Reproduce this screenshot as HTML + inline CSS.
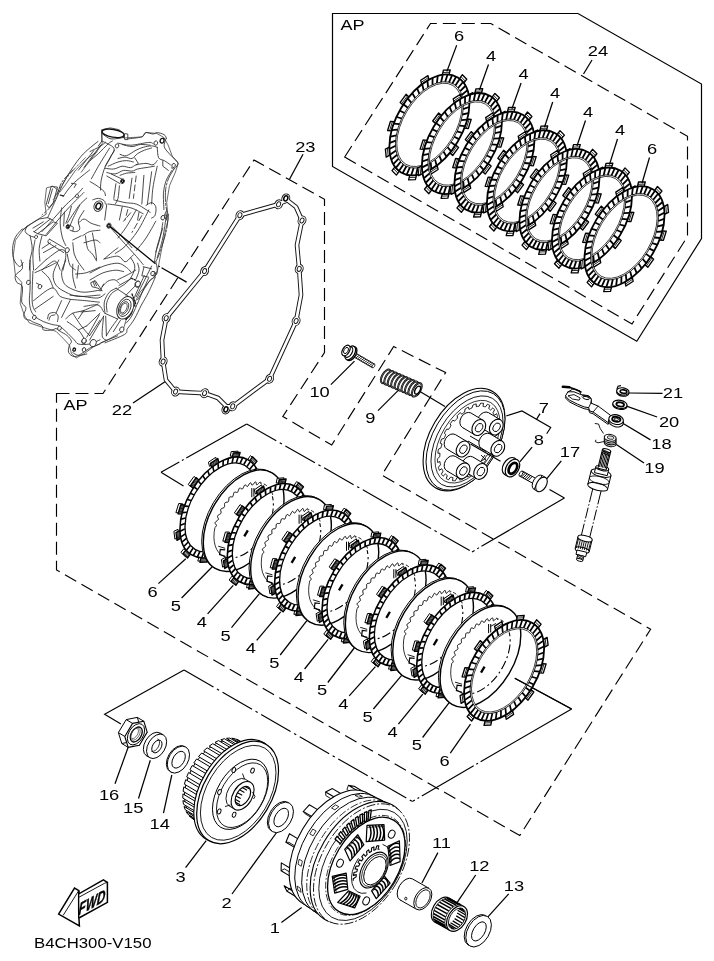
<!DOCTYPE html>
<html><head><meta charset="utf-8"><style>
html,body{margin:0;padding:0;background:#fff}
svg{display:block;filter:grayscale(1)}
text{font-family:"Liberation Sans",sans-serif;fill:#000}
</style></head><body>
<svg width="714" height="961" viewBox="0 0 714 961">
<rect width="714" height="961" fill="#fff"/>
<path d="M332.5 13.5L578.0 13.5L701.5 84.0L701.5 238.6L636.8 341.2L332.5 166.4Z" fill="none" stroke="#000" stroke-width="1.2" />
<path d="M344.7 157.0L430.5 23.5L490.8 23.5L687.5 136.3L687.5 236.5L632.0 324.0Z" fill="none" stroke="#000" stroke-width="1.15" stroke-dasharray="13 6"/>
<path d="M56.5 393.5L103.0 393.5L254.0 160.0L324.5 199.3L324.5 352.6L282.8 416.5L331.7 445.0L393.7 346.5L445.6 372.6L381.8 475.0L650.6 629.3L519.8 835.5L56.5 570.0Z" fill="none" stroke="#000" stroke-width="1.15" stroke-dasharray="13 6"/>
<path d="M161.0 472.3L246.7 423.9" fill="none" stroke="#000" stroke-width="1.15" stroke-dasharray="21 3 2 3 200"/>
<path d="M161.0 472.3L183.5 486.0" fill="none" stroke="#000" stroke-width="1.15" />
<path d="M246.7 423.9L472.0 551.9" fill="none" stroke="#000" stroke-width="1.15" stroke-dasharray="34 4 2.5 4"/>
<path d="M472.0 551.9L564.4 498.0" fill="none" stroke="#000" stroke-width="1.15" stroke-dasharray="3 3 2 3 200"/>
<path d="M564.4 498.0L549.5 489.6" fill="none" stroke="#000" stroke-width="1.15" />
<path d="M120.9 724.1L104.6 714.3L184.0 670.1" fill="none" stroke="#000" stroke-width="1.15" />
<path d="M184.0 670.1L412.3 801.5" fill="none" stroke="#000" stroke-width="1.15" stroke-dasharray="34 4 2.5 4"/>
<path d="M412.3 801.5L571.6 708.9" fill="none" stroke="#000" stroke-width="1.15" stroke-dasharray="3 3 2 3 60 3 2 3 200"/>
<path d="M571.6 708.9L514.8 678.2" fill="none" stroke="#000" stroke-width="1.15" />
<path d="M506.4 415.9L522.0 410.9L550.7 427.5L546.7 433.8" fill="none" stroke="#000" stroke-width="1.15" />
<path d="M464.3 128.2L468.3 128.5L471.2 119.3L467.3 119.0Z" fill="#fff" stroke="#000" stroke-width="1.35" stroke-linejoin="round"/>
<path d="M466.3 128.4L469.2 119.2" fill="none" stroke="#000" stroke-width="0.85" />
<path d="M469.4 102.6L473.4 100.6L472.6 92.7L468.7 94.8Z" fill="#fff" stroke="#000" stroke-width="1.35" stroke-linejoin="round"/>
<path d="M471.4 101.6L470.6 93.7" fill="none" stroke="#000" stroke-width="0.85" />
<path d="M463.8 83.0L466.8 79.2L462.4 74.7L459.5 78.6Z" fill="#fff" stroke="#000" stroke-width="1.35" stroke-linejoin="round"/>
<path d="M465.3 81.1L461.0 76.7" fill="none" stroke="#000" stroke-width="0.85" />
<path d="M449.0 74.6L450.2 70.0L443.4 70.2L442.3 74.8Z" fill="#fff" stroke="#000" stroke-width="1.35" stroke-linejoin="round"/>
<path d="M449.6 72.3L442.9 72.5" fill="none" stroke="#000" stroke-width="0.85" />
<path d="M428.9 79.7L428.0 75.6L420.7 80.3L421.7 84.5Z" fill="#fff" stroke="#000" stroke-width="1.35" stroke-linejoin="round"/>
<path d="M428.4 77.6L421.2 82.4" fill="none" stroke="#000" stroke-width="0.85" />
<path d="M408.9 96.9L406.1 94.3L400.2 102.4L403.1 104.9Z" fill="#fff" stroke="#000" stroke-width="1.35" stroke-linejoin="round"/>
<path d="M407.6 95.6L401.7 103.7" fill="none" stroke="#000" stroke-width="0.85" />
<path d="M394.5 121.6L390.5 121.3L387.6 130.5L391.5 130.8Z" fill="#fff" stroke="#000" stroke-width="1.35" stroke-linejoin="round"/>
<path d="M392.5 121.4L389.6 130.6" fill="none" stroke="#000" stroke-width="0.85" />
<path d="M389.4 147.2L385.4 149.2L386.2 157.1L390.1 155.0Z" fill="#fff" stroke="#000" stroke-width="1.35" stroke-linejoin="round"/>
<path d="M387.4 148.2L388.2 156.1" fill="none" stroke="#000" stroke-width="0.85" />
<path d="M395.0 166.8L392.0 170.6L396.4 175.1L399.3 171.2Z" fill="#fff" stroke="#000" stroke-width="1.35" stroke-linejoin="round"/>
<path d="M393.5 168.7L397.8 173.1" fill="none" stroke="#000" stroke-width="0.85" />
<path d="M409.8 175.2L408.6 179.8L415.4 179.6L416.5 175.0Z" fill="#fff" stroke="#000" stroke-width="1.35" stroke-linejoin="round"/>
<path d="M409.2 177.5L415.9 177.3" fill="none" stroke="#000" stroke-width="0.85" />
<path d="M429.9 170.1L430.8 174.2L438.1 169.5L437.1 165.3Z" fill="#fff" stroke="#000" stroke-width="1.35" stroke-linejoin="round"/>
<path d="M430.4 172.2L437.6 167.4" fill="none" stroke="#000" stroke-width="0.85" />
<path d="M449.9 152.9L452.7 155.5L458.6 147.4L455.7 144.9Z" fill="#fff" stroke="#000" stroke-width="1.35" stroke-linejoin="round"/>
<path d="M451.2 154.2L457.1 146.1" fill="none" stroke="#000" stroke-width="0.85" />
<path d="M457.66 141.75A32.90 55.30 30.80 0 0 457.72 77.40A32.90 55.30 30.80 0 0 401.14 108.05A32.90 55.30 30.80 0 0 401.08 172.40A32.90 55.30 30.80 0 0 457.66 141.75Z M452.25 138.52A26.60 46.20 30.80 0 0 453.06 85.22A26.60 46.20 30.80 0 0 406.55 111.28A26.60 46.20 30.80 0 0 405.74 164.58A26.60 46.20 30.80 0 0 452.25 138.52Z" fill="#fff" stroke="none" stroke-width="0" fill-rule="evenodd"/>
<path d="M454.3 136.8L458.9 139.1M457.0 131.3L462.1 132.8M459.4 125.7L464.8 126.2M461.2 120.1L466.9 119.7M462.4 114.5L468.3 113.2M463.1 109.2L469.0 107.0M463.2 104.1L469.1 101.0M462.8 99.3L468.5 95.4M461.7 95.0L467.2 90.4M460.2 91.2L465.3 86.0M458.1 88.0L462.8 82.2M455.4 85.4L459.7 79.1M452.4 83.5L456.1 76.8M449.0 82.3L452.0 75.4M445.2 81.8L447.5 74.8M441.1 82.1L442.7 75.1M436.9 83.1L437.7 76.2M432.5 84.8L432.6 78.1M428.1 87.2L427.4 80.8M423.7 90.2L422.2 84.3M419.4 93.9L417.2 88.5M415.2 98.0L412.3 93.3M411.3 102.7L407.8 98.7M407.8 107.7L403.6 104.5M404.5 113.0L399.9 110.7M401.8 118.5L396.7 117.0M399.4 124.1L394.0 123.6M397.6 129.7L391.9 130.1M396.4 135.3L390.5 136.6M395.7 140.6L389.8 142.8M395.6 145.7L389.7 148.8M396.0 150.5L390.3 154.4M397.1 154.8L391.6 159.4M398.6 158.6L393.5 163.8M400.7 161.8L396.0 167.6M403.4 164.4L399.1 170.7M406.4 166.3L402.7 173.0M409.8 167.5L406.8 174.4M413.6 168.0L411.3 175.0M417.7 167.7L416.1 174.7M421.9 166.7L421.1 173.6M426.3 165.0L426.2 171.7M430.7 162.6L431.4 169.0M435.1 159.6L436.6 165.5M439.4 155.9L441.6 161.3M443.6 151.8L446.5 156.5M447.5 147.1L451.0 151.1M451.0 142.1L455.2 145.3" fill="none" stroke="#000" stroke-width="1.8" />
<path d="M457.66 141.75A32.90 55.30 30.80 0 0 457.72 77.40A32.90 55.30 30.80 0 0 401.14 108.05A32.90 55.30 30.80 0 0 401.08 172.40A32.90 55.30 30.80 0 0 457.66 141.75Z" fill="none" stroke="#000" stroke-width="1.8" />
<path d="M453.11 139.03A27.60 47.50 30.80 0 0 453.72 84.10A27.60 47.50 30.80 0 0 405.69 110.77A27.60 47.50 30.80 0 0 405.08 165.70A27.60 47.50 30.80 0 0 453.11 139.03Z" fill="none" stroke="#000" stroke-width="0.85" />
<path d="M451.99 138.37A26.30 45.90 30.80 0 0 452.90 85.47A26.30 45.90 30.80 0 0 406.81 111.43A26.30 45.90 30.80 0 0 405.90 164.33A26.30 45.90 30.80 0 0 451.99 138.37Z" fill="none" stroke="#000" stroke-width="0.75" />
<path d="M496.8 146.8L500.8 147.2L503.7 138.0L499.8 137.7Z" fill="#fff" stroke="#000" stroke-width="1.35" stroke-linejoin="round"/>
<path d="M498.8 147.0L501.7 137.8" fill="none" stroke="#000" stroke-width="0.85" />
<path d="M501.9 121.2L506.0 119.2L505.1 111.3L501.2 113.4Z" fill="#fff" stroke="#000" stroke-width="1.35" stroke-linejoin="round"/>
<path d="M503.9 120.2L503.1 112.4" fill="none" stroke="#000" stroke-width="0.85" />
<path d="M496.3 101.6L499.4 97.8L494.9 93.4L492.0 97.3Z" fill="#fff" stroke="#000" stroke-width="1.35" stroke-linejoin="round"/>
<path d="M497.8 99.7L493.5 95.3" fill="none" stroke="#000" stroke-width="0.85" />
<path d="M481.5 93.2L482.7 88.7L475.9 88.8L474.8 93.5Z" fill="#fff" stroke="#000" stroke-width="1.35" stroke-linejoin="round"/>
<path d="M482.1 91.0L475.4 91.2" fill="none" stroke="#000" stroke-width="0.85" />
<path d="M461.4 98.3L460.5 94.2L453.2 98.9L454.2 103.1Z" fill="#fff" stroke="#000" stroke-width="1.35" stroke-linejoin="round"/>
<path d="M461.0 96.3L453.7 101.0" fill="none" stroke="#000" stroke-width="0.85" />
<path d="M441.5 115.5L438.7 113.0L432.7 121.0L435.6 123.6Z" fill="#fff" stroke="#000" stroke-width="1.35" stroke-linejoin="round"/>
<path d="M440.1 114.3L434.2 122.3" fill="none" stroke="#000" stroke-width="0.85" />
<path d="M427.0 140.3L423.1 139.9L420.1 149.1L424.1 149.4Z" fill="#fff" stroke="#000" stroke-width="1.35" stroke-linejoin="round"/>
<path d="M425.0 140.1L422.1 149.3" fill="none" stroke="#000" stroke-width="0.85" />
<path d="M421.9 165.8L417.9 167.8L418.7 175.7L422.7 173.6Z" fill="#fff" stroke="#000" stroke-width="1.35" stroke-linejoin="round"/>
<path d="M419.9 166.8L420.7 174.7" fill="none" stroke="#000" stroke-width="0.85" />
<path d="M427.5 185.4L424.5 189.2L428.9 193.7L431.8 189.8Z" fill="#fff" stroke="#000" stroke-width="1.35" stroke-linejoin="round"/>
<path d="M426.0 187.3L430.3 191.8" fill="none" stroke="#000" stroke-width="0.85" />
<path d="M442.4 193.8L441.1 198.4L447.9 198.2L449.0 193.6Z" fill="#fff" stroke="#000" stroke-width="1.35" stroke-linejoin="round"/>
<path d="M441.7 196.1L448.4 195.9" fill="none" stroke="#000" stroke-width="0.85" />
<path d="M462.4 188.7L463.3 192.9L470.7 188.1L469.6 184.0Z" fill="#fff" stroke="#000" stroke-width="1.35" stroke-linejoin="round"/>
<path d="M462.9 190.8L470.2 186.0" fill="none" stroke="#000" stroke-width="0.85" />
<path d="M482.4 171.5L485.2 174.1L491.1 166.1L488.2 163.5Z" fill="#fff" stroke="#000" stroke-width="1.35" stroke-linejoin="round"/>
<path d="M483.8 172.8L489.7 164.8" fill="none" stroke="#000" stroke-width="0.85" />
<path d="M490.18 160.38A32.90 55.30 30.80 0 0 490.23 96.03A32.90 55.30 30.80 0 0 433.66 126.69A32.90 55.30 30.80 0 0 433.60 191.03A32.90 55.30 30.80 0 0 490.18 160.38Z M484.76 157.15A26.60 46.20 30.80 0 0 485.57 103.85A26.60 46.20 30.80 0 0 439.07 129.91A26.60 46.20 30.80 0 0 438.26 183.22A26.60 46.20 30.80 0 0 484.76 157.15Z" fill="#fff" stroke="none" stroke-width="0" fill-rule="evenodd"/>
<path d="M486.8 155.5L491.4 157.8M489.6 150.0L494.7 151.4M491.9 144.3L497.3 144.9M493.7 138.7L499.4 138.3M494.9 133.2L500.8 131.8M495.6 127.8L501.6 125.6M495.8 122.7L501.6 119.6M495.3 118.0L501.0 114.1M494.3 113.6L499.8 109.0M492.7 109.9L497.8 104.6M490.6 106.6L495.3 100.8M488.0 104.0L492.2 97.7M484.9 102.1L488.6 95.5M481.5 100.9L484.5 94.0M477.7 100.5L480.0 93.4M473.7 100.7L475.2 93.7M469.4 101.7L470.2 94.8M465.0 103.4L465.1 96.7M460.6 105.8L459.9 99.5M456.2 108.9L454.7 103.0M451.9 112.5L449.7 107.2M447.8 116.7L444.8 112.0M443.9 121.3L440.3 117.3M440.3 126.3L436.1 123.1M437.1 131.6L432.4 129.3M434.3 137.1L429.2 135.7M432.0 142.7L426.5 142.2M430.1 148.4L424.4 148.8M428.9 153.9L423.0 155.2M428.2 159.3L422.3 161.5M428.1 164.4L422.2 167.4M428.5 169.1L422.8 173.0M429.6 173.4L424.1 178.0M431.2 177.2L426.0 182.5M433.3 180.4L428.5 186.3M435.9 183.0L431.6 189.3M438.9 184.9L435.3 191.6M442.4 186.1L439.3 193.0M446.1 186.6L443.8 193.6M450.2 186.3L448.6 193.4M454.4 185.3L453.6 192.3M458.8 183.6L458.7 190.3M463.2 181.2L463.9 187.6M467.6 178.2L469.1 184.1M471.9 174.6L474.2 179.9M476.1 170.4L479.0 175.1M480.0 165.8L483.5 169.7M483.6 160.8L487.7 163.9" fill="none" stroke="#000" stroke-width="1.8" />
<path d="M490.18 160.38A32.90 55.30 30.80 0 0 490.23 96.03A32.90 55.30 30.80 0 0 433.66 126.69A32.90 55.30 30.80 0 0 433.60 191.03A32.90 55.30 30.80 0 0 490.18 160.38Z" fill="none" stroke="#000" stroke-width="1.8" />
<path d="M485.62 157.67A27.60 47.50 30.80 0 0 486.24 102.73A27.60 47.50 30.80 0 0 438.21 129.40A27.60 47.50 30.80 0 0 437.59 184.33A27.60 47.50 30.80 0 0 485.62 157.67Z" fill="none" stroke="#000" stroke-width="0.85" />
<path d="M484.51 157.00A26.30 45.90 30.80 0 0 485.42 104.11A26.30 45.90 30.80 0 0 439.33 130.07A26.30 45.90 30.80 0 0 438.41 182.96A26.30 45.90 30.80 0 0 484.51 157.00Z" fill="none" stroke="#000" stroke-width="0.75" />
<path d="M529.3 165.4L533.3 165.8L536.2 156.6L532.3 156.3Z" fill="#fff" stroke="#000" stroke-width="1.35" stroke-linejoin="round"/>
<path d="M531.3 165.6L534.3 156.4" fill="none" stroke="#000" stroke-width="0.85" />
<path d="M534.4 139.9L538.5 137.9L537.6 130.0L533.7 132.1Z" fill="#fff" stroke="#000" stroke-width="1.35" stroke-linejoin="round"/>
<path d="M536.5 138.9L535.7 131.0" fill="none" stroke="#000" stroke-width="0.85" />
<path d="M528.8 120.3L531.9 116.5L527.5 112.0L524.6 115.9Z" fill="#fff" stroke="#000" stroke-width="1.35" stroke-linejoin="round"/>
<path d="M530.3 118.4L526.0 113.9" fill="none" stroke="#000" stroke-width="0.85" />
<path d="M514.0 111.9L515.2 107.3L508.5 107.5L507.4 112.1Z" fill="#fff" stroke="#000" stroke-width="1.35" stroke-linejoin="round"/>
<path d="M514.6 109.6L507.9 109.8" fill="none" stroke="#000" stroke-width="0.85" />
<path d="M493.9 117.0L493.0 112.8L485.7 117.6L486.7 121.7Z" fill="#fff" stroke="#000" stroke-width="1.35" stroke-linejoin="round"/>
<path d="M493.5 114.9L486.2 119.7" fill="none" stroke="#000" stroke-width="0.85" />
<path d="M474.0 134.2L471.2 131.6L465.3 139.6L468.1 142.2Z" fill="#fff" stroke="#000" stroke-width="1.35" stroke-linejoin="round"/>
<path d="M472.6 132.9L466.7 140.9" fill="none" stroke="#000" stroke-width="0.85" />
<path d="M459.5 158.9L455.6 158.5L452.7 167.7L456.6 168.0Z" fill="#fff" stroke="#000" stroke-width="1.35" stroke-linejoin="round"/>
<path d="M457.6 158.7L454.6 167.9" fill="none" stroke="#000" stroke-width="0.85" />
<path d="M454.4 184.5L450.4 186.5L451.2 194.4L455.2 192.3Z" fill="#fff" stroke="#000" stroke-width="1.35" stroke-linejoin="round"/>
<path d="M452.4 185.5L453.2 193.3" fill="none" stroke="#000" stroke-width="0.85" />
<path d="M460.1 204.1L457.0 207.9L461.4 212.3L464.3 208.4Z" fill="#fff" stroke="#000" stroke-width="1.35" stroke-linejoin="round"/>
<path d="M458.5 206.0L462.9 210.4" fill="none" stroke="#000" stroke-width="0.85" />
<path d="M474.9 212.5L473.6 217.0L480.4 216.9L481.5 212.2Z" fill="#fff" stroke="#000" stroke-width="1.35" stroke-linejoin="round"/>
<path d="M474.3 214.7L481.0 214.5" fill="none" stroke="#000" stroke-width="0.85" />
<path d="M495.0 207.4L495.9 211.5L503.2 206.8L502.2 202.6Z" fill="#fff" stroke="#000" stroke-width="1.35" stroke-linejoin="round"/>
<path d="M495.4 209.4L502.7 204.7" fill="none" stroke="#000" stroke-width="0.85" />
<path d="M514.9 190.2L517.7 192.7L523.6 184.7L520.8 182.1Z" fill="#fff" stroke="#000" stroke-width="1.35" stroke-linejoin="round"/>
<path d="M516.3 191.4L522.2 183.4" fill="none" stroke="#000" stroke-width="0.85" />
<path d="M522.69 179.01A32.90 55.30 30.80 0 0 522.75 114.67A32.90 55.30 30.80 0 0 466.17 145.32A32.90 55.30 30.80 0 0 466.12 209.67A32.90 55.30 30.80 0 0 522.69 179.01Z M517.28 175.79A26.60 46.20 30.80 0 0 518.09 122.48A26.60 46.20 30.80 0 0 471.59 148.55A26.60 46.20 30.80 0 0 470.78 201.85A26.60 46.20 30.80 0 0 517.28 175.79Z" fill="#fff" stroke="none" stroke-width="0" fill-rule="evenodd"/>
<path d="M519.3 174.1L524.0 176.4M522.1 168.6L527.2 170.0M524.4 163.0L529.8 163.5M526.2 157.3L531.9 156.9M527.5 151.8L533.3 150.5M528.2 146.4L534.1 144.2M528.3 141.3L534.2 138.3M527.8 136.6L533.6 132.7M526.8 132.3L532.3 127.7M525.2 128.5L530.4 123.2M523.1 125.3L527.8 119.4M520.5 122.7L524.7 116.4M517.4 120.8L521.1 114.1M514.0 119.6L517.0 112.7M510.2 119.1L512.5 112.1M506.2 119.4L507.8 112.3M501.9 120.4L502.8 113.4M497.5 122.1L497.6 115.4M493.1 124.5L492.4 118.1M488.7 127.5L487.2 121.6M484.4 131.1L482.2 125.8M480.3 135.3L477.4 130.6M476.4 139.9L472.8 136.0M472.8 144.9L468.6 141.8M469.6 150.2L464.9 147.9M466.8 155.7L461.7 154.3M464.5 161.4L459.0 160.8M462.7 167.0L457.0 167.4M461.4 172.5L455.5 173.9M460.7 177.9L454.8 180.1M460.6 183.0L454.7 186.1M461.1 187.7L455.3 191.6M462.1 192.1L456.6 196.7M463.7 195.8L458.5 201.1M465.8 199.1L461.0 204.9M468.4 201.7L464.2 208.0M471.4 203.6L467.8 210.2M474.9 204.8L471.9 211.7M478.6 205.2L476.3 212.3M482.7 205.0L481.1 212.0M486.9 204.0L486.1 210.9M491.3 202.3L491.3 209.0M495.7 199.9L496.5 206.2M500.2 196.8L501.6 202.7M504.5 193.2L506.7 198.5M508.6 189.0L511.5 193.7M512.5 184.4L516.1 188.4M516.1 179.4L520.2 182.6" fill="none" stroke="#000" stroke-width="1.8" />
<path d="M522.69 179.01A32.90 55.30 30.80 0 0 522.75 114.67A32.90 55.30 30.80 0 0 466.17 145.32A32.90 55.30 30.80 0 0 466.12 209.67A32.90 55.30 30.80 0 0 522.69 179.01Z" fill="none" stroke="#000" stroke-width="1.8" />
<path d="M518.14 176.30A27.60 47.50 30.80 0 0 518.76 121.37A27.60 47.50 30.80 0 0 470.73 148.03A27.60 47.50 30.80 0 0 470.11 202.97A27.60 47.50 30.80 0 0 518.14 176.30Z" fill="none" stroke="#000" stroke-width="0.85" />
<path d="M517.02 175.63A26.30 45.90 30.80 0 0 517.94 122.74A26.30 45.90 30.80 0 0 471.84 148.70A26.30 45.90 30.80 0 0 470.93 201.59A26.30 45.90 30.80 0 0 517.02 175.63Z" fill="none" stroke="#000" stroke-width="0.75" />
<path d="M561.9 184.1L565.8 184.4L568.7 175.2L564.8 174.9Z" fill="#fff" stroke="#000" stroke-width="1.35" stroke-linejoin="round"/>
<path d="M563.8 184.3L566.8 175.1" fill="none" stroke="#000" stroke-width="0.85" />
<path d="M567.0 158.5L571.0 156.5L570.1 148.6L566.2 150.7Z" fill="#fff" stroke="#000" stroke-width="1.35" stroke-linejoin="round"/>
<path d="M569.0 157.5L568.2 149.6" fill="none" stroke="#000" stroke-width="0.85" />
<path d="M561.3 138.9L564.4 135.1L560.0 130.6L557.1 134.5Z" fill="#fff" stroke="#000" stroke-width="1.35" stroke-linejoin="round"/>
<path d="M562.9 137.0L558.5 132.6" fill="none" stroke="#000" stroke-width="0.85" />
<path d="M546.5 130.5L547.7 125.9L541.0 126.1L539.9 130.7Z" fill="#fff" stroke="#000" stroke-width="1.35" stroke-linejoin="round"/>
<path d="M547.1 128.2L540.4 128.4" fill="none" stroke="#000" stroke-width="0.85" />
<path d="M526.4 135.6L525.5 131.5L518.2 136.2L519.2 140.4Z" fill="#fff" stroke="#000" stroke-width="1.35" stroke-linejoin="round"/>
<path d="M526.0 133.5L518.7 138.3" fill="none" stroke="#000" stroke-width="0.85" />
<path d="M506.5 152.8L503.7 150.2L497.8 158.3L500.6 160.8Z" fill="#fff" stroke="#000" stroke-width="1.35" stroke-linejoin="round"/>
<path d="M505.1 151.5L499.2 159.6" fill="none" stroke="#000" stroke-width="0.85" />
<path d="M492.0 177.5L488.1 177.2L485.2 186.4L489.1 186.7Z" fill="#fff" stroke="#000" stroke-width="1.35" stroke-linejoin="round"/>
<path d="M490.1 177.3L487.1 186.5" fill="none" stroke="#000" stroke-width="0.85" />
<path d="M486.9 203.1L482.9 205.1L483.8 213.0L487.7 210.9Z" fill="#fff" stroke="#000" stroke-width="1.35" stroke-linejoin="round"/>
<path d="M484.9 204.1L485.7 212.0" fill="none" stroke="#000" stroke-width="0.85" />
<path d="M492.6 222.7L489.5 226.5L493.9 231.0L496.8 227.1Z" fill="#fff" stroke="#000" stroke-width="1.35" stroke-linejoin="round"/>
<path d="M491.0 224.6L495.4 229.0" fill="none" stroke="#000" stroke-width="0.85" />
<path d="M507.4 231.1L506.2 235.7L512.9 235.5L514.0 230.9Z" fill="#fff" stroke="#000" stroke-width="1.35" stroke-linejoin="round"/>
<path d="M506.8 233.4L513.5 233.2" fill="none" stroke="#000" stroke-width="0.85" />
<path d="M527.5 226.0L528.4 230.1L535.7 225.4L534.7 221.2Z" fill="#fff" stroke="#000" stroke-width="1.35" stroke-linejoin="round"/>
<path d="M527.9 228.1L535.2 223.3" fill="none" stroke="#000" stroke-width="0.85" />
<path d="M547.4 208.8L550.2 211.4L556.1 203.3L553.3 200.8Z" fill="#fff" stroke="#000" stroke-width="1.35" stroke-linejoin="round"/>
<path d="M548.8 210.1L554.7 202.0" fill="none" stroke="#000" stroke-width="0.85" />
<path d="M555.21 197.65A32.90 55.30 30.80 0 0 555.27 133.30A32.90 55.30 30.80 0 0 498.69 163.95A32.90 55.30 30.80 0 0 498.63 228.30A32.90 55.30 30.80 0 0 555.21 197.65Z M549.80 194.42A26.60 46.20 30.80 0 0 550.61 141.12A26.60 46.20 30.80 0 0 504.10 167.18A26.60 46.20 30.80 0 0 503.29 220.48A26.60 46.20 30.80 0 0 549.80 194.42Z" fill="#fff" stroke="none" stroke-width="0" fill-rule="evenodd"/>
<path d="M551.8 192.7L556.5 195.0M554.6 187.2L559.7 188.7M556.9 181.6L562.4 182.1M558.7 176.0L564.4 175.6M560.0 170.4L565.8 169.1M560.7 165.1L566.6 162.9M560.8 160.0L566.7 156.9M560.3 155.2L566.1 151.3M559.3 150.9L564.8 146.3M557.7 147.1L562.9 141.9M555.6 143.9L560.3 138.1M553.0 141.3L557.2 135.0M550.0 139.4L553.6 132.7M546.5 138.2L549.5 131.3M542.7 137.7L545.1 130.7M538.7 138.0L540.3 131.0M534.4 139.0L535.3 132.1M530.1 140.7L530.1 134.0M525.6 143.1L524.9 136.7M521.2 146.1L519.8 140.2M516.9 149.8L514.7 144.4M512.8 153.9L509.9 149.2M508.9 158.6L505.3 154.6M505.3 163.6L501.2 160.4M502.1 168.9L497.4 166.6M499.3 174.4L494.2 172.9M497.0 180.0L491.5 179.5M495.2 185.6L489.5 186.0M493.9 191.2L488.1 192.5M493.2 196.5L487.3 198.7M493.1 201.6L487.2 204.7M493.6 206.4L487.8 210.3M494.6 210.7L489.1 215.3M496.2 214.5L491.0 219.7M498.3 217.7L493.6 223.5M500.9 220.3L496.7 226.6M503.9 222.2L500.3 228.9M507.4 223.4L504.4 230.3M511.2 223.9L508.8 230.9M515.2 223.6L513.6 230.6M519.5 222.6L518.6 229.5M523.8 220.9L523.8 227.6M528.3 218.5L529.0 224.9M532.7 215.5L534.1 221.4M537.0 211.8L539.2 217.2M541.1 207.7L544.0 212.4M545.0 203.0L548.6 207.0M548.6 198.0L552.7 201.2" fill="none" stroke="#000" stroke-width="1.8" />
<path d="M555.21 197.65A32.90 55.30 30.80 0 0 555.27 133.30A32.90 55.30 30.80 0 0 498.69 163.95A32.90 55.30 30.80 0 0 498.63 228.30A32.90 55.30 30.80 0 0 555.21 197.65Z" fill="none" stroke="#000" stroke-width="1.8" />
<path d="M550.66 194.93A27.60 47.50 30.80 0 0 551.27 140.00A27.60 47.50 30.80 0 0 503.24 166.67A27.60 47.50 30.80 0 0 502.63 221.60A27.60 47.50 30.80 0 0 550.66 194.93Z" fill="none" stroke="#000" stroke-width="0.85" />
<path d="M549.54 194.27A26.30 45.90 30.80 0 0 550.45 141.37A26.30 45.90 30.80 0 0 504.36 167.33A26.30 45.90 30.80 0 0 503.45 220.23A26.30 45.90 30.80 0 0 549.54 194.27Z" fill="none" stroke="#000" stroke-width="0.75" />
<path d="M594.4 202.7L598.3 203.1L601.2 193.9L597.3 193.6Z" fill="#fff" stroke="#000" stroke-width="1.35" stroke-linejoin="round"/>
<path d="M596.3 202.9L599.3 193.7" fill="none" stroke="#000" stroke-width="0.85" />
<path d="M599.5 177.1L603.5 175.1L602.7 167.2L598.7 169.3Z" fill="#fff" stroke="#000" stroke-width="1.35" stroke-linejoin="round"/>
<path d="M601.5 176.1L600.7 168.3" fill="none" stroke="#000" stroke-width="0.85" />
<path d="M593.8 157.5L596.9 153.7L592.5 149.3L589.6 153.2Z" fill="#fff" stroke="#000" stroke-width="1.35" stroke-linejoin="round"/>
<path d="M595.4 155.6L591.0 151.2" fill="none" stroke="#000" stroke-width="0.85" />
<path d="M579.0 149.1L580.3 144.6L573.5 144.7L572.4 149.4Z" fill="#fff" stroke="#000" stroke-width="1.35" stroke-linejoin="round"/>
<path d="M579.6 146.9L572.9 147.1" fill="none" stroke="#000" stroke-width="0.85" />
<path d="M558.9 154.2L558.0 150.1L550.7 154.8L551.7 159.0Z" fill="#fff" stroke="#000" stroke-width="1.35" stroke-linejoin="round"/>
<path d="M558.5 152.2L551.2 156.9" fill="none" stroke="#000" stroke-width="0.85" />
<path d="M539.0 171.4L536.2 168.9L530.3 176.9L533.1 179.5Z" fill="#fff" stroke="#000" stroke-width="1.35" stroke-linejoin="round"/>
<path d="M537.6 170.2L531.7 178.2" fill="none" stroke="#000" stroke-width="0.85" />
<path d="M524.6 196.2L520.6 195.8L517.7 205.0L521.6 205.3Z" fill="#fff" stroke="#000" stroke-width="1.35" stroke-linejoin="round"/>
<path d="M522.6 196.0L519.6 205.2" fill="none" stroke="#000" stroke-width="0.85" />
<path d="M519.5 221.7L515.4 223.7L516.3 231.6L520.2 229.5Z" fill="#fff" stroke="#000" stroke-width="1.35" stroke-linejoin="round"/>
<path d="M517.4 222.7L518.2 230.6" fill="none" stroke="#000" stroke-width="0.85" />
<path d="M525.1 241.3L522.0 245.1L526.4 249.6L529.3 245.7Z" fill="#fff" stroke="#000" stroke-width="1.35" stroke-linejoin="round"/>
<path d="M523.6 243.2L527.9 247.7" fill="none" stroke="#000" stroke-width="0.85" />
<path d="M539.9 249.7L538.7 254.3L545.4 254.1L546.5 249.5Z" fill="#fff" stroke="#000" stroke-width="1.35" stroke-linejoin="round"/>
<path d="M539.3 252.0L546.0 251.8" fill="none" stroke="#000" stroke-width="0.85" />
<path d="M560.0 244.6L560.9 248.8L568.2 244.0L567.2 239.9Z" fill="#fff" stroke="#000" stroke-width="1.35" stroke-linejoin="round"/>
<path d="M560.4 246.7L567.7 241.9" fill="none" stroke="#000" stroke-width="0.85" />
<path d="M579.9 227.4L582.7 230.0L588.6 222.0L585.8 219.4Z" fill="#fff" stroke="#000" stroke-width="1.35" stroke-linejoin="round"/>
<path d="M581.3 228.7L587.2 220.7" fill="none" stroke="#000" stroke-width="0.85" />
<path d="M587.73 216.28A32.90 55.30 30.80 0 0 587.78 151.93A32.90 55.30 30.80 0 0 531.21 182.59A32.90 55.30 30.80 0 0 531.15 246.93A32.90 55.30 30.80 0 0 587.73 216.28Z M582.31 213.05A26.60 46.20 30.80 0 0 583.12 159.75A26.60 46.20 30.80 0 0 536.62 185.81A26.60 46.20 30.80 0 0 535.81 239.12A26.60 46.20 30.80 0 0 582.31 213.05Z" fill="#fff" stroke="none" stroke-width="0" fill-rule="evenodd"/>
<path d="M584.3 211.4L589.0 213.7M587.1 205.9L592.2 207.3M589.4 200.2L594.9 200.8M591.2 194.6L596.9 194.2M592.5 189.1L598.4 187.7M593.2 183.7L599.1 181.5M593.3 178.6L599.2 175.5M592.8 173.9L598.6 170.0M591.8 169.5L597.3 164.9M590.2 165.8L595.4 160.5M588.1 162.5L592.9 156.7M585.5 159.9L589.7 153.6M582.5 158.0L586.1 151.4M579.0 156.8L582.0 149.9M575.3 156.4L577.6 149.3M571.2 156.6L572.8 149.6M567.0 157.6L567.8 150.7M562.6 159.3L562.6 152.6M558.2 161.7L557.4 155.4M553.7 164.8L552.3 158.9M549.4 168.4L547.2 163.1M545.3 172.6L542.4 167.9M541.4 177.2L537.8 173.2M537.8 182.2L533.7 179.0M534.6 187.5L529.9 185.2M531.8 193.0L526.7 191.6M529.5 198.6L524.1 198.1M527.7 204.3L522.0 204.7M526.4 209.8L520.6 211.1M525.7 215.2L519.8 217.4M525.6 220.3L519.7 223.3M526.1 225.0L520.3 228.9M527.1 229.3L521.6 233.9M528.7 233.1L523.5 238.4M530.8 236.3L526.1 242.2M533.4 238.9L529.2 245.2M536.5 240.8L532.8 247.5M539.9 242.0L536.9 248.9M543.7 242.5L541.4 249.5M547.7 242.2L546.1 249.3M552.0 241.2L551.1 248.2M556.4 239.5L556.3 246.2M560.8 237.1L561.5 243.5M565.2 234.1L566.7 240.0M569.5 230.5L571.7 235.8M573.6 226.3L576.5 231.0M577.5 221.7L581.1 225.6M581.1 216.7L585.3 219.8" fill="none" stroke="#000" stroke-width="1.8" />
<path d="M587.73 216.28A32.90 55.30 30.80 0 0 587.78 151.93A32.90 55.30 30.80 0 0 531.21 182.59A32.90 55.30 30.80 0 0 531.15 246.93A32.90 55.30 30.80 0 0 587.73 216.28Z" fill="none" stroke="#000" stroke-width="1.8" />
<path d="M583.17 213.57A27.60 47.50 30.80 0 0 583.79 158.63A27.60 47.50 30.80 0 0 535.76 185.30A27.60 47.50 30.80 0 0 535.14 240.23A27.60 47.50 30.80 0 0 583.17 213.57Z" fill="none" stroke="#000" stroke-width="0.85" />
<path d="M582.06 212.90A26.30 45.90 30.80 0 0 582.97 160.01A26.30 45.90 30.80 0 0 536.88 185.97A26.30 45.90 30.80 0 0 535.96 238.86A26.30 45.90 30.80 0 0 582.06 212.90Z" fill="none" stroke="#000" stroke-width="0.75" />
<path d="M626.9 221.3L630.8 221.7L633.8 212.5L629.8 212.2Z" fill="#fff" stroke="#000" stroke-width="1.35" stroke-linejoin="round"/>
<path d="M628.9 221.5L631.8 212.3" fill="none" stroke="#000" stroke-width="0.85" />
<path d="M632.0 195.8L636.0 193.8L635.2 185.9L631.2 188.0Z" fill="#fff" stroke="#000" stroke-width="1.35" stroke-linejoin="round"/>
<path d="M634.0 194.8L633.2 186.9" fill="none" stroke="#000" stroke-width="0.85" />
<path d="M626.4 176.2L629.4 172.4L625.0 167.9L622.1 171.8Z" fill="#fff" stroke="#000" stroke-width="1.35" stroke-linejoin="round"/>
<path d="M627.9 174.3L623.6 169.8" fill="none" stroke="#000" stroke-width="0.85" />
<path d="M611.5 167.8L612.8 163.2L606.0 163.4L604.9 168.0Z" fill="#fff" stroke="#000" stroke-width="1.35" stroke-linejoin="round"/>
<path d="M612.2 165.5L605.5 165.7" fill="none" stroke="#000" stroke-width="0.85" />
<path d="M591.5 172.9L590.6 168.7L583.2 173.5L584.3 177.6Z" fill="#fff" stroke="#000" stroke-width="1.35" stroke-linejoin="round"/>
<path d="M591.0 170.8L583.7 175.6" fill="none" stroke="#000" stroke-width="0.85" />
<path d="M571.5 190.1L568.7 187.5L562.8 195.5L565.7 198.1Z" fill="#fff" stroke="#000" stroke-width="1.35" stroke-linejoin="round"/>
<path d="M570.1 188.8L564.2 196.8" fill="none" stroke="#000" stroke-width="0.85" />
<path d="M557.1 214.8L553.1 214.4L550.2 223.6L554.1 223.9Z" fill="#fff" stroke="#000" stroke-width="1.35" stroke-linejoin="round"/>
<path d="M555.1 214.6L552.2 223.8" fill="none" stroke="#000" stroke-width="0.85" />
<path d="M552.0 240.4L547.9 242.4L548.8 250.3L552.7 248.2Z" fill="#fff" stroke="#000" stroke-width="1.35" stroke-linejoin="round"/>
<path d="M550.0 241.4L550.8 249.2" fill="none" stroke="#000" stroke-width="0.85" />
<path d="M557.6 260.0L554.5 263.8L559.0 268.2L561.9 264.3Z" fill="#fff" stroke="#000" stroke-width="1.35" stroke-linejoin="round"/>
<path d="M556.1 261.9L560.4 266.3" fill="none" stroke="#000" stroke-width="0.85" />
<path d="M572.4 268.4L571.2 272.9L578.0 272.8L579.1 268.1Z" fill="#fff" stroke="#000" stroke-width="1.35" stroke-linejoin="round"/>
<path d="M571.8 270.6L578.5 270.4" fill="none" stroke="#000" stroke-width="0.85" />
<path d="M592.5 263.3L593.4 267.4L600.7 262.7L599.7 258.5Z" fill="#fff" stroke="#000" stroke-width="1.35" stroke-linejoin="round"/>
<path d="M592.9 265.3L600.2 260.6" fill="none" stroke="#000" stroke-width="0.85" />
<path d="M612.4 246.1L615.2 248.6L621.2 240.6L618.3 238.0Z" fill="#fff" stroke="#000" stroke-width="1.35" stroke-linejoin="round"/>
<path d="M613.8 247.3L619.7 239.3" fill="none" stroke="#000" stroke-width="0.85" />
<path d="M620.24 234.91A32.90 55.30 30.80 0 0 620.30 170.57A32.90 55.30 30.80 0 0 563.72 201.22A32.90 55.30 30.80 0 0 563.67 265.57A32.90 55.30 30.80 0 0 620.24 234.91Z M614.83 231.69A26.60 46.20 30.80 0 0 615.64 178.38A26.60 46.20 30.80 0 0 569.14 204.45A26.60 46.20 30.80 0 0 568.33 257.75A26.60 46.20 30.80 0 0 614.83 231.69Z" fill="#fff" stroke="none" stroke-width="0" fill-rule="evenodd"/>
<path d="M616.8 230.0L621.5 232.3M619.6 224.5L624.7 225.9M621.9 218.9L627.4 219.4M623.8 213.2L629.5 212.8M625.0 207.7L630.9 206.4M625.7 202.3L631.6 200.1M625.8 197.2L631.7 194.2M625.4 192.5L631.1 188.6M624.3 188.2L629.8 183.6M622.7 184.4L627.9 179.1M620.6 181.2L625.4 175.3M618.0 178.6L622.3 172.3M615.0 176.7L618.6 170.0M611.5 175.5L614.6 168.6M607.8 175.0L610.1 168.0M603.7 175.3L605.3 168.2M599.5 176.3L600.3 169.3M595.1 178.0L595.2 171.3M590.7 180.4L590.0 174.0M586.3 183.4L584.8 177.5M582.0 187.0L579.7 181.7M577.8 191.2L574.9 186.5M573.9 195.8L570.4 191.9M570.3 200.8L566.2 197.7M567.1 206.1L562.5 203.8M564.3 211.6L559.2 210.2M562.0 217.3L556.6 216.7M560.2 222.9L554.5 223.3M559.0 228.4L553.1 229.8M558.3 233.8L552.3 236.0M558.1 238.9L552.3 242.0M558.6 243.6L552.9 247.5M559.6 248.0L554.1 252.6M561.2 251.7L556.1 257.0M563.3 255.0L558.6 260.8M565.9 257.6L561.7 263.9M569.0 259.5L565.3 266.1M572.4 260.7L569.4 267.6M576.2 261.1L573.9 268.2M580.2 260.9L578.7 267.9M584.5 259.9L583.7 266.8M588.9 258.2L588.8 264.9M593.3 255.8L594.0 262.1M597.7 252.7L599.2 258.6M602.0 249.1L604.2 254.4M606.1 244.9L609.1 249.6M610.0 240.3L613.6 244.3M613.6 235.3L617.8 238.5" fill="none" stroke="#000" stroke-width="1.8" />
<path d="M620.24 234.91A32.90 55.30 30.80 0 0 620.30 170.57A32.90 55.30 30.80 0 0 563.72 201.22A32.90 55.30 30.80 0 0 563.67 265.57A32.90 55.30 30.80 0 0 620.24 234.91Z" fill="none" stroke="#000" stroke-width="1.8" />
<path d="M615.69 232.20A27.60 47.50 30.80 0 0 616.31 177.27A27.60 47.50 30.80 0 0 568.28 203.93A27.60 47.50 30.80 0 0 567.66 258.87A27.60 47.50 30.80 0 0 615.69 232.20Z" fill="none" stroke="#000" stroke-width="0.85" />
<path d="M614.57 231.53A26.30 45.90 30.80 0 0 615.49 178.64A26.30 45.90 30.80 0 0 569.39 204.60A26.30 45.90 30.80 0 0 568.48 257.49A26.30 45.90 30.80 0 0 614.57 231.53Z" fill="none" stroke="#000" stroke-width="0.75" />
<path d="M659.4 240.0L663.4 240.3L666.3 231.1L662.4 230.8Z" fill="#fff" stroke="#000" stroke-width="1.35" stroke-linejoin="round"/>
<path d="M661.4 240.2L664.3 231.0" fill="none" stroke="#000" stroke-width="0.85" />
<path d="M664.5 214.4L668.5 212.4L667.7 204.5L663.8 206.6Z" fill="#fff" stroke="#000" stroke-width="1.35" stroke-linejoin="round"/>
<path d="M666.5 213.4L665.7 205.5" fill="none" stroke="#000" stroke-width="0.85" />
<path d="M658.9 194.8L661.9 191.0L657.5 186.5L654.6 190.4Z" fill="#fff" stroke="#000" stroke-width="1.35" stroke-linejoin="round"/>
<path d="M660.4 192.9L656.1 188.5" fill="none" stroke="#000" stroke-width="0.85" />
<path d="M644.1 186.4L645.3 181.8L638.5 182.0L637.4 186.6Z" fill="#fff" stroke="#000" stroke-width="1.35" stroke-linejoin="round"/>
<path d="M644.7 184.1L638.0 184.3" fill="none" stroke="#000" stroke-width="0.85" />
<path d="M624.0 191.5L623.1 187.4L615.8 192.1L616.8 196.3Z" fill="#fff" stroke="#000" stroke-width="1.35" stroke-linejoin="round"/>
<path d="M623.5 189.4L616.3 194.2" fill="none" stroke="#000" stroke-width="0.85" />
<path d="M604.0 208.7L601.2 206.1L595.3 214.2L598.2 216.7Z" fill="#fff" stroke="#000" stroke-width="1.35" stroke-linejoin="round"/>
<path d="M602.7 207.4L596.8 215.5" fill="none" stroke="#000" stroke-width="0.85" />
<path d="M589.6 233.4L585.6 233.1L582.7 242.3L586.6 242.6Z" fill="#fff" stroke="#000" stroke-width="1.35" stroke-linejoin="round"/>
<path d="M587.6 233.2L584.7 242.4" fill="none" stroke="#000" stroke-width="0.85" />
<path d="M584.5 259.0L580.5 261.0L581.3 268.9L585.2 266.8Z" fill="#fff" stroke="#000" stroke-width="1.35" stroke-linejoin="round"/>
<path d="M582.5 260.0L583.3 267.9" fill="none" stroke="#000" stroke-width="0.85" />
<path d="M590.1 278.6L587.1 282.4L591.5 286.9L594.4 283.0Z" fill="#fff" stroke="#000" stroke-width="1.35" stroke-linejoin="round"/>
<path d="M588.6 280.5L592.9 284.9" fill="none" stroke="#000" stroke-width="0.85" />
<path d="M604.9 287.0L603.7 291.6L610.5 291.4L611.6 286.8Z" fill="#fff" stroke="#000" stroke-width="1.35" stroke-linejoin="round"/>
<path d="M604.3 289.3L611.0 289.1" fill="none" stroke="#000" stroke-width="0.85" />
<path d="M625.0 281.9L625.9 286.0L633.2 281.3L632.2 277.1Z" fill="#fff" stroke="#000" stroke-width="1.35" stroke-linejoin="round"/>
<path d="M625.5 284.0L632.7 279.2" fill="none" stroke="#000" stroke-width="0.85" />
<path d="M645.0 264.7L647.8 267.3L653.7 259.2L650.8 256.7Z" fill="#fff" stroke="#000" stroke-width="1.35" stroke-linejoin="round"/>
<path d="M646.3 266.0L652.2 257.9" fill="none" stroke="#000" stroke-width="0.85" />
<path d="M652.76 253.55A32.90 55.30 30.80 0 0 652.82 189.20A32.90 55.30 30.80 0 0 596.24 219.85A32.90 55.30 30.80 0 0 596.18 284.20A32.90 55.30 30.80 0 0 652.76 253.55Z M647.35 250.32A26.60 46.20 30.80 0 0 648.16 197.02A26.60 46.20 30.80 0 0 601.65 223.08A26.60 46.20 30.80 0 0 600.84 276.38A26.60 46.20 30.80 0 0 647.35 250.32Z" fill="#fff" stroke="none" stroke-width="0" fill-rule="evenodd"/>
<path d="M649.4 248.6L654.0 250.9M652.1 243.1L657.2 244.6M654.5 237.5L659.9 238.0M656.3 231.9L662.0 231.5M657.5 226.3L663.4 225.0M658.2 221.0L664.1 218.8M658.3 215.9L664.2 212.8M657.9 211.1L663.6 207.2M656.8 206.8L662.3 202.2M655.3 203.0L660.4 197.8M653.2 199.8L657.9 194.0M650.5 197.2L654.8 190.9M647.5 195.3L651.2 188.6M644.1 194.1L647.1 187.2M640.3 193.6L642.6 186.6M636.2 193.9L637.8 186.9M632.0 194.9L632.8 188.0M627.6 196.6L627.7 189.9M623.2 199.0L622.5 192.6M618.8 202.0L617.3 196.1M614.5 205.7L612.3 200.3M610.3 209.8L607.4 205.1M606.4 214.5L602.9 210.5M602.9 219.5L598.7 216.3M599.6 224.8L595.0 222.5M596.9 230.3L591.8 228.8M594.5 235.9L589.1 235.4M592.7 241.5L587.0 241.9M591.5 247.1L585.6 248.4M590.8 252.4L584.9 254.6M590.7 257.5L584.8 260.6M591.1 262.3L585.4 266.2M592.2 266.6L586.7 271.2M593.7 270.4L588.6 275.6M595.8 273.6L591.1 279.4M598.5 276.2L594.2 282.5M601.5 278.1L597.8 284.8M604.9 279.3L601.9 286.2M608.7 279.8L606.4 286.8M612.8 279.5L611.2 286.5M617.0 278.5L616.2 285.4M621.4 276.8L621.3 283.5M625.8 274.4L626.5 280.8M630.2 271.4L631.7 277.3M634.5 267.7L636.7 273.1M638.7 263.6L641.6 268.3M642.6 258.9L646.1 262.9M646.1 253.9L650.3 257.1" fill="none" stroke="#000" stroke-width="1.8" />
<path d="M652.76 253.55A32.90 55.30 30.80 0 0 652.82 189.20A32.90 55.30 30.80 0 0 596.24 219.85A32.90 55.30 30.80 0 0 596.18 284.20A32.90 55.30 30.80 0 0 652.76 253.55Z" fill="none" stroke="#000" stroke-width="1.8" />
<path d="M648.21 250.83A27.60 47.50 30.80 0 0 648.82 195.90A27.60 47.50 30.80 0 0 600.79 222.57A27.60 47.50 30.80 0 0 600.18 277.50A27.60 47.50 30.80 0 0 648.21 250.83Z" fill="none" stroke="#000" stroke-width="0.85" />
<path d="M647.09 250.17A26.30 45.90 30.80 0 0 648.00 197.27A26.30 45.90 30.80 0 0 601.91 223.23A26.30 45.90 30.80 0 0 601.00 276.13A26.30 45.90 30.80 0 0 647.09 250.17Z" fill="none" stroke="#000" stroke-width="0.75" />
<text transform="translate(459.20 41.46) scale(1.270 1)" font-size="14.40" text-anchor="middle">6</text>
<line x1="456.70" y1="45.30" x2="446.90" y2="71.40" stroke="#000" stroke-width="1.25" />
<text transform="translate(491.00 60.66) scale(1.270 1)" font-size="14.40" text-anchor="middle">4</text>
<line x1="488.50" y1="64.50" x2="479.42" y2="90.03" stroke="#000" stroke-width="1.25" />
<text transform="translate(523.60 79.16) scale(1.270 1)" font-size="14.40" text-anchor="middle">4</text>
<line x1="521.10" y1="83.00" x2="511.93" y2="108.67" stroke="#000" stroke-width="1.25" />
<text transform="translate(555.20 98.16) scale(1.270 1)" font-size="14.40" text-anchor="middle">4</text>
<line x1="552.70" y1="102.00" x2="544.45" y2="127.30" stroke="#000" stroke-width="1.25" />
<text transform="translate(588.00 116.66) scale(1.270 1)" font-size="14.40" text-anchor="middle">4</text>
<line x1="585.50" y1="120.50" x2="576.97" y2="145.93" stroke="#000" stroke-width="1.25" />
<text transform="translate(620.00 135.16) scale(1.270 1)" font-size="14.40" text-anchor="middle">4</text>
<line x1="617.50" y1="139.00" x2="609.48" y2="164.57" stroke="#000" stroke-width="1.25" />
<text transform="translate(652.00 153.66) scale(1.270 1)" font-size="14.40" text-anchor="middle">6</text>
<line x1="649.50" y1="157.50" x2="642.00" y2="183.20" stroke="#000" stroke-width="1.25" />
<text transform="translate(352.50 29.80) scale(1.220 1)" font-size="14.80" text-anchor="middle">AP</text>
<text transform="translate(598.00 55.66) scale(1.270 1)" font-size="14.40" text-anchor="middle">24</text>
<line x1="592.00" y1="60.00" x2="583.50" y2="74.00" stroke="#000" stroke-width="1.25" />
<path d="M253.2 508.6L257.1 508.8L260.0 499.6L256.0 499.4Z" fill="#fff" stroke="#000" stroke-width="1.0" stroke-linejoin="round"/>
<path d="M255.2 509.8L259.2 510.1L262.0 500.9L258.1 500.7Z" fill="#fff" stroke="#000" stroke-width="1.35" stroke-linejoin="round"/>
<path d="M256.5 509.8L259.2 500.8" fill="none" stroke="#000" stroke-width="0.85" />
<path d="M257.4 510.0L260.2 500.8" fill="none" stroke="#000" stroke-width="0.85" />
<path d="M258.4 510.1L261.3 500.7" fill="none" stroke="#000" stroke-width="0.85" />
<path d="M257.9 483.1L262.0 481.0L261.0 473.2L257.0 475.4Z" fill="#fff" stroke="#000" stroke-width="1.0" stroke-linejoin="round"/>
<path d="M260.0 484.3L264.0 482.2L263.0 474.4L259.1 476.6Z" fill="#fff" stroke="#000" stroke-width="1.35" stroke-linejoin="round"/>
<path d="M261.2 483.6L260.3 476.0" fill="none" stroke="#000" stroke-width="0.85" />
<path d="M262.2 483.2L261.3 475.4" fill="none" stroke="#000" stroke-width="0.85" />
<path d="M263.2 482.8L262.2 474.8" fill="none" stroke="#000" stroke-width="0.85" />
<path d="M252.0 463.8L255.0 459.9L250.5 455.6L247.6 459.6Z" fill="#fff" stroke="#000" stroke-width="1.0" stroke-linejoin="round"/>
<path d="M254.0 465.0L257.0 461.2L252.5 456.8L249.7 460.8Z" fill="#fff" stroke="#000" stroke-width="1.35" stroke-linejoin="round"/>
<path d="M254.9 463.8L250.6 459.6" fill="none" stroke="#000" stroke-width="0.85" />
<path d="M255.7 462.9L251.2 458.6" fill="none" stroke="#000" stroke-width="0.85" />
<path d="M256.5 462.0L251.9 457.6" fill="none" stroke="#000" stroke-width="0.85" />
<path d="M236.9 455.8L238.1 451.2L231.2 451.6L230.2 456.2Z" fill="#fff" stroke="#000" stroke-width="1.0" stroke-linejoin="round"/>
<path d="M238.9 457.1L240.1 452.5L233.3 452.8L232.3 457.5Z" fill="#fff" stroke="#000" stroke-width="1.35" stroke-linejoin="round"/>
<path d="M239.2 455.7L232.6 456.0" fill="none" stroke="#000" stroke-width="0.85" />
<path d="M239.6 454.5L232.8 454.9" fill="none" stroke="#000" stroke-width="0.85" />
<path d="M240.0 453.4L233.0 453.7" fill="none" stroke="#000" stroke-width="0.85" />
<path d="M216.7 461.4L215.8 457.3L208.4 462.2L209.5 466.3Z" fill="#fff" stroke="#000" stroke-width="1.0" stroke-linejoin="round"/>
<path d="M218.8 462.6L217.8 458.5L210.5 463.4L211.6 467.5Z" fill="#fff" stroke="#000" stroke-width="1.35" stroke-linejoin="round"/>
<path d="M218.4 461.4L211.3 466.2" fill="none" stroke="#000" stroke-width="0.85" />
<path d="M218.3 460.3L211.0 465.3" fill="none" stroke="#000" stroke-width="0.85" />
<path d="M218.1 459.3L210.6 464.3" fill="none" stroke="#000" stroke-width="0.85" />
<path d="M196.9 478.9L194.0 476.4L188.2 484.5L191.1 487.0Z" fill="#fff" stroke="#000" stroke-width="1.0" stroke-linejoin="round"/>
<path d="M199.0 480.2L196.1 477.6L190.3 485.8L193.2 488.3Z" fill="#fff" stroke="#000" stroke-width="1.35" stroke-linejoin="round"/>
<path d="M198.1 479.5L192.3 487.4" fill="none" stroke="#000" stroke-width="0.85" />
<path d="M197.4 478.7L191.5 486.9" fill="none" stroke="#000" stroke-width="0.85" />
<path d="M196.7 478.0L190.8 486.4" fill="none" stroke="#000" stroke-width="0.85" />
<path d="M182.7 503.8L178.7 503.5L175.9 512.7L179.9 512.9Z" fill="#fff" stroke="#000" stroke-width="1.0" stroke-linejoin="round"/>
<path d="M184.8 505.0L180.8 504.7L178.0 513.9L181.9 514.1Z" fill="#fff" stroke="#000" stroke-width="1.35" stroke-linejoin="round"/>
<path d="M183.5 505.0L180.8 514.0" fill="none" stroke="#000" stroke-width="0.85" />
<path d="M182.6 504.8L179.8 514.0" fill="none" stroke="#000" stroke-width="0.85" />
<path d="M181.6 504.7L178.7 514.1" fill="none" stroke="#000" stroke-width="0.85" />
<path d="M178.0 529.3L173.9 531.3L174.9 539.1L178.8 537.0Z" fill="#fff" stroke="#000" stroke-width="1.0" stroke-linejoin="round"/>
<path d="M180.0 530.5L176.0 532.6L177.0 540.4L180.9 538.2Z" fill="#fff" stroke="#000" stroke-width="1.35" stroke-linejoin="round"/>
<path d="M178.8 531.2L179.7 538.8" fill="none" stroke="#000" stroke-width="0.85" />
<path d="M177.8 531.6L178.7 539.4" fill="none" stroke="#000" stroke-width="0.85" />
<path d="M176.8 532.0L177.8 540.0" fill="none" stroke="#000" stroke-width="0.85" />
<path d="M183.9 548.6L180.9 552.4L185.4 556.7L188.3 552.8Z" fill="#fff" stroke="#000" stroke-width="1.0" stroke-linejoin="round"/>
<path d="M186.0 549.8L183.0 553.6L187.5 558.0L190.3 554.0Z" fill="#fff" stroke="#000" stroke-width="1.35" stroke-linejoin="round"/>
<path d="M185.1 551.0L189.4 555.2" fill="none" stroke="#000" stroke-width="0.85" />
<path d="M184.3 551.9L188.8 556.2" fill="none" stroke="#000" stroke-width="0.85" />
<path d="M183.5 552.8L188.1 557.2" fill="none" stroke="#000" stroke-width="0.85" />
<path d="M199.0 556.5L197.8 561.1L204.6 560.8L205.7 556.1Z" fill="#fff" stroke="#000" stroke-width="1.0" stroke-linejoin="round"/>
<path d="M201.1 557.7L199.9 562.3L206.7 562.0L207.7 557.3Z" fill="#fff" stroke="#000" stroke-width="1.35" stroke-linejoin="round"/>
<path d="M200.8 559.1L207.4 558.8" fill="none" stroke="#000" stroke-width="0.85" />
<path d="M200.4 560.3L207.2 559.9" fill="none" stroke="#000" stroke-width="0.85" />
<path d="M200.0 561.4L207.0 561.1" fill="none" stroke="#000" stroke-width="0.85" />
<path d="M219.2 551.0L220.1 555.1L227.4 550.2L226.4 546.1Z" fill="#fff" stroke="#000" stroke-width="1.0" stroke-linejoin="round"/>
<path d="M221.2 552.2L222.2 556.3L229.5 551.4L228.4 547.3Z" fill="#fff" stroke="#000" stroke-width="1.35" stroke-linejoin="round"/>
<path d="M221.6 553.4L228.7 548.6" fill="none" stroke="#000" stroke-width="0.85" />
<path d="M221.7 554.5L229.0 549.5" fill="none" stroke="#000" stroke-width="0.85" />
<path d="M221.9 555.5L229.4 550.5" fill="none" stroke="#000" stroke-width="0.85" />
<path d="M239.0 533.4L241.8 535.9L247.7 527.8L244.8 525.3Z" fill="#fff" stroke="#000" stroke-width="1.0" stroke-linejoin="round"/>
<path d="M241.0 534.6L243.9 537.2L249.7 529.0L246.8 526.5Z" fill="#fff" stroke="#000" stroke-width="1.35" stroke-linejoin="round"/>
<path d="M241.9 535.3L247.7 527.4" fill="none" stroke="#000" stroke-width="0.85" />
<path d="M242.6 536.1L248.5 527.9" fill="none" stroke="#000" stroke-width="0.85" />
<path d="M243.3 536.8L249.2 528.4" fill="none" stroke="#000" stroke-width="0.85" />
<path d="M248.26 524.25A32.90 55.30 30.80 0 0 248.32 459.90A32.90 55.30 30.80 0 0 191.74 490.55A32.90 55.30 30.80 0 0 191.68 554.90A32.90 55.30 30.80 0 0 248.26 524.25Z M244.57 522.04A28.60 48.80 30.80 0 0 244.99 465.48A28.60 48.80 30.80 0 0 195.43 492.76A28.60 48.80 30.80 0 0 195.01 549.32A28.60 48.80 30.80 0 0 244.57 522.04Z" fill="#fff" stroke="none" stroke-width="0" fill-rule="evenodd"/>
<path d="M246.0 519.9L249.5 521.6M248.9 514.2L252.7 515.3M251.3 508.4L255.4 508.7M253.2 502.6L257.5 502.2M254.4 496.8L258.9 495.7M255.1 491.2L259.6 489.5M255.2 485.9L259.7 483.5M254.7 481.0L259.1 477.9M253.6 476.5L257.8 472.9M252.0 472.6L255.9 468.5M249.7 469.2L253.4 464.7M247.0 466.5L250.3 461.6M243.8 464.5L246.7 459.3M240.2 463.2L242.6 457.9M236.3 462.7L238.1 457.3M232.0 463.0L233.3 457.6M227.6 464.0L228.3 458.7M223.1 465.8L223.2 460.6M218.4 468.2L218.0 463.3M213.9 471.4L212.8 466.8M209.4 475.1L207.8 471.0M205.1 479.4L202.9 475.8M201.0 484.2L198.4 481.2M197.3 489.4L194.2 487.0M194.0 494.9L190.5 493.2M191.1 500.6L187.3 499.5M188.7 506.4L184.6 506.1M186.8 512.2L182.5 512.6M185.6 518.0L181.1 519.1M184.9 523.6L180.4 525.3M184.8 528.9L180.3 531.3M185.3 533.8L180.9 536.9M186.4 538.3L182.2 541.9M188.0 542.2L184.1 546.3M190.3 545.6L186.6 550.1M193.0 548.3L189.7 553.2M196.2 550.3L193.3 555.5M199.8 551.6L197.4 556.9M203.7 552.1L201.9 557.5M208.0 551.8L206.7 557.2M212.4 550.8L211.7 556.1M216.9 549.0L216.8 554.2M221.6 546.6L222.0 551.5M226.1 543.4L227.2 548.0M230.6 539.7L232.2 543.8M234.9 535.4L237.1 539.0M239.0 530.6L241.6 533.6M242.7 525.4L245.8 527.8" fill="none" stroke="#000" stroke-width="1.6" />
<path d="M248.26 524.25A32.90 55.30 30.80 0 0 248.32 459.90A32.90 55.30 30.80 0 0 191.74 490.55A32.90 55.30 30.80 0 0 191.68 554.90A32.90 55.30 30.80 0 0 248.26 524.25Z" fill="none" stroke="#000" stroke-width="1.6" />
<path d="M244.57 522.04A28.60 48.80 30.80 0 0 244.99 465.48A28.60 48.80 30.80 0 0 195.43 492.76A28.60 48.80 30.80 0 0 195.01 549.32A28.60 48.80 30.80 0 0 244.57 522.04Z" fill="none" stroke="#000" stroke-width="1.3" />
<path d="M270.64 536.78A33.30 55.60 30.80 0 0 270.51 471.97A33.30 55.60 30.80 0 0 213.43 502.68A33.30 55.60 30.80 0 0 213.57 567.49A33.30 55.60 30.80 0 0 270.64 536.78Z" fill="#fff" stroke="#000" stroke-width="1.0" />
<path d="M272.27 537.75A33.30 55.60 30.80 0 0 272.14 472.94A33.30 55.60 30.80 0 0 215.07 503.65A33.30 55.60 30.80 0 0 215.20 568.46A33.30 55.60 30.80 0 0 272.27 537.75Z" fill="#fff" stroke="#000" stroke-width="1.4" />
<path d="M260.7 483.8L260.7 483.2L260.6 482.6L260.4 482.2L260.2 482.1L259.8 482.3L259.3 482.6L258.8 483.1L258.2 483.7L257.7 484.3L257.3 484.7L256.9 484.8L256.6 484.8L256.4 484.4L256.3 483.9L256.2 483.3L256.1 482.7L255.9 482.2L255.7 481.9L255.4 481.9L255.0 482.1L254.5 482.5L254.1 483.2L253.6 483.8L253.1 484.4L252.7 484.9L252.3 485.1L252.0 485.1L251.7 484.9L251.5 484.5L251.3 483.9L251.1 483.4L250.9 483.0L250.6 482.8L250.2 482.8L249.9 483.1L249.4 483.6L249.0 484.3L248.6 485.0L248.2 485.7L247.8 486.2L247.4 486.5L247.1 486.6L246.8 486.4L246.5 486.1L246.2 485.7L245.9 485.2L245.6 484.9L245.2 484.8L244.9 484.9L244.5 485.3L244.2 485.9L243.8 486.6L243.5 487.3L243.1 488.0L242.8 488.6L242.5 488.9L242.1 489.1L241.8 489.0L241.4 488.8L241.0 488.5L240.7 488.2L240.3 488.0L239.9 487.9L239.5 488.1L239.2 488.5L238.9 489.1L238.6 489.8L238.3 490.6L238.1 491.3L237.8 491.9L237.5 492.3L237.2 492.5L236.8 492.5L236.4 492.4L235.9 492.2L235.5 492.1L235.0 492.0L234.6 492.0L234.3 492.3L234.0 492.7L233.7 493.4L233.5 494.1L233.4 494.8L233.2 495.5L233.0 496.1L232.8 496.6L232.5 496.8L232.1 496.9L231.6 496.9L231.1 496.9L230.6 496.8L230.1 496.9L229.6 497.0L229.3 497.3L229.0 497.8L228.9 498.4L228.8 499.1L228.8 499.8L228.7 500.5L228.6 501.1L228.4 501.5L228.1 501.9L227.7 502.1L227.1 502.2L226.6 502.2L226.0 502.3L225.5 502.5L225.1 502.7L224.8 503.1L224.6 503.6L224.5 504.2L224.5 504.8L224.6 505.5L224.6 506.1L224.6 506.6L224.4 507.1L224.1 507.5L223.7 507.7L223.2 508.0L222.6 508.2L222.0 508.4L221.5 508.6L221.1 509.0L220.8 509.4L220.7 509.9L220.7 510.4L220.8 511.0L221.0 511.6L221.1 512.1L221.1 512.6L221.1 513.1L220.8 513.5L220.4 513.8L219.9 514.1L219.3 514.5L218.7 514.8L218.2 515.2L217.8 515.6L217.5 516.0L217.5 516.5L217.6 517.0L217.8 517.5L218.0 517.9L218.3 518.4L218.4 518.8L218.4 519.3L218.2 519.7L217.8 520.1L217.3 520.5L216.7 521.0L216.1 521.4L215.6 521.9L215.3 522.3L215.1 522.8L215.1 523.2L215.3 523.6L215.6 524.0L215.9 524.4L216.2 524.8L216.4 525.1L216.5 525.5L216.3 525.9L216.0 526.4L215.5 526.9L214.9 527.4" fill="none" stroke="#000" stroke-width="1.0" />
<path d="M214.95 527.44A24.50 41.00 30.80 0 0 223.81 556.53" fill="none" stroke="#000" stroke-width="0.8" />
<path d="M223.81 556.53A24.50 41.00 30.80 0 0 259.23 541.12A24.50 41.00 30.80 0 0 272.37 496.47" fill="none" stroke="#000" stroke-width="1.1" stroke-dasharray="9 3 2 3"/>
<path d="M272.78 494.88A25.10 42.00 30.80 0 0 261.11 482.94" fill="none" stroke="#000" stroke-width="0.9" stroke-dasharray="3.5 2"/>
<path d="M251.8 488.1L251.8 497.2" fill="none" stroke="#000" stroke-width="1.0" />
<path d="M253.9 488.1L253.9 496.5" fill="none" stroke="#000" stroke-width="1.0" />
<path d="M253.9 490.4L259.3 487.5" fill="none" stroke="#000" stroke-width="0.9" />
<path d="M218.2 546.2L225.2 548.3" fill="none" stroke="#000" stroke-width="0.9" />
<path d="M225.2 549.9L220.3 549.3L219.6 554.6L225.2 556.3" fill="none" stroke="#000" stroke-width="1.2" />
<path d="M301.2 533.4L305.2 533.5L307.7 524.3L303.8 524.3Z" fill="#fff" stroke="#000" stroke-width="1.0" stroke-linejoin="round"/>
<path d="M303.2 534.6L307.2 534.7L309.8 525.6L305.8 525.5Z" fill="#fff" stroke="#000" stroke-width="1.35" stroke-linejoin="round"/>
<path d="M304.4 534.6L307.0 525.6" fill="none" stroke="#000" stroke-width="0.85" />
<path d="M305.4 534.7L308.0 525.5" fill="none" stroke="#000" stroke-width="0.85" />
<path d="M306.4 534.8L309.0 525.4" fill="none" stroke="#000" stroke-width="0.85" />
<path d="M305.2 508.1L309.2 505.9L308.0 498.3L304.1 500.6Z" fill="#fff" stroke="#000" stroke-width="1.0" stroke-linejoin="round"/>
<path d="M307.3 509.4L311.3 507.2L310.0 499.5L306.1 501.8Z" fill="#fff" stroke="#000" stroke-width="1.35" stroke-linejoin="round"/>
<path d="M308.5 508.6L307.3 501.2" fill="none" stroke="#000" stroke-width="0.85" />
<path d="M309.5 508.2L308.3 500.5" fill="none" stroke="#000" stroke-width="0.85" />
<path d="M310.5 507.7L309.2 499.9" fill="none" stroke="#000" stroke-width="0.85" />
<path d="M298.5 489.4L301.4 485.5L296.7 481.5L294.0 485.5Z" fill="#fff" stroke="#000" stroke-width="1.0" stroke-linejoin="round"/>
<path d="M300.6 490.7L303.5 486.8L298.8 482.7L296.0 486.7Z" fill="#fff" stroke="#000" stroke-width="1.35" stroke-linejoin="round"/>
<path d="M301.4 489.5L296.9 485.6" fill="none" stroke="#000" stroke-width="0.85" />
<path d="M302.2 488.5L297.5 484.5" fill="none" stroke="#000" stroke-width="0.85" />
<path d="M303.0 487.6L298.2 483.5" fill="none" stroke="#000" stroke-width="0.85" />
<path d="M283.0 482.4L284.0 477.8L277.1 478.4L276.2 483.1Z" fill="#fff" stroke="#000" stroke-width="1.0" stroke-linejoin="round"/>
<path d="M285.0 483.6L286.1 479.0L279.2 479.7L278.3 484.3Z" fill="#fff" stroke="#000" stroke-width="1.35" stroke-linejoin="round"/>
<path d="M285.3 482.2L278.6 482.9" fill="none" stroke="#000" stroke-width="0.85" />
<path d="M285.6 481.1L278.7 481.8" fill="none" stroke="#000" stroke-width="0.85" />
<path d="M286.0 479.9L278.9 480.6" fill="none" stroke="#000" stroke-width="0.85" />
<path d="M262.7 488.8L261.6 484.8L254.3 489.9L255.5 494.0Z" fill="#fff" stroke="#000" stroke-width="1.0" stroke-linejoin="round"/>
<path d="M264.7 490.0L263.6 486.0L256.3 491.2L257.6 495.2Z" fill="#fff" stroke="#000" stroke-width="1.35" stroke-linejoin="round"/>
<path d="M264.3 488.9L257.2 494.0" fill="none" stroke="#000" stroke-width="0.85" />
<path d="M264.1 487.8L256.9 493.0" fill="none" stroke="#000" stroke-width="0.85" />
<path d="M263.9 486.8L256.5 492.0" fill="none" stroke="#000" stroke-width="0.85" />
<path d="M243.1 507.0L240.1 504.6L234.4 512.9L237.4 515.3Z" fill="#fff" stroke="#000" stroke-width="1.0" stroke-linejoin="round"/>
<path d="M245.1 508.2L242.2 505.9L236.5 514.1L239.5 516.5Z" fill="#fff" stroke="#000" stroke-width="1.35" stroke-linejoin="round"/>
<path d="M244.2 507.6L238.6 515.7" fill="none" stroke="#000" stroke-width="0.85" />
<path d="M243.5 506.9L237.8 515.2" fill="none" stroke="#000" stroke-width="0.85" />
<path d="M242.8 506.2L237.0 514.7" fill="none" stroke="#000" stroke-width="0.85" />
<path d="M229.4 532.1L225.4 532.0L222.8 541.2L226.8 541.2Z" fill="#fff" stroke="#000" stroke-width="1.0" stroke-linejoin="round"/>
<path d="M231.5 533.4L227.5 533.3L224.9 542.4L228.9 542.5Z" fill="#fff" stroke="#000" stroke-width="1.35" stroke-linejoin="round"/>
<path d="M230.2 533.4L227.7 542.4" fill="none" stroke="#000" stroke-width="0.85" />
<path d="M229.3 533.3L226.7 542.5" fill="none" stroke="#000" stroke-width="0.85" />
<path d="M228.3 533.2L225.7 542.6" fill="none" stroke="#000" stroke-width="0.85" />
<path d="M225.4 557.4L221.4 559.6L222.6 567.2L226.5 564.9Z" fill="#fff" stroke="#000" stroke-width="1.0" stroke-linejoin="round"/>
<path d="M227.4 558.6L223.4 560.8L224.7 568.5L228.5 566.2Z" fill="#fff" stroke="#000" stroke-width="1.35" stroke-linejoin="round"/>
<path d="M226.2 559.4L227.4 566.8" fill="none" stroke="#000" stroke-width="0.85" />
<path d="M225.2 559.8L226.4 567.5" fill="none" stroke="#000" stroke-width="0.85" />
<path d="M224.2 560.3L225.5 568.1" fill="none" stroke="#000" stroke-width="0.85" />
<path d="M232.0 576.1L229.1 580.0L233.8 584.0L236.6 580.0Z" fill="#fff" stroke="#000" stroke-width="1.0" stroke-linejoin="round"/>
<path d="M234.1 577.3L231.2 581.2L235.9 585.3L238.6 581.3Z" fill="#fff" stroke="#000" stroke-width="1.35" stroke-linejoin="round"/>
<path d="M233.2 578.5L237.8 582.4" fill="none" stroke="#000" stroke-width="0.85" />
<path d="M232.5 579.5L237.1 583.5" fill="none" stroke="#000" stroke-width="0.85" />
<path d="M231.7 580.4L236.5 584.5" fill="none" stroke="#000" stroke-width="0.85" />
<path d="M247.6 583.2L246.5 587.8L253.5 587.1L254.3 582.5Z" fill="#fff" stroke="#000" stroke-width="1.0" stroke-linejoin="round"/>
<path d="M249.6 584.4L248.6 589.0L255.5 588.3L256.4 583.7Z" fill="#fff" stroke="#000" stroke-width="1.35" stroke-linejoin="round"/>
<path d="M249.4 585.8L256.1 585.1" fill="none" stroke="#000" stroke-width="0.85" />
<path d="M249.1 586.9L255.9 586.2" fill="none" stroke="#000" stroke-width="0.85" />
<path d="M248.7 588.1L255.8 587.4" fill="none" stroke="#000" stroke-width="0.85" />
<path d="M267.9 576.7L269.0 580.8L276.3 575.6L275.1 571.6Z" fill="#fff" stroke="#000" stroke-width="1.0" stroke-linejoin="round"/>
<path d="M270.0 578.0L271.1 582.0L278.3 576.8L277.1 572.8Z" fill="#fff" stroke="#000" stroke-width="1.35" stroke-linejoin="round"/>
<path d="M270.3 579.1L277.4 574.0" fill="none" stroke="#000" stroke-width="0.85" />
<path d="M270.5 580.2L277.8 575.0" fill="none" stroke="#000" stroke-width="0.85" />
<path d="M270.7 581.2L278.2 576.0" fill="none" stroke="#000" stroke-width="0.85" />
<path d="M287.5 558.5L290.5 560.9L296.1 552.6L293.1 550.3Z" fill="#fff" stroke="#000" stroke-width="1.0" stroke-linejoin="round"/>
<path d="M289.6 559.8L292.5 562.1L298.2 553.9L295.2 551.5Z" fill="#fff" stroke="#000" stroke-width="1.35" stroke-linejoin="round"/>
<path d="M290.5 560.4L296.1 552.3" fill="none" stroke="#000" stroke-width="0.85" />
<path d="M291.2 561.1L296.9 552.8" fill="none" stroke="#000" stroke-width="0.85" />
<path d="M291.8 561.8L297.7 553.3" fill="none" stroke="#000" stroke-width="0.85" />
<path d="M295.60 550.85A32.90 55.30 30.80 0 0 295.66 486.50A32.90 55.30 30.80 0 0 239.08 517.15A32.90 55.30 30.80 0 0 239.02 581.50A32.90 55.30 30.80 0 0 295.60 550.85Z M291.91 548.64A28.60 48.80 30.80 0 0 292.33 492.08A28.60 48.80 30.80 0 0 242.77 519.36A28.60 48.80 30.80 0 0 242.35 575.92A28.60 48.80 30.80 0 0 291.91 548.64Z" fill="#fff" stroke="none" stroke-width="0" fill-rule="evenodd"/>
<path d="M293.4 546.5L296.9 548.2M296.2 540.8L300.1 541.9M298.6 535.0L302.8 535.3M300.5 529.2L304.8 528.8M301.8 523.4L306.2 522.3M302.5 517.8L307.0 516.1M302.6 512.5L307.1 510.1M302.1 507.6L306.5 504.5M301.0 503.1L305.2 499.5M299.3 499.2L303.3 495.1M297.1 495.8L300.7 491.3M294.3 493.1L297.6 488.2M291.2 491.1L294.0 485.9M287.6 489.8L289.9 484.5M283.6 489.3L285.4 483.9M279.4 489.6L280.7 484.2M275.0 490.6L275.7 485.3M270.4 492.4L270.5 487.2M265.8 494.8L265.3 489.9M261.2 498.0L260.1 493.4M256.7 501.7L255.1 497.6M252.4 506.0L250.3 502.4M248.4 510.8L245.7 507.8M244.7 516.0L241.5 513.6M241.3 521.5L237.8 519.8M238.4 527.2L234.6 526.1M236.0 533.0L231.9 532.7M234.2 538.8L229.9 539.2M232.9 544.6L228.4 545.7M232.2 550.2L227.7 551.9M232.1 555.5L227.6 557.9M232.6 560.4L228.2 563.5M233.7 564.9L229.5 568.5M235.4 568.8L231.4 572.9M237.6 572.2L234.0 576.7M240.3 574.9L237.1 579.8M243.5 576.9L240.7 582.1M247.1 578.2L244.8 583.5M251.1 578.7L249.2 584.1M255.3 578.4L254.0 583.8M259.7 577.4L259.0 582.7M264.3 575.6L264.2 580.8M268.9 573.2L269.4 578.1M273.5 570.0L274.5 574.6M278.0 566.3L279.6 570.4M282.3 562.0L284.4 565.6M286.3 557.2L289.0 560.2M290.0 552.0L293.1 554.4" fill="none" stroke="#000" stroke-width="1.75" />
<path d="M295.60 550.85A32.90 55.30 30.80 0 0 295.66 486.50A32.90 55.30 30.80 0 0 239.08 517.15A32.90 55.30 30.80 0 0 239.02 581.50A32.90 55.30 30.80 0 0 295.60 550.85Z" fill="none" stroke="#000" stroke-width="1.6" />
<path d="M291.91 548.64A28.60 48.80 30.80 0 0 292.33 492.08A28.60 48.80 30.80 0 0 242.77 519.36A28.60 48.80 30.80 0 0 242.35 575.92A28.60 48.80 30.80 0 0 291.91 548.64Z" fill="none" stroke="#000" stroke-width="1.3" />
<line x1="244.25" y1="536.31" x2="247.83" y2="530.29" stroke="#000" stroke-width="2.3" />
<path d="M317.98 563.38A33.30 55.60 30.80 0 0 317.85 498.57A33.30 55.60 30.80 0 0 260.77 529.28A33.30 55.60 30.80 0 0 260.91 594.09A33.30 55.60 30.80 0 0 317.98 563.38Z" fill="#fff" stroke="#000" stroke-width="1.0" />
<path d="M319.61 564.35A33.30 55.60 30.80 0 0 319.48 499.54A33.30 55.60 30.80 0 0 262.41 530.25A33.30 55.60 30.80 0 0 262.54 595.06A33.30 55.60 30.80 0 0 319.61 564.35Z" fill="#fff" stroke="#000" stroke-width="1.4" />
<path d="M308.0 510.4L308.0 509.8L307.9 509.2L307.8 508.8L307.5 508.7L307.1 508.9L306.6 509.2L306.1 509.7L305.6 510.3L305.1 510.9L304.6 511.3L304.2 511.4L304.0 511.4L303.8 511.0L303.6 510.5L303.5 509.9L303.4 509.3L303.3 508.8L303.0 508.5L302.7 508.5L302.3 508.7L301.9 509.1L301.4 509.8L300.9 510.4L300.4 511.0L300.0 511.5L299.6 511.7L299.3 511.7L299.1 511.5L298.9 511.1L298.7 510.5L298.5 510.0L298.2 509.6L297.9 509.4L297.6 509.4L297.2 509.7L296.8 510.2L296.4 510.9L295.9 511.6L295.5 512.3L295.1 512.8L294.8 513.1L294.5 513.2L294.2 513.0L293.9 512.7L293.6 512.3L293.3 511.8L292.9 511.5L292.6 511.4L292.2 511.5L291.9 511.9L291.5 512.5L291.1 513.2L290.8 513.9L290.5 514.6L290.1 515.2L289.8 515.5L289.5 515.7L289.1 515.6L288.8 515.4L288.4 515.1L288.0 514.8L287.6 514.6L287.2 514.5L286.8 514.7L286.5 515.1L286.2 515.7L285.9 516.4L285.7 517.2L285.4 517.9L285.2 518.5L284.9 518.9L284.5 519.1L284.2 519.1L283.7 519.0L283.3 518.8L282.8 518.7L282.4 518.6L282.0 518.6L281.6 518.9L281.3 519.3L281.1 520.0L280.9 520.7L280.7 521.4L280.6 522.1L280.4 522.7L280.1 523.2L279.8 523.4L279.4 523.5L278.9 523.5L278.4 523.5L277.9 523.4L277.4 523.5L277.0 523.6L276.6 523.9L276.4 524.4L276.2 525.0L276.1 525.7L276.1 526.4L276.0 527.1L275.9 527.7L275.7 528.1L275.4 528.5L275.0 528.7L274.5 528.8L273.9 528.8L273.4 528.9L272.8 529.1L272.4 529.3L272.1 529.7L271.9 530.2L271.8 530.8L271.8 531.4L271.9 532.1L271.9 532.7L271.9 533.2L271.8 533.7L271.5 534.1L271.1 534.3L270.5 534.6L270.0 534.8L269.4 535.0L268.8 535.2L268.4 535.6L268.1 536.0L268.0 536.5L268.0 537.0L268.1 537.6L268.3 538.2L268.4 538.7L268.5 539.2L268.4 539.7L268.2 540.1L267.8 540.4L267.2 540.7L266.6 541.1L266.0 541.4L265.5 541.8L265.1 542.2L264.9 542.6L264.8 543.1L264.9 543.6L265.1 544.1L265.4 544.5L265.6 545.0L265.7 545.4L265.7 545.9L265.5 546.3L265.1 546.7L264.6 547.1L264.1 547.6L263.5 548.0L263.0 548.5L262.6 548.9L262.4 549.4L262.4 549.8L262.6 550.2L262.9 550.6L263.2 551.0L263.6 551.4L263.8 551.7L263.8 552.1L263.7 552.5L263.3 553.0L262.8 553.5L262.3 554.0" fill="none" stroke="#000" stroke-width="1.0" />
<path d="M262.29 554.04A24.50 41.00 30.80 0 0 271.15 583.13" fill="none" stroke="#000" stroke-width="0.8" />
<path d="M271.15 583.13A24.50 41.00 30.80 0 0 306.57 567.72A24.50 41.00 30.80 0 0 319.71 523.07" fill="none" stroke="#000" stroke-width="1.1" stroke-dasharray="9 3 2 3"/>
<path d="M320.12 521.48A25.10 42.00 30.80 0 0 308.45 509.54" fill="none" stroke="#000" stroke-width="0.9" stroke-dasharray="3.5 2"/>
<path d="M299.1 514.7L299.1 523.8" fill="none" stroke="#000" stroke-width="1.0" />
<path d="M301.2 514.7L301.2 523.1" fill="none" stroke="#000" stroke-width="1.0" />
<path d="M301.2 517.0L306.6 514.1" fill="none" stroke="#000" stroke-width="0.9" />
<path d="M265.5 572.8L272.5 574.9" fill="none" stroke="#000" stroke-width="0.9" />
<path d="M272.5 576.5L267.6 575.9L266.9 581.2L272.5 582.9" fill="none" stroke="#000" stroke-width="1.2" />
<path d="M348.5 560.0L352.5 560.1L355.1 550.9L351.1 550.9Z" fill="#fff" stroke="#000" stroke-width="1.0" stroke-linejoin="round"/>
<path d="M350.6 561.2L354.6 561.3L357.1 552.2L353.2 552.1Z" fill="#fff" stroke="#000" stroke-width="1.35" stroke-linejoin="round"/>
<path d="M351.8 561.2L354.3 552.2" fill="none" stroke="#000" stroke-width="0.85" />
<path d="M352.8 561.3L355.4 552.1" fill="none" stroke="#000" stroke-width="0.85" />
<path d="M353.7 561.4L356.4 552.0" fill="none" stroke="#000" stroke-width="0.85" />
<path d="M352.5 534.7L356.5 532.5L355.3 524.9L351.4 527.2Z" fill="#fff" stroke="#000" stroke-width="1.0" stroke-linejoin="round"/>
<path d="M354.6 536.0L358.6 533.8L357.4 526.1L353.5 528.4Z" fill="#fff" stroke="#000" stroke-width="1.35" stroke-linejoin="round"/>
<path d="M355.8 535.2L354.6 527.8" fill="none" stroke="#000" stroke-width="0.85" />
<path d="M356.8 534.8L355.6 527.1" fill="none" stroke="#000" stroke-width="0.85" />
<path d="M357.8 534.3L356.6 526.5" fill="none" stroke="#000" stroke-width="0.85" />
<path d="M345.9 516.0L348.8 512.1L344.1 508.1L341.3 512.1Z" fill="#fff" stroke="#000" stroke-width="1.0" stroke-linejoin="round"/>
<path d="M347.9 517.3L350.8 513.4L346.1 509.3L343.4 513.3Z" fill="#fff" stroke="#000" stroke-width="1.35" stroke-linejoin="round"/>
<path d="M348.8 516.1L344.2 512.2" fill="none" stroke="#000" stroke-width="0.85" />
<path d="M349.6 515.1L344.9 511.1" fill="none" stroke="#000" stroke-width="0.85" />
<path d="M350.3 514.2L345.5 510.1" fill="none" stroke="#000" stroke-width="0.85" />
<path d="M330.3 509.0L331.4 504.4L324.4 505.0L323.5 509.7Z" fill="#fff" stroke="#000" stroke-width="1.0" stroke-linejoin="round"/>
<path d="M332.4 510.2L333.4 505.6L326.5 506.3L325.6 510.9Z" fill="#fff" stroke="#000" stroke-width="1.35" stroke-linejoin="round"/>
<path d="M332.6 508.8L325.9 509.5" fill="none" stroke="#000" stroke-width="0.85" />
<path d="M333.0 507.7L326.1 508.4" fill="none" stroke="#000" stroke-width="0.85" />
<path d="M333.3 506.5L326.2 507.2" fill="none" stroke="#000" stroke-width="0.85" />
<path d="M310.0 515.4L308.9 511.4L301.6 516.5L302.8 520.6Z" fill="#fff" stroke="#000" stroke-width="1.0" stroke-linejoin="round"/>
<path d="M312.1 516.6L311.0 512.6L303.7 517.8L304.9 521.8Z" fill="#fff" stroke="#000" stroke-width="1.35" stroke-linejoin="round"/>
<path d="M311.7 515.5L304.6 520.6" fill="none" stroke="#000" stroke-width="0.85" />
<path d="M311.5 514.4L304.2 519.6" fill="none" stroke="#000" stroke-width="0.85" />
<path d="M311.3 513.4L303.8 518.6" fill="none" stroke="#000" stroke-width="0.85" />
<path d="M290.4 533.6L287.4 531.2L281.8 539.5L284.8 541.9Z" fill="#fff" stroke="#000" stroke-width="1.0" stroke-linejoin="round"/>
<path d="M292.5 534.8L289.5 532.5L283.8 540.7L286.8 543.1Z" fill="#fff" stroke="#000" stroke-width="1.35" stroke-linejoin="round"/>
<path d="M291.5 534.2L286.0 542.3" fill="none" stroke="#000" stroke-width="0.85" />
<path d="M290.8 533.5L285.2 541.8" fill="none" stroke="#000" stroke-width="0.85" />
<path d="M290.2 532.8L284.4 541.3" fill="none" stroke="#000" stroke-width="0.85" />
<path d="M276.7 558.7L272.7 558.6L270.2 567.8L274.1 567.8Z" fill="#fff" stroke="#000" stroke-width="1.0" stroke-linejoin="round"/>
<path d="M278.8 560.0L274.8 559.9L272.2 569.0L276.2 569.1Z" fill="#fff" stroke="#000" stroke-width="1.35" stroke-linejoin="round"/>
<path d="M277.6 560.0L275.0 569.0" fill="none" stroke="#000" stroke-width="0.85" />
<path d="M276.6 559.9L274.0 569.1" fill="none" stroke="#000" stroke-width="0.85" />
<path d="M275.6 559.8L273.0 569.2" fill="none" stroke="#000" stroke-width="0.85" />
<path d="M272.7 584.0L268.7 586.2L269.9 593.8L273.8 591.5Z" fill="#fff" stroke="#000" stroke-width="1.0" stroke-linejoin="round"/>
<path d="M274.8 585.2L270.8 587.4L272.0 595.1L275.9 592.8Z" fill="#fff" stroke="#000" stroke-width="1.35" stroke-linejoin="round"/>
<path d="M273.6 586.0L274.7 593.4" fill="none" stroke="#000" stroke-width="0.85" />
<path d="M272.6 586.4L273.8 594.1" fill="none" stroke="#000" stroke-width="0.85" />
<path d="M271.6 586.9L272.8 594.7" fill="none" stroke="#000" stroke-width="0.85" />
<path d="M279.4 602.7L276.5 606.6L281.2 610.6L283.9 606.6Z" fill="#fff" stroke="#000" stroke-width="1.0" stroke-linejoin="round"/>
<path d="M281.4 603.9L278.5 607.8L283.2 611.9L286.0 607.9Z" fill="#fff" stroke="#000" stroke-width="1.35" stroke-linejoin="round"/>
<path d="M280.6 605.1L285.1 609.0" fill="none" stroke="#000" stroke-width="0.85" />
<path d="M279.8 606.1L284.5 610.1" fill="none" stroke="#000" stroke-width="0.85" />
<path d="M279.0 607.0L283.8 611.1" fill="none" stroke="#000" stroke-width="0.85" />
<path d="M294.9 609.8L293.9 614.4L300.8 613.7L301.7 609.1Z" fill="#fff" stroke="#000" stroke-width="1.0" stroke-linejoin="round"/>
<path d="M297.0 611.0L295.9 615.6L302.9 614.9L303.7 610.3Z" fill="#fff" stroke="#000" stroke-width="1.35" stroke-linejoin="round"/>
<path d="M296.7 612.4L303.4 611.7" fill="none" stroke="#000" stroke-width="0.85" />
<path d="M296.4 613.5L303.3 612.8" fill="none" stroke="#000" stroke-width="0.85" />
<path d="M296.1 614.7L303.1 614.0" fill="none" stroke="#000" stroke-width="0.85" />
<path d="M315.2 603.3L316.3 607.4L323.6 602.2L322.4 598.2Z" fill="#fff" stroke="#000" stroke-width="1.0" stroke-linejoin="round"/>
<path d="M317.3 604.6L318.4 608.6L325.7 603.4L324.5 599.4Z" fill="#fff" stroke="#000" stroke-width="1.35" stroke-linejoin="round"/>
<path d="M317.7 605.7L324.8 600.6" fill="none" stroke="#000" stroke-width="0.85" />
<path d="M317.9 606.8L325.1 601.6" fill="none" stroke="#000" stroke-width="0.85" />
<path d="M318.1 607.8L325.5 602.6" fill="none" stroke="#000" stroke-width="0.85" />
<path d="M334.8 585.1L337.8 587.5L343.5 579.2L340.5 576.9Z" fill="#fff" stroke="#000" stroke-width="1.0" stroke-linejoin="round"/>
<path d="M336.9 586.4L339.9 588.7L345.5 580.5L342.5 578.1Z" fill="#fff" stroke="#000" stroke-width="1.35" stroke-linejoin="round"/>
<path d="M337.8 587.0L343.4 578.9" fill="none" stroke="#000" stroke-width="0.85" />
<path d="M338.5 587.7L344.2 579.4" fill="none" stroke="#000" stroke-width="0.85" />
<path d="M339.2 588.4L345.0 579.9" fill="none" stroke="#000" stroke-width="0.85" />
<path d="M342.94 577.45A32.90 55.30 30.80 0 0 343.00 513.10A32.90 55.30 30.80 0 0 286.42 543.75A32.90 55.30 30.80 0 0 286.36 608.10A32.90 55.30 30.80 0 0 342.94 577.45Z M339.25 575.24A28.60 48.80 30.80 0 0 339.67 518.68A28.60 48.80 30.80 0 0 290.11 545.96A28.60 48.80 30.80 0 0 289.69 602.52A28.60 48.80 30.80 0 0 339.25 575.24Z" fill="#fff" stroke="none" stroke-width="0" fill-rule="evenodd"/>
<path d="M340.7 573.1L344.2 574.8M343.6 567.4L347.4 568.5M346.0 561.6L350.1 561.9M347.8 555.8L352.2 555.4M349.1 550.0L353.6 548.9M349.8 544.4L354.3 542.7M349.9 539.1L354.4 536.7M349.4 534.2L353.8 531.1M348.3 529.7L352.5 526.1M346.6 525.8L350.6 521.7M344.4 522.4L348.1 517.9M341.7 519.7L345.0 514.8M338.5 517.7L341.3 512.5M334.9 516.4L337.3 511.1M330.9 515.9L332.8 510.5M326.7 516.2L328.0 510.8M322.3 517.2L323.0 511.9M317.7 519.0L317.9 513.8M313.1 521.4L312.7 516.5M308.5 524.6L307.5 520.0M304.1 528.3L302.4 524.2M299.8 532.6L297.6 529.0M295.7 537.4L293.1 534.4M292.0 542.6L288.9 540.2M288.7 548.1L285.2 546.4M285.8 553.8L281.9 552.7M283.4 559.6L279.3 559.3M281.5 565.4L277.2 565.8M280.2 571.2L275.8 572.3M279.5 576.8L275.0 578.5M279.4 582.1L275.0 584.5M279.9 587.0L275.6 590.1M281.0 591.5L276.8 595.1M282.7 595.4L278.8 599.5M284.9 598.8L281.3 603.3M287.7 601.5L284.4 606.4M290.9 603.5L288.0 608.7M294.5 604.8L292.1 610.1M298.4 605.3L296.6 610.7M302.6 605.0L301.4 610.4M307.1 604.0L306.4 609.3M311.6 602.2L311.5 607.4M316.2 599.8L316.7 604.7M320.8 596.6L321.9 601.2M325.3 592.9L326.9 597.0M329.6 588.6L331.8 592.2M333.7 583.8L336.3 586.8M337.4 578.6L340.5 581.0" fill="none" stroke="#000" stroke-width="1.75" />
<path d="M342.94 577.45A32.90 55.30 30.80 0 0 343.00 513.10A32.90 55.30 30.80 0 0 286.42 543.75A32.90 55.30 30.80 0 0 286.36 608.10A32.90 55.30 30.80 0 0 342.94 577.45Z" fill="none" stroke="#000" stroke-width="1.6" />
<path d="M339.25 575.24A28.60 48.80 30.80 0 0 339.67 518.68A28.60 48.80 30.80 0 0 290.11 545.96A28.60 48.80 30.80 0 0 289.69 602.52A28.60 48.80 30.80 0 0 339.25 575.24Z" fill="none" stroke="#000" stroke-width="1.3" />
<line x1="291.59" y1="562.91" x2="295.17" y2="556.89" stroke="#000" stroke-width="2.3" />
<path d="M365.35 590.40A33.30 55.60 30.80 0 0 365.22 525.59A33.30 55.60 30.80 0 0 308.14 556.30A33.30 55.60 30.80 0 0 308.28 621.11A33.30 55.60 30.80 0 0 365.35 590.40Z" fill="#fff" stroke="#000" stroke-width="1.0" />
<path d="M366.98 591.37A33.30 55.60 30.80 0 0 366.85 526.56A33.30 55.60 30.80 0 0 309.78 557.27A33.30 55.60 30.80 0 0 309.91 622.08A33.30 55.60 30.80 0 0 366.98 591.37Z" fill="#fff" stroke="#000" stroke-width="1.4" />
<path d="M355.4 537.5L355.4 536.8L355.3 536.2L355.2 535.9L354.9 535.7L354.5 535.9L354.0 536.2L353.5 536.8L352.9 537.3L352.4 537.9L352.0 538.3L351.6 538.5L351.3 538.4L351.1 538.1L351.0 537.5L350.9 536.9L350.8 536.3L350.6 535.8L350.4 535.5L350.1 535.5L349.7 535.7L349.2 536.2L348.8 536.8L348.3 537.4L347.8 538.0L347.4 538.5L347.0 538.7L346.7 538.7L346.5 538.5L346.2 538.1L346.0 537.5L345.8 537.0L345.6 536.6L345.3 536.4L344.9 536.5L344.6 536.7L344.1 537.3L343.7 537.9L343.3 538.6L342.9 539.3L342.5 539.8L342.2 540.1L341.8 540.2L341.5 540.0L341.2 539.7L340.9 539.3L340.6 538.9L340.3 538.6L340.0 538.4L339.6 538.6L339.2 538.9L338.9 539.5L338.5 540.2L338.2 540.9L337.8 541.6L337.5 542.2L337.2 542.5L336.8 542.7L336.5 542.6L336.1 542.4L335.8 542.1L335.4 541.8L335.0 541.6L334.6 541.6L334.2 541.7L333.9 542.1L333.6 542.7L333.3 543.5L333.1 544.2L332.8 544.9L332.5 545.5L332.2 545.9L331.9 546.1L331.5 546.2L331.1 546.0L330.7 545.8L330.2 545.7L329.7 545.6L329.3 545.7L329.0 545.9L328.7 546.4L328.4 547.0L328.3 547.7L328.1 548.4L327.9 549.1L327.8 549.7L327.5 550.2L327.2 550.4L326.8 550.6L326.3 550.5L325.8 550.5L325.3 550.4L324.8 550.5L324.3 550.6L324.0 551.0L323.8 551.4L323.6 552.0L323.5 552.7L323.5 553.4L323.4 554.1L323.3 554.7L323.1 555.2L322.8 555.5L322.4 555.7L321.9 555.8L321.3 555.9L320.7 555.9L320.2 556.1L319.8 556.3L319.5 556.7L319.3 557.2L319.2 557.8L319.2 558.4L319.3 559.1L319.3 559.7L319.3 560.3L319.1 560.7L318.9 561.1L318.4 561.4L317.9 561.6L317.3 561.8L316.7 562.0L316.2 562.2L315.8 562.6L315.5 563.0L315.4 563.5L315.4 564.0L315.5 564.6L315.7 565.2L315.8 565.7L315.8 566.2L315.8 566.7L315.5 567.1L315.1 567.4L314.6 567.8L314.0 568.1L313.4 568.4L312.9 568.8L312.5 569.2L312.2 569.6L312.2 570.1L312.3 570.6L312.5 571.1L312.7 571.6L313.0 572.0L313.1 572.5L313.1 572.9L312.9 573.3L312.5 573.7L312.0 574.1L311.4 574.6L310.8 575.0L310.3 575.5L310.0 575.9L309.8 576.4L309.8 576.8L310.0 577.3L310.3 577.6L310.6 578.0L310.9 578.4L311.1 578.8L311.2 579.1L311.0 579.6L310.7 580.0L310.2 580.5L309.7 581.1" fill="none" stroke="#000" stroke-width="1.0" />
<path d="M309.66 581.06A24.50 41.00 30.80 0 0 318.52 610.15" fill="none" stroke="#000" stroke-width="0.8" />
<path d="M318.52 610.15A24.50 41.00 30.80 0 0 353.94 594.74A24.50 41.00 30.80 0 0 367.08 550.09" fill="none" stroke="#000" stroke-width="1.1" stroke-dasharray="9 3 2 3"/>
<path d="M367.49 548.50A25.10 42.00 30.80 0 0 355.82 536.56" fill="none" stroke="#000" stroke-width="0.9" stroke-dasharray="3.5 2"/>
<path d="M346.5 541.7L346.5 550.8" fill="none" stroke="#000" stroke-width="1.0" />
<path d="M348.6 541.7L348.6 550.1" fill="none" stroke="#000" stroke-width="1.0" />
<path d="M348.6 544.0L354.0 541.1" fill="none" stroke="#000" stroke-width="0.9" />
<path d="M312.9 599.8L319.9 601.9" fill="none" stroke="#000" stroke-width="0.9" />
<path d="M319.9 603.5L315.0 602.9L314.3 608.2L319.9 609.9" fill="none" stroke="#000" stroke-width="1.2" />
<path d="M395.9 587.5L399.9 587.6L402.5 578.4L398.5 578.3Z" fill="#fff" stroke="#000" stroke-width="1.0" stroke-linejoin="round"/>
<path d="M397.9 588.7L401.9 588.8L404.5 579.6L400.5 579.6Z" fill="#fff" stroke="#000" stroke-width="1.35" stroke-linejoin="round"/>
<path d="M399.2 588.6L401.7 579.6" fill="none" stroke="#000" stroke-width="0.85" />
<path d="M400.1 588.8L402.7 579.6" fill="none" stroke="#000" stroke-width="0.85" />
<path d="M401.1 588.9L403.7 579.5" fill="none" stroke="#000" stroke-width="0.85" />
<path d="M399.9 562.2L403.9 560.0L402.7 552.3L398.8 554.6Z" fill="#fff" stroke="#000" stroke-width="1.0" stroke-linejoin="round"/>
<path d="M402.0 563.4L406.0 561.2L404.7 553.6L400.9 555.9Z" fill="#fff" stroke="#000" stroke-width="1.35" stroke-linejoin="round"/>
<path d="M403.2 562.7L402.0 555.2" fill="none" stroke="#000" stroke-width="0.85" />
<path d="M404.2 562.2L403.0 554.6" fill="none" stroke="#000" stroke-width="0.85" />
<path d="M405.2 561.7L403.9 553.9" fill="none" stroke="#000" stroke-width="0.85" />
<path d="M393.3 543.5L396.2 539.6L391.5 535.5L388.7 539.6Z" fill="#fff" stroke="#000" stroke-width="1.0" stroke-linejoin="round"/>
<path d="M395.3 544.7L398.2 540.8L393.5 536.8L390.8 540.8Z" fill="#fff" stroke="#000" stroke-width="1.35" stroke-linejoin="round"/>
<path d="M396.2 543.5L391.6 539.6" fill="none" stroke="#000" stroke-width="0.85" />
<path d="M396.9 542.6L392.3 538.6" fill="none" stroke="#000" stroke-width="0.85" />
<path d="M397.7 541.6L392.9 537.5" fill="none" stroke="#000" stroke-width="0.85" />
<path d="M377.7 536.4L378.7 531.8L371.8 532.5L370.9 537.1Z" fill="#fff" stroke="#000" stroke-width="1.0" stroke-linejoin="round"/>
<path d="M379.8 537.6L380.8 533.1L373.9 533.7L373.0 538.4Z" fill="#fff" stroke="#000" stroke-width="1.35" stroke-linejoin="round"/>
<path d="M380.0 536.3L373.3 536.9" fill="none" stroke="#000" stroke-width="0.85" />
<path d="M380.3 535.1L373.5 535.8" fill="none" stroke="#000" stroke-width="0.85" />
<path d="M380.7 534.0L373.6 534.7" fill="none" stroke="#000" stroke-width="0.85" />
<path d="M357.4 542.8L356.3 538.8L349.0 544.0L350.2 548.0Z" fill="#fff" stroke="#000" stroke-width="1.0" stroke-linejoin="round"/>
<path d="M359.4 544.1L358.3 540.1L351.1 545.2L352.3 549.2Z" fill="#fff" stroke="#000" stroke-width="1.35" stroke-linejoin="round"/>
<path d="M359.1 542.9L352.0 548.0" fill="none" stroke="#000" stroke-width="0.85" />
<path d="M358.9 541.9L351.6 547.0" fill="none" stroke="#000" stroke-width="0.85" />
<path d="M358.7 540.8L351.2 546.1" fill="none" stroke="#000" stroke-width="0.85" />
<path d="M337.8 561.1L334.8 558.7L329.1 566.9L332.1 569.3Z" fill="#fff" stroke="#000" stroke-width="1.0" stroke-linejoin="round"/>
<path d="M339.8 562.3L336.9 559.9L331.2 568.2L334.2 570.5Z" fill="#fff" stroke="#000" stroke-width="1.35" stroke-linejoin="round"/>
<path d="M338.9 561.6L333.3 569.8" fill="none" stroke="#000" stroke-width="0.85" />
<path d="M338.2 561.0L332.5 569.3" fill="none" stroke="#000" stroke-width="0.85" />
<path d="M337.6 560.3L331.7 568.8" fill="none" stroke="#000" stroke-width="0.85" />
<path d="M324.1 586.2L320.1 586.1L317.5 595.2L321.5 595.3Z" fill="#fff" stroke="#000" stroke-width="1.0" stroke-linejoin="round"/>
<path d="M326.2 587.4L322.2 587.3L319.6 596.5L323.6 596.5Z" fill="#fff" stroke="#000" stroke-width="1.35" stroke-linejoin="round"/>
<path d="M325.0 587.4L322.4 596.4" fill="none" stroke="#000" stroke-width="0.85" />
<path d="M324.0 587.3L321.4 596.5" fill="none" stroke="#000" stroke-width="0.85" />
<path d="M323.0 587.2L320.4 596.6" fill="none" stroke="#000" stroke-width="0.85" />
<path d="M320.1 611.5L316.1 613.7L317.3 621.3L321.2 619.0Z" fill="#fff" stroke="#000" stroke-width="1.0" stroke-linejoin="round"/>
<path d="M322.1 612.7L318.1 614.9L319.4 622.5L323.3 620.2Z" fill="#fff" stroke="#000" stroke-width="1.35" stroke-linejoin="round"/>
<path d="M320.9 613.4L322.1 620.9" fill="none" stroke="#000" stroke-width="0.85" />
<path d="M319.9 613.9L321.1 621.5" fill="none" stroke="#000" stroke-width="0.85" />
<path d="M318.9 614.3L320.2 622.1" fill="none" stroke="#000" stroke-width="0.85" />
<path d="M326.7 630.1L323.8 634.1L328.5 638.1L331.3 634.1Z" fill="#fff" stroke="#000" stroke-width="1.0" stroke-linejoin="round"/>
<path d="M328.8 631.4L325.9 635.3L330.6 639.3L333.4 635.3Z" fill="#fff" stroke="#000" stroke-width="1.35" stroke-linejoin="round"/>
<path d="M328.0 632.6L332.5 636.5" fill="none" stroke="#000" stroke-width="0.85" />
<path d="M327.2 633.5L331.9 637.5" fill="none" stroke="#000" stroke-width="0.85" />
<path d="M326.4 634.4L331.2 638.6" fill="none" stroke="#000" stroke-width="0.85" />
<path d="M342.3 637.2L341.3 641.8L348.2 641.1L349.1 636.5Z" fill="#fff" stroke="#000" stroke-width="1.0" stroke-linejoin="round"/>
<path d="M344.4 638.4L343.3 643.0L350.2 642.4L351.1 637.7Z" fill="#fff" stroke="#000" stroke-width="1.35" stroke-linejoin="round"/>
<path d="M344.1 639.8L350.8 639.1" fill="none" stroke="#000" stroke-width="0.85" />
<path d="M343.8 641.0L350.7 640.3" fill="none" stroke="#000" stroke-width="0.85" />
<path d="M343.4 642.1L350.5 641.4" fill="none" stroke="#000" stroke-width="0.85" />
<path d="M362.6 630.8L363.7 634.8L371.0 629.6L369.8 625.6Z" fill="#fff" stroke="#000" stroke-width="1.0" stroke-linejoin="round"/>
<path d="M364.7 632.0L365.8 636.0L373.1 630.9L371.8 626.8Z" fill="#fff" stroke="#000" stroke-width="1.35" stroke-linejoin="round"/>
<path d="M365.1 633.2L372.2 628.1" fill="none" stroke="#000" stroke-width="0.85" />
<path d="M365.3 634.2L372.5 629.0" fill="none" stroke="#000" stroke-width="0.85" />
<path d="M365.5 635.3L372.9 630.0" fill="none" stroke="#000" stroke-width="0.85" />
<path d="M382.2 612.6L385.2 614.9L390.9 606.7L387.9 604.3Z" fill="#fff" stroke="#000" stroke-width="1.0" stroke-linejoin="round"/>
<path d="M384.3 613.8L387.2 616.2L392.9 607.9L389.9 605.5Z" fill="#fff" stroke="#000" stroke-width="1.35" stroke-linejoin="round"/>
<path d="M385.2 614.5L390.8 606.3" fill="none" stroke="#000" stroke-width="0.85" />
<path d="M385.9 615.1L391.6 606.8" fill="none" stroke="#000" stroke-width="0.85" />
<path d="M386.6 615.8L392.4 607.3" fill="none" stroke="#000" stroke-width="0.85" />
<path d="M390.32 604.89A32.90 55.30 30.80 0 0 390.38 540.54A32.90 55.30 30.80 0 0 333.80 571.19A32.90 55.30 30.80 0 0 333.74 635.54A32.90 55.30 30.80 0 0 390.32 604.89Z M386.63 602.68A28.60 48.80 30.80 0 0 387.05 546.12A28.60 48.80 30.80 0 0 337.49 573.40A28.60 48.80 30.80 0 0 337.07 629.96A28.60 48.80 30.80 0 0 386.63 602.68Z" fill="#fff" stroke="none" stroke-width="0" fill-rule="evenodd"/>
<path d="M388.1 600.6L391.6 602.3M391.0 594.9L394.8 595.9M393.4 589.0L397.5 589.4M395.2 583.2L399.5 582.8M396.5 577.4L401.0 576.4M397.2 571.9L401.7 570.1M397.3 566.6L401.8 564.1M396.8 561.6L401.2 558.6M395.7 557.2L399.9 553.5M394.0 553.2L398.0 549.1M391.8 549.9L395.4 545.3M389.1 547.2L392.3 542.3M385.9 545.2L388.7 540.0M382.3 543.9L384.6 538.5M378.3 543.4L380.2 537.9M374.1 543.6L375.4 538.2M369.7 544.6L370.4 539.3M365.1 546.4L365.2 541.2M360.5 548.9L360.0 544.0M355.9 552.0L354.9 547.5M351.4 555.8L349.8 551.7M347.1 560.1L345.0 556.5M343.1 564.8L340.4 561.8M339.4 570.0L336.3 567.6M336.0 575.5L332.5 573.8M333.2 581.2L329.3 580.2M330.8 587.0L326.6 586.7M328.9 592.9L324.6 593.3M327.6 598.6L323.2 599.7M326.9 604.2L322.4 606.0M326.8 609.5L322.3 611.9M327.3 614.4L322.9 617.5M328.4 618.9L324.2 622.5M330.1 622.9L326.1 627.0M332.3 626.2L328.7 630.8M335.1 628.9L331.8 633.8M338.2 630.9L335.4 636.1M341.8 632.2L339.5 637.5M345.8 632.7L344.0 638.1M350.0 632.5L348.7 637.9M354.4 631.4L353.7 636.8M359.0 629.7L358.9 634.8M363.6 627.2L364.1 632.1M368.2 624.1L369.3 628.6M372.7 620.3L374.3 624.4M377.0 616.0L379.1 619.6M381.0 611.2L383.7 614.2M384.7 606.1L387.9 608.4" fill="none" stroke="#000" stroke-width="1.75" />
<path d="M390.32 604.89A32.90 55.30 30.80 0 0 390.38 540.54A32.90 55.30 30.80 0 0 333.80 571.19A32.90 55.30 30.80 0 0 333.74 635.54A32.90 55.30 30.80 0 0 390.32 604.89Z" fill="none" stroke="#000" stroke-width="1.6" />
<path d="M386.63 602.68A28.60 48.80 30.80 0 0 387.05 546.12A28.60 48.80 30.80 0 0 337.49 573.40A28.60 48.80 30.80 0 0 337.07 629.96A28.60 48.80 30.80 0 0 386.63 602.68Z" fill="none" stroke="#000" stroke-width="1.3" />
<line x1="338.97" y1="590.35" x2="342.55" y2="584.33" stroke="#000" stroke-width="2.3" />
<path d="M412.71 617.84A33.30 55.60 30.80 0 0 412.58 553.03A33.30 55.60 30.80 0 0 355.50 583.74A33.30 55.60 30.80 0 0 355.64 648.55A33.30 55.60 30.80 0 0 412.71 617.84Z" fill="#fff" stroke="#000" stroke-width="1.0" />
<path d="M414.34 618.81A33.30 55.60 30.80 0 0 414.21 554.00A33.30 55.60 30.80 0 0 357.14 584.71A33.30 55.60 30.80 0 0 357.27 649.52A33.30 55.60 30.80 0 0 414.34 618.81Z" fill="#fff" stroke="#000" stroke-width="1.4" />
<path d="M402.8 564.9L402.7 564.2L402.7 563.7L402.5 563.3L402.2 563.2L401.9 563.3L401.4 563.7L400.8 564.2L400.3 564.8L399.8 565.3L399.3 565.7L399.0 565.9L398.7 565.8L398.5 565.5L398.4 565.0L398.3 564.4L398.2 563.8L398.0 563.3L397.8 563.0L397.5 562.9L397.1 563.2L396.6 563.6L396.1 564.2L395.6 564.9L395.2 565.5L394.7 565.9L394.4 566.2L394.1 566.2L393.8 565.9L393.6 565.5L393.4 565.0L393.2 564.5L392.9 564.1L392.6 563.9L392.3 563.9L391.9 564.2L391.5 564.7L391.1 565.4L390.7 566.1L390.2 566.7L389.9 567.3L389.5 567.6L389.2 567.6L388.9 567.5L388.6 567.1L388.3 566.7L388.0 566.3L387.7 566.0L387.3 565.9L387.0 566.0L386.6 566.3L386.2 566.9L385.9 567.6L385.5 568.4L385.2 569.1L384.9 569.6L384.5 570.0L384.2 570.1L383.9 570.1L383.5 569.8L383.1 569.5L382.7 569.2L382.3 569.0L381.9 569.0L381.6 569.2L381.2 569.6L380.9 570.2L380.7 570.9L380.4 571.7L380.2 572.4L379.9 573.0L379.6 573.4L379.3 573.6L378.9 573.6L378.5 573.5L378.0 573.3L377.5 573.1L377.1 573.0L376.7 573.1L376.3 573.4L376.0 573.8L375.8 574.4L375.6 575.1L375.5 575.9L375.3 576.6L375.1 577.2L374.9 577.6L374.5 577.9L374.1 578.0L373.7 578.0L373.1 577.9L372.6 577.9L372.1 577.9L371.7 578.1L371.4 578.4L371.1 578.9L371.0 579.5L370.9 580.2L370.8 580.9L370.8 581.6L370.6 582.1L370.4 582.6L370.1 582.9L369.7 583.1L369.2 583.2L368.7 583.3L368.1 583.4L367.6 583.5L367.1 583.8L366.8 584.1L366.6 584.6L366.6 585.2L366.6 585.9L366.6 586.5L366.7 587.1L366.6 587.7L366.5 588.2L366.2 588.5L365.8 588.8L365.3 589.0L364.7 589.2L364.1 589.4L363.6 589.7L363.1 590.0L362.9 590.4L362.7 590.9L362.8 591.5L362.9 592.0L363.0 592.6L363.2 593.2L363.2 593.7L363.1 594.1L362.9 594.5L362.5 594.9L362.0 595.2L361.4 595.5L360.8 595.9L360.2 596.2L359.8 596.6L359.6 597.1L359.5 597.5L359.6 598.0L359.9 598.5L360.1 599.0L360.3 599.5L360.5 599.9L360.4 600.3L360.2 600.8L359.9 601.2L359.4 601.6L358.8 602.0L358.2 602.5L357.7 602.9L357.3 603.4L357.1 603.8L357.1 604.3L357.3 604.7L357.6 605.1L358.0 605.5L358.3 605.8L358.5 606.2L358.5 606.6L358.4 607.0L358.1 607.5L357.6 608.0L357.0 608.5" fill="none" stroke="#000" stroke-width="1.0" />
<path d="M357.02 608.50A24.50 41.00 30.80 0 0 365.88 637.59" fill="none" stroke="#000" stroke-width="0.8" />
<path d="M365.88 637.59A24.50 41.00 30.80 0 0 401.30 622.18A24.50 41.00 30.80 0 0 414.44 577.53" fill="none" stroke="#000" stroke-width="1.1" stroke-dasharray="9 3 2 3"/>
<path d="M414.85 575.94A25.10 42.00 30.80 0 0 403.18 564.00" fill="none" stroke="#000" stroke-width="0.9" stroke-dasharray="3.5 2"/>
<path d="M393.8 569.2L393.8 578.3" fill="none" stroke="#000" stroke-width="1.0" />
<path d="M395.9 569.2L395.9 577.6" fill="none" stroke="#000" stroke-width="1.0" />
<path d="M395.9 571.5L401.3 568.6" fill="none" stroke="#000" stroke-width="0.9" />
<path d="M360.2 627.3L367.2 629.4" fill="none" stroke="#000" stroke-width="0.9" />
<path d="M367.2 631.0L362.3 630.4L361.6 635.7L367.2 637.4" fill="none" stroke="#000" stroke-width="1.2" />
<path d="M443.2 614.9L447.2 615.0L449.8 605.8L445.8 605.8Z" fill="#fff" stroke="#000" stroke-width="1.0" stroke-linejoin="round"/>
<path d="M445.3 616.1L449.3 616.2L451.9 607.0L447.9 607.0Z" fill="#fff" stroke="#000" stroke-width="1.35" stroke-linejoin="round"/>
<path d="M446.5 616.1L449.1 607.1" fill="none" stroke="#000" stroke-width="0.85" />
<path d="M447.5 616.2L450.1 607.0" fill="none" stroke="#000" stroke-width="0.85" />
<path d="M448.5 616.3L451.1 606.9" fill="none" stroke="#000" stroke-width="0.85" />
<path d="M447.3 589.6L451.3 587.4L450.0 579.8L446.2 582.1Z" fill="#fff" stroke="#000" stroke-width="1.0" stroke-linejoin="round"/>
<path d="M449.3 590.8L453.3 588.6L452.1 581.0L448.2 583.3Z" fill="#fff" stroke="#000" stroke-width="1.35" stroke-linejoin="round"/>
<path d="M450.5 590.1L449.4 582.7" fill="none" stroke="#000" stroke-width="0.85" />
<path d="M451.5 589.6L450.3 582.0" fill="none" stroke="#000" stroke-width="0.85" />
<path d="M452.5 589.2L451.3 581.4" fill="none" stroke="#000" stroke-width="0.85" />
<path d="M440.6 570.9L443.5 567.0L438.8 563.0L436.1 567.0Z" fill="#fff" stroke="#000" stroke-width="1.0" stroke-linejoin="round"/>
<path d="M442.7 572.2L445.6 568.2L440.9 564.2L438.1 568.2Z" fill="#fff" stroke="#000" stroke-width="1.35" stroke-linejoin="round"/>
<path d="M443.5 570.9L439.0 567.0" fill="none" stroke="#000" stroke-width="0.85" />
<path d="M444.3 570.0L439.6 566.0" fill="none" stroke="#000" stroke-width="0.85" />
<path d="M445.1 569.1L440.3 565.0" fill="none" stroke="#000" stroke-width="0.85" />
<path d="M425.1 563.9L426.1 559.3L419.2 559.9L418.3 564.6Z" fill="#fff" stroke="#000" stroke-width="1.0" stroke-linejoin="round"/>
<path d="M427.1 565.1L428.2 560.5L421.2 561.1L420.4 565.8Z" fill="#fff" stroke="#000" stroke-width="1.35" stroke-linejoin="round"/>
<path d="M427.4 563.7L420.7 564.4" fill="none" stroke="#000" stroke-width="0.85" />
<path d="M427.7 562.6L420.8 563.2" fill="none" stroke="#000" stroke-width="0.85" />
<path d="M428.0 561.4L421.0 562.1" fill="none" stroke="#000" stroke-width="0.85" />
<path d="M404.7 570.3L403.6 566.3L396.4 571.4L397.6 575.5Z" fill="#fff" stroke="#000" stroke-width="1.0" stroke-linejoin="round"/>
<path d="M406.8 571.5L405.7 567.5L398.4 572.6L399.6 576.7Z" fill="#fff" stroke="#000" stroke-width="1.35" stroke-linejoin="round"/>
<path d="M406.4 570.3L399.3 575.4" fill="none" stroke="#000" stroke-width="0.85" />
<path d="M406.2 569.3L399.0 574.5" fill="none" stroke="#000" stroke-width="0.85" />
<path d="M406.0 568.2L398.6 573.5" fill="none" stroke="#000" stroke-width="0.85" />
<path d="M385.1 588.5L382.2 586.1L376.5 594.4L379.5 596.7Z" fill="#fff" stroke="#000" stroke-width="1.0" stroke-linejoin="round"/>
<path d="M387.2 589.7L384.2 587.3L378.6 595.6L381.6 598.0Z" fill="#fff" stroke="#000" stroke-width="1.35" stroke-linejoin="round"/>
<path d="M386.3 589.1L380.7 597.2" fill="none" stroke="#000" stroke-width="0.85" />
<path d="M385.6 588.4L379.9 596.7" fill="none" stroke="#000" stroke-width="0.85" />
<path d="M384.9 587.7L379.1 596.2" fill="none" stroke="#000" stroke-width="0.85" />
<path d="M371.5 613.6L367.5 613.5L364.9 622.7L368.9 622.7Z" fill="#fff" stroke="#000" stroke-width="1.0" stroke-linejoin="round"/>
<path d="M373.5 614.8L369.5 614.7L367.0 623.9L370.9 623.9Z" fill="#fff" stroke="#000" stroke-width="1.35" stroke-linejoin="round"/>
<path d="M372.3 614.9L369.8 623.9" fill="none" stroke="#000" stroke-width="0.85" />
<path d="M371.3 614.8L368.7 624.0" fill="none" stroke="#000" stroke-width="0.85" />
<path d="M370.4 614.6L367.7 624.0" fill="none" stroke="#000" stroke-width="0.85" />
<path d="M367.4 638.9L363.4 641.1L364.7 648.7L368.6 646.4Z" fill="#fff" stroke="#000" stroke-width="1.0" stroke-linejoin="round"/>
<path d="M369.5 640.1L365.5 642.3L366.7 650.0L370.6 647.7Z" fill="#fff" stroke="#000" stroke-width="1.35" stroke-linejoin="round"/>
<path d="M368.3 640.8L369.5 648.3" fill="none" stroke="#000" stroke-width="0.85" />
<path d="M367.3 641.3L368.5 648.9" fill="none" stroke="#000" stroke-width="0.85" />
<path d="M366.3 641.8L367.5 649.6" fill="none" stroke="#000" stroke-width="0.85" />
<path d="M374.1 657.6L371.2 661.5L375.9 665.5L378.7 661.5Z" fill="#fff" stroke="#000" stroke-width="1.0" stroke-linejoin="round"/>
<path d="M376.2 658.8L373.3 662.7L378.0 666.8L380.7 662.7Z" fill="#fff" stroke="#000" stroke-width="1.35" stroke-linejoin="round"/>
<path d="M375.3 660.0L379.9 663.9" fill="none" stroke="#000" stroke-width="0.85" />
<path d="M374.5 660.9L379.2 665.0" fill="none" stroke="#000" stroke-width="0.85" />
<path d="M373.8 661.9L378.6 666.0" fill="none" stroke="#000" stroke-width="0.85" />
<path d="M389.7 664.6L388.6 669.2L395.5 668.6L396.4 663.9Z" fill="#fff" stroke="#000" stroke-width="1.0" stroke-linejoin="round"/>
<path d="M391.7 665.9L390.7 670.5L397.6 669.8L398.5 665.2Z" fill="#fff" stroke="#000" stroke-width="1.35" stroke-linejoin="round"/>
<path d="M391.5 667.3L398.2 666.6" fill="none" stroke="#000" stroke-width="0.85" />
<path d="M391.1 668.4L398.0 667.7" fill="none" stroke="#000" stroke-width="0.85" />
<path d="M390.8 669.5L397.9 668.9" fill="none" stroke="#000" stroke-width="0.85" />
<path d="M410.0 658.2L411.1 662.2L418.4 657.1L417.1 653.0Z" fill="#fff" stroke="#000" stroke-width="1.0" stroke-linejoin="round"/>
<path d="M412.0 659.4L413.1 663.5L420.4 658.3L419.2 654.3Z" fill="#fff" stroke="#000" stroke-width="1.35" stroke-linejoin="round"/>
<path d="M412.4 660.6L419.5 655.5" fill="none" stroke="#000" stroke-width="0.85" />
<path d="M412.6 661.7L419.9 656.5" fill="none" stroke="#000" stroke-width="0.85" />
<path d="M412.8 662.7L420.3 657.4" fill="none" stroke="#000" stroke-width="0.85" />
<path d="M429.6 640.0L432.5 642.4L438.2 634.1L435.2 631.8Z" fill="#fff" stroke="#000" stroke-width="1.0" stroke-linejoin="round"/>
<path d="M431.6 641.2L434.6 643.6L440.3 635.3L437.3 633.0Z" fill="#fff" stroke="#000" stroke-width="1.35" stroke-linejoin="round"/>
<path d="M432.6 641.9L438.1 633.8" fill="none" stroke="#000" stroke-width="0.85" />
<path d="M433.3 642.6L438.9 634.3" fill="none" stroke="#000" stroke-width="0.85" />
<path d="M433.9 643.2L439.7 634.8" fill="none" stroke="#000" stroke-width="0.85" />
<path d="M437.68 632.33A32.90 55.30 30.80 0 0 437.74 567.98A32.90 55.30 30.80 0 0 381.16 598.63A32.90 55.30 30.80 0 0 381.10 662.98A32.90 55.30 30.80 0 0 437.68 632.33Z M433.99 630.12A28.60 48.80 30.80 0 0 434.41 573.56A28.60 48.80 30.80 0 0 384.85 600.84A28.60 48.80 30.80 0 0 384.43 657.40A28.60 48.80 30.80 0 0 433.99 630.12Z" fill="#fff" stroke="none" stroke-width="0" fill-rule="evenodd"/>
<path d="M435.4 628.0L438.9 629.7M438.3 622.3L442.2 623.3M440.7 616.5L444.8 616.8M442.6 610.6L446.9 610.3M443.9 604.9L448.3 603.8M444.6 599.3L449.1 597.5M444.7 594.0L449.1 591.6M444.2 589.1L448.5 586.0M443.1 584.6L447.3 581.0M441.4 580.6L445.3 576.5M439.2 577.3L442.8 572.8M436.4 574.6L439.7 569.7M433.2 572.6L436.1 567.4M429.6 571.3L432.0 566.0M425.7 570.8L427.5 565.4M421.5 571.1L422.7 565.6M417.0 572.1L417.7 566.7M412.5 573.8L412.6 568.7M407.9 576.3L407.4 571.4M403.3 579.4L402.2 574.9M398.8 583.2L397.2 579.1M394.5 587.5L392.3 583.9M390.4 592.3L387.8 589.3M386.7 597.5L383.6 595.1M383.4 603.0L379.9 601.2M380.5 608.7L376.7 607.6M378.1 614.5L374.0 614.2M376.3 620.3L371.9 620.7M375.0 626.1L370.5 627.2M374.3 631.7L369.8 633.4M374.2 637.0L369.7 639.4M374.7 641.9L370.3 644.9M375.8 646.4L371.6 650.0M377.5 650.3L373.5 654.4M379.7 653.7L376.0 658.2M382.4 656.4L379.1 661.3M385.6 658.4L382.8 663.5M389.2 659.6L386.8 665.0M393.2 660.1L391.3 665.6M397.4 659.9L396.1 665.3M401.8 658.9L401.1 664.2M406.4 657.1L406.2 662.3M411.0 654.7L411.4 659.5M415.6 651.5L416.6 656.0M420.0 647.8L421.7 651.8M424.3 643.5L426.5 647.0M428.4 638.7L431.0 641.7M432.1 633.5L435.2 635.9" fill="none" stroke="#000" stroke-width="1.75" />
<path d="M437.68 632.33A32.90 55.30 30.80 0 0 437.74 567.98A32.90 55.30 30.80 0 0 381.16 598.63A32.90 55.30 30.80 0 0 381.10 662.98A32.90 55.30 30.80 0 0 437.68 632.33Z" fill="none" stroke="#000" stroke-width="1.6" />
<path d="M433.99 630.12A28.60 48.80 30.80 0 0 434.41 573.56A28.60 48.80 30.80 0 0 384.85 600.84A28.60 48.80 30.80 0 0 384.43 657.40A28.60 48.80 30.80 0 0 433.99 630.12Z" fill="none" stroke="#000" stroke-width="1.3" />
<line x1="386.33" y1="617.79" x2="389.91" y2="611.77" stroke="#000" stroke-width="2.3" />
<path d="M460.07 645.28A33.30 55.60 30.80 0 0 459.94 580.47A33.30 55.60 30.80 0 0 402.86 611.18A33.30 55.60 30.80 0 0 403.00 675.99A33.30 55.60 30.80 0 0 460.07 645.28Z" fill="#fff" stroke="#000" stroke-width="1.0" />
<path d="M461.70 646.25A33.30 55.60 30.80 0 0 461.57 581.44A33.30 55.60 30.80 0 0 404.50 612.15A33.30 55.60 30.80 0 0 404.63 676.96A33.30 55.60 30.80 0 0 461.70 646.25Z" fill="#fff" stroke="#000" stroke-width="1.4" />
<path d="M450.1 592.3L450.1 591.7L450.0 591.1L449.9 590.7L449.6 590.6L449.2 590.8L448.7 591.1L448.2 591.6L447.7 592.2L447.1 592.8L446.7 593.2L446.3 593.3L446.1 593.3L445.9 592.9L445.7 592.4L445.6 591.8L445.5 591.2L445.4 590.7L445.1 590.4L444.8 590.4L444.4 590.6L444.0 591.0L443.5 591.7L443.0 592.3L442.5 592.9L442.1 593.4L441.7 593.6L441.4 593.6L441.2 593.4L441.0 593.0L440.8 592.4L440.5 591.9L440.3 591.5L440.0 591.3L439.7 591.3L439.3 591.6L438.9 592.1L438.4 592.8L438.0 593.5L437.6 594.2L437.2 594.7L436.9 595.0L436.6 595.1L436.2 594.9L436.0 594.6L435.7 594.2L435.3 593.7L435.0 593.4L434.7 593.3L434.3 593.4L434.0 593.8L433.6 594.4L433.2 595.1L432.9 595.8L432.6 596.5L432.2 597.1L431.9 597.4L431.6 597.6L431.2 597.5L430.9 597.3L430.5 597.0L430.1 596.7L429.7 596.5L429.3 596.4L428.9 596.6L428.6 597.0L428.3 597.6L428.0 598.3L427.8 599.1L427.5 599.8L427.3 600.4L427.0 600.8L426.6 601.0L426.3 601.0L425.8 600.9L425.4 600.7L424.9 600.6L424.5 600.5L424.0 600.5L423.7 600.8L423.4 601.2L423.2 601.9L423.0 602.6L422.8 603.3L422.7 604.0L422.5 604.6L422.2 605.1L421.9 605.3L421.5 605.4L421.0 605.4L420.5 605.4L420.0 605.3L419.5 605.4L419.1 605.5L418.7 605.8L418.5 606.3L418.3 606.9L418.2 607.6L418.2 608.3L418.1 609.0L418.0 609.6L417.8 610.0L417.5 610.4L417.1 610.6L416.6 610.7L416.0 610.7L415.5 610.8L414.9 611.0L414.5 611.2L414.2 611.6L414.0 612.1L413.9 612.7L413.9 613.3L414.0 614.0L414.0 614.6L414.0 615.1L413.9 615.6L413.6 616.0L413.2 616.2L412.6 616.5L412.1 616.7L411.5 616.9L410.9 617.1L410.5 617.5L410.2 617.9L410.1 618.4L410.1 618.9L410.2 619.5L410.4 620.1L410.5 620.6L410.6 621.1L410.5 621.6L410.2 622.0L409.8 622.3L409.3 622.6L408.7 623.0L408.1 623.3L407.6 623.7L407.2 624.1L407.0 624.5L406.9 625.0L407.0 625.5L407.2 626.0L407.5 626.4L407.7 626.9L407.8 627.3L407.8 627.8L407.6 628.2L407.2 628.6L406.7 629.0L406.1 629.5L405.6 629.9L405.1 630.4L404.7 630.8L404.5 631.3L404.5 631.7L404.7 632.1L405.0 632.5L405.3 632.9L405.6 633.3L405.8 633.6L405.9 634.0L405.7 634.4L405.4 634.9L404.9 635.4L404.4 635.9" fill="none" stroke="#000" stroke-width="1.0" />
<path d="M404.38 635.94A24.50 41.00 30.80 0 0 413.24 665.03" fill="none" stroke="#000" stroke-width="0.8" />
<path d="M413.24 665.03A24.50 41.00 30.80 0 0 448.66 649.62A24.50 41.00 30.80 0 0 461.80 604.97" fill="none" stroke="#000" stroke-width="1.1" stroke-dasharray="9 3 2 3"/>
<path d="M462.21 603.38A25.10 42.00 30.80 0 0 450.54 591.44" fill="none" stroke="#000" stroke-width="0.9" stroke-dasharray="3.5 2"/>
<path d="M441.2 596.6L441.2 605.7" fill="none" stroke="#000" stroke-width="1.0" />
<path d="M443.3 596.6L443.3 605.0" fill="none" stroke="#000" stroke-width="1.0" />
<path d="M443.3 598.9L448.7 596.0" fill="none" stroke="#000" stroke-width="0.9" />
<path d="M407.6 654.7L414.6 656.8" fill="none" stroke="#000" stroke-width="0.9" />
<path d="M414.6 658.4L409.7 657.8L409.0 663.1L414.6 664.8" fill="none" stroke="#000" stroke-width="1.2" />
<path d="M490.6 642.3L494.6 642.4L497.2 633.3L493.2 633.2Z" fill="#fff" stroke="#000" stroke-width="1.0" stroke-linejoin="round"/>
<path d="M492.7 643.6L496.7 643.7L499.2 634.5L495.3 634.5Z" fill="#fff" stroke="#000" stroke-width="1.35" stroke-linejoin="round"/>
<path d="M493.9 643.5L496.4 634.5" fill="none" stroke="#000" stroke-width="0.85" />
<path d="M494.9 643.6L497.5 634.4" fill="none" stroke="#000" stroke-width="0.85" />
<path d="M495.8 643.8L498.5 634.4" fill="none" stroke="#000" stroke-width="0.85" />
<path d="M494.6 617.0L498.6 614.8L497.4 607.2L493.5 609.5Z" fill="#fff" stroke="#000" stroke-width="1.0" stroke-linejoin="round"/>
<path d="M496.7 618.3L500.7 616.1L499.5 608.4L495.6 610.7Z" fill="#fff" stroke="#000" stroke-width="1.35" stroke-linejoin="round"/>
<path d="M497.9 617.6L496.7 610.1" fill="none" stroke="#000" stroke-width="0.85" />
<path d="M498.9 617.1L497.7 609.5" fill="none" stroke="#000" stroke-width="0.85" />
<path d="M499.9 616.6L498.7 608.8" fill="none" stroke="#000" stroke-width="0.85" />
<path d="M488.0 598.4L490.9 594.4L486.2 590.4L483.4 594.4Z" fill="#fff" stroke="#000" stroke-width="1.0" stroke-linejoin="round"/>
<path d="M490.0 599.6L492.9 595.7L488.2 591.6L485.5 595.7Z" fill="#fff" stroke="#000" stroke-width="1.35" stroke-linejoin="round"/>
<path d="M490.9 598.4L486.3 594.5" fill="none" stroke="#000" stroke-width="0.85" />
<path d="M491.7 597.5L487.0 593.4" fill="none" stroke="#000" stroke-width="0.85" />
<path d="M492.4 596.5L487.6 592.4" fill="none" stroke="#000" stroke-width="0.85" />
<path d="M472.4 591.3L473.5 586.7L466.5 587.4L465.6 592.0Z" fill="#fff" stroke="#000" stroke-width="1.0" stroke-linejoin="round"/>
<path d="M474.5 592.5L475.5 587.9L468.6 588.6L467.7 593.2Z" fill="#fff" stroke="#000" stroke-width="1.35" stroke-linejoin="round"/>
<path d="M474.7 591.1L468.0 591.8" fill="none" stroke="#000" stroke-width="0.85" />
<path d="M475.1 590.0L468.2 590.7" fill="none" stroke="#000" stroke-width="0.85" />
<path d="M475.4 588.9L468.3 589.5" fill="none" stroke="#000" stroke-width="0.85" />
<path d="M452.1 597.7L451.0 593.7L443.7 598.9L444.9 602.9Z" fill="#fff" stroke="#000" stroke-width="1.0" stroke-linejoin="round"/>
<path d="M454.2 599.0L453.1 594.9L445.8 600.1L447.0 604.1Z" fill="#fff" stroke="#000" stroke-width="1.35" stroke-linejoin="round"/>
<path d="M453.8 597.8L446.7 602.9" fill="none" stroke="#000" stroke-width="0.85" />
<path d="M453.6 596.7L446.3 601.9" fill="none" stroke="#000" stroke-width="0.85" />
<path d="M453.4 595.7L445.9 601.0" fill="none" stroke="#000" stroke-width="0.85" />
<path d="M432.5 615.9L429.5 613.6L423.9 621.8L426.9 624.2Z" fill="#fff" stroke="#000" stroke-width="1.0" stroke-linejoin="round"/>
<path d="M434.6 617.2L431.6 614.8L425.9 623.1L428.9 625.4Z" fill="#fff" stroke="#000" stroke-width="1.35" stroke-linejoin="round"/>
<path d="M433.6 616.5L428.1 624.6" fill="none" stroke="#000" stroke-width="0.85" />
<path d="M432.9 615.8L427.3 624.1" fill="none" stroke="#000" stroke-width="0.85" />
<path d="M432.3 615.2L426.5 623.6" fill="none" stroke="#000" stroke-width="0.85" />
<path d="M418.8 641.1L414.8 640.9L412.3 650.1L416.2 650.2Z" fill="#fff" stroke="#000" stroke-width="1.0" stroke-linejoin="round"/>
<path d="M420.9 642.3L416.9 642.2L414.3 651.4L418.3 651.4Z" fill="#fff" stroke="#000" stroke-width="1.35" stroke-linejoin="round"/>
<path d="M419.7 642.3L417.1 651.3" fill="none" stroke="#000" stroke-width="0.85" />
<path d="M418.7 642.2L416.1 651.4" fill="none" stroke="#000" stroke-width="0.85" />
<path d="M417.7 642.1L415.1 651.5" fill="none" stroke="#000" stroke-width="0.85" />
<path d="M414.8 666.3L410.8 668.5L412.0 676.2L415.9 673.9Z" fill="#fff" stroke="#000" stroke-width="1.0" stroke-linejoin="round"/>
<path d="M416.9 667.6L412.9 669.8L414.1 677.4L418.0 675.1Z" fill="#fff" stroke="#000" stroke-width="1.35" stroke-linejoin="round"/>
<path d="M415.7 668.3L416.8 675.7" fill="none" stroke="#000" stroke-width="0.85" />
<path d="M414.7 668.8L415.9 676.4" fill="none" stroke="#000" stroke-width="0.85" />
<path d="M413.7 669.2L414.9 677.0" fill="none" stroke="#000" stroke-width="0.85" />
<path d="M421.5 685.0L418.6 688.9L423.3 693.0L426.0 689.0Z" fill="#fff" stroke="#000" stroke-width="1.0" stroke-linejoin="round"/>
<path d="M423.5 686.2L420.6 690.2L425.3 694.2L428.1 690.2Z" fill="#fff" stroke="#000" stroke-width="1.35" stroke-linejoin="round"/>
<path d="M422.7 687.5L427.2 691.4" fill="none" stroke="#000" stroke-width="0.85" />
<path d="M421.9 688.4L426.6 692.4" fill="none" stroke="#000" stroke-width="0.85" />
<path d="M421.1 689.3L425.9 693.4" fill="none" stroke="#000" stroke-width="0.85" />
<path d="M437.0 692.1L436.0 696.7L442.9 696.0L443.8 691.4Z" fill="#fff" stroke="#000" stroke-width="1.0" stroke-linejoin="round"/>
<path d="M439.1 693.3L438.0 697.9L445.0 697.3L445.8 692.6Z" fill="#fff" stroke="#000" stroke-width="1.35" stroke-linejoin="round"/>
<path d="M438.8 694.7L445.5 694.0" fill="none" stroke="#000" stroke-width="0.85" />
<path d="M438.5 695.8L445.4 695.2" fill="none" stroke="#000" stroke-width="0.85" />
<path d="M438.2 697.0L445.2 696.3" fill="none" stroke="#000" stroke-width="0.85" />
<path d="M457.3 685.7L458.4 689.7L465.7 684.5L464.5 680.5Z" fill="#fff" stroke="#000" stroke-width="1.0" stroke-linejoin="round"/>
<path d="M459.4 686.9L460.5 690.9L467.8 685.8L466.6 681.7Z" fill="#fff" stroke="#000" stroke-width="1.35" stroke-linejoin="round"/>
<path d="M459.8 688.1L466.9 683.0" fill="none" stroke="#000" stroke-width="0.85" />
<path d="M460.0 689.1L467.2 683.9" fill="none" stroke="#000" stroke-width="0.85" />
<path d="M460.2 690.2L467.6 684.9" fill="none" stroke="#000" stroke-width="0.85" />
<path d="M476.9 667.4L479.9 669.8L485.6 661.6L482.6 659.2Z" fill="#fff" stroke="#000" stroke-width="1.0" stroke-linejoin="round"/>
<path d="M479.0 668.7L482.0 671.1L487.6 662.8L484.6 660.4Z" fill="#fff" stroke="#000" stroke-width="1.35" stroke-linejoin="round"/>
<path d="M479.9 669.3L485.5 661.2" fill="none" stroke="#000" stroke-width="0.85" />
<path d="M480.6 670.0L486.3 661.7" fill="none" stroke="#000" stroke-width="0.85" />
<path d="M481.3 670.7L487.1 662.2" fill="none" stroke="#000" stroke-width="0.85" />
<path d="M485.04 659.77A32.90 55.30 30.80 0 0 485.10 595.42A32.90 55.30 30.80 0 0 428.52 626.07A32.90 55.30 30.80 0 0 428.46 690.42A32.90 55.30 30.80 0 0 485.04 659.77Z M481.35 657.56A28.60 48.80 30.80 0 0 481.77 601.00A28.60 48.80 30.80 0 0 432.21 628.28A28.60 48.80 30.80 0 0 431.79 684.84A28.60 48.80 30.80 0 0 481.35 657.56Z" fill="#fff" stroke="none" stroke-width="0" fill-rule="evenodd"/>
<path d="M482.8 655.4L486.3 657.2M485.7 649.7L489.5 650.8M488.1 643.9L492.2 644.2M489.9 638.1L494.3 637.7M491.2 632.3L495.7 631.2M491.9 626.7L496.4 625.0M492.0 621.4L496.5 619.0M491.5 616.5L495.9 613.5M490.4 612.0L494.6 608.4M488.7 608.1L492.7 604.0M486.5 604.7L490.2 600.2M483.8 602.0L487.1 597.1M480.6 600.0L483.4 594.9M477.0 598.8L479.4 593.4M473.0 598.3L474.9 592.8M468.8 598.5L470.1 593.1M464.4 599.5L465.1 594.2M459.8 601.3L460.0 596.1M455.2 603.7L454.8 598.9M450.6 606.9L449.6 602.4M446.2 610.6L444.5 606.6M441.9 614.9L439.7 611.4M437.8 619.7L435.2 616.7M434.1 624.9L431.0 622.5M430.8 630.4L427.3 628.7M427.9 636.1L424.0 635.1M425.5 641.9L421.4 641.6M423.6 647.8L419.3 648.1M422.3 653.5L417.9 654.6M421.6 659.1L417.1 660.9M421.5 664.4L417.1 666.8M422.0 669.3L417.7 672.4M423.1 673.8L418.9 677.4M424.8 677.8L420.9 681.9M427.0 681.1L423.4 685.6M429.8 683.8L426.5 688.7M433.0 685.8L430.1 691.0M436.6 687.1L434.2 692.4M440.5 687.6L438.7 693.0M444.7 687.3L443.5 692.8M449.2 686.3L448.5 691.7M453.7 684.6L453.6 689.7M458.3 682.1L458.8 687.0M462.9 679.0L464.0 683.5M467.4 675.2L469.0 679.3M471.7 670.9L473.9 674.5M475.8 666.1L478.4 669.1M479.5 660.9L482.6 663.3" fill="none" stroke="#000" stroke-width="1.75" />
<path d="M485.04 659.77A32.90 55.30 30.80 0 0 485.10 595.42A32.90 55.30 30.80 0 0 428.52 626.07A32.90 55.30 30.80 0 0 428.46 690.42A32.90 55.30 30.80 0 0 485.04 659.77Z" fill="none" stroke="#000" stroke-width="1.6" />
<path d="M481.35 657.56A28.60 48.80 30.80 0 0 481.77 601.00A28.60 48.80 30.80 0 0 432.21 628.28A28.60 48.80 30.80 0 0 431.79 684.84A28.60 48.80 30.80 0 0 481.35 657.56Z" fill="none" stroke="#000" stroke-width="1.3" />
<line x1="433.69" y1="645.23" x2="437.27" y2="639.21" stroke="#000" stroke-width="2.3" />
<path d="M507.43 672.72A33.30 55.60 30.80 0 0 507.30 607.91A33.30 55.60 30.80 0 0 450.22 638.62A33.30 55.60 30.80 0 0 450.36 703.43A33.30 55.60 30.80 0 0 507.43 672.72Z" fill="#fff" stroke="#000" stroke-width="1.0" />
<path d="M509.06 673.69A33.30 55.60 30.80 0 0 508.93 608.88A33.30 55.60 30.80 0 0 451.86 639.59A33.30 55.60 30.80 0 0 451.99 704.40A33.30 55.60 30.80 0 0 509.06 673.69Z" fill="#fff" stroke="#000" stroke-width="1.4" />
<path d="M497.5 619.8L497.5 619.1L497.4 618.5L497.2 618.2L497.0 618.1L496.6 618.2L496.1 618.6L495.6 619.1L495.0 619.7L494.5 620.2L494.0 620.6L493.7 620.8L493.4 620.7L493.2 620.4L493.1 619.9L493.0 619.3L492.9 618.7L492.7 618.2L492.5 617.9L492.2 617.8L491.8 618.0L491.3 618.5L490.8 619.1L490.3 619.8L489.9 620.4L489.5 620.8L489.1 621.1L488.8 621.1L488.5 620.8L488.3 620.4L488.1 619.9L487.9 619.4L487.7 618.9L487.4 618.7L487.0 618.8L486.6 619.1L486.2 619.6L485.8 620.2L485.4 621.0L485.0 621.6L484.6 622.1L484.2 622.4L483.9 622.5L483.6 622.4L483.3 622.0L483.0 621.6L482.7 621.2L482.4 620.9L482.0 620.8L481.7 620.9L481.3 621.2L481.0 621.8L480.6 622.5L480.3 623.2L479.9 623.9L479.6 624.5L479.3 624.9L478.9 625.0L478.6 624.9L478.2 624.7L477.8 624.4L477.4 624.1L477.0 623.9L476.7 623.9L476.3 624.1L476.0 624.5L475.7 625.1L475.4 625.8L475.1 626.5L474.9 627.3L474.6 627.8L474.3 628.2L474.0 628.5L473.6 628.5L473.2 628.4L472.7 628.2L472.3 628.0L471.8 627.9L471.4 628.0L471.0 628.2L470.8 628.7L470.5 629.3L470.3 630.0L470.2 630.8L470.0 631.5L469.8 632.1L469.6 632.5L469.3 632.8L468.9 632.9L468.4 632.9L467.9 632.8L467.3 632.8L466.8 632.8L466.4 633.0L466.1 633.3L465.8 633.8L465.7 634.4L465.6 635.1L465.5 635.8L465.5 636.4L465.4 637.0L465.2 637.5L464.9 637.8L464.4 638.0L463.9 638.1L463.4 638.2L462.8 638.3L462.3 638.4L461.9 638.7L461.5 639.0L461.4 639.5L461.3 640.1L461.3 640.7L461.4 641.4L461.4 642.0L461.4 642.6L461.2 643.0L460.9 643.4L460.5 643.7L460.0 643.9L459.4 644.1L458.8 644.3L458.3 644.6L457.9 644.9L457.6 645.3L457.5 645.8L457.5 646.3L457.6 646.9L457.7 647.5L457.9 648.1L457.9 648.6L457.8 649.0L457.6 649.4L457.2 649.8L456.7 650.1L456.1 650.4L455.5 650.7L455.0 651.1L454.6 651.5L454.3 651.9L454.3 652.4L454.4 652.9L454.6 653.4L454.8 653.9L455.1 654.3L455.2 654.8L455.2 655.2L455.0 655.6L454.6 656.0L454.1 656.5L453.5 656.9L452.9 657.3L452.4 657.8L452.0 658.3L451.9 658.7L451.9 659.2L452.0 659.6L452.3 660.0L452.7 660.3L453.0 660.7L453.2 661.1L453.3 661.5L453.1 661.9L452.8 662.4L452.3 662.9L451.7 663.4" fill="none" stroke="#000" stroke-width="1.0" />
<path d="M451.74 663.38A24.50 41.00 30.80 0 0 460.60 692.47" fill="none" stroke="#000" stroke-width="0.8" />
<path d="M460.60 692.47A24.50 41.00 30.80 0 0 496.02 677.06A24.50 41.00 30.80 0 0 509.16 632.41" fill="none" stroke="#000" stroke-width="1.1" stroke-dasharray="9 3 2 3"/>
<path d="M509.57 630.82A25.10 42.00 30.80 0 0 497.90 618.88" fill="none" stroke="#000" stroke-width="0.9" stroke-dasharray="3.5 2"/>
<path d="M488.6 624.0L488.6 633.1" fill="none" stroke="#000" stroke-width="1.0" />
<path d="M490.7 624.0L490.7 632.4" fill="none" stroke="#000" stroke-width="1.0" />
<path d="M490.7 626.3L496.1 623.4" fill="none" stroke="#000" stroke-width="0.9" />
<path d="M455.0 682.1L462.0 684.2" fill="none" stroke="#000" stroke-width="0.9" />
<path d="M462.0 685.8L457.1 685.2L456.4 690.5L462.0 692.2" fill="none" stroke="#000" stroke-width="1.2" />
<path d="M539.3 672.8L543.3 673.1L546.1 663.9L542.2 663.7Z" fill="#fff" stroke="#000" stroke-width="1.35" stroke-linejoin="round"/>
<path d="M541.3 672.9L544.1 663.8" fill="none" stroke="#000" stroke-width="0.85" />
<path d="M544.1 647.3L548.1 645.2L547.1 637.4L543.2 639.6Z" fill="#fff" stroke="#000" stroke-width="1.35" stroke-linejoin="round"/>
<path d="M546.1 646.3L545.2 638.5" fill="none" stroke="#000" stroke-width="0.85" />
<path d="M538.1 628.0L541.1 624.2L536.6 619.8L533.8 623.8Z" fill="#fff" stroke="#000" stroke-width="1.35" stroke-linejoin="round"/>
<path d="M539.6 626.1L535.2 621.8" fill="none" stroke="#000" stroke-width="0.85" />
<path d="M523.0 620.1L524.2 615.5L517.4 615.8L516.4 620.5Z" fill="#fff" stroke="#000" stroke-width="1.35" stroke-linejoin="round"/>
<path d="M523.6 617.8L516.9 618.1" fill="none" stroke="#000" stroke-width="0.85" />
<path d="M502.9 625.6L501.9 621.5L494.6 626.4L495.7 630.5Z" fill="#fff" stroke="#000" stroke-width="1.35" stroke-linejoin="round"/>
<path d="M502.4 623.6L495.1 628.5" fill="none" stroke="#000" stroke-width="0.85" />
<path d="M483.1 643.2L480.2 640.6L474.4 648.8L477.3 651.3Z" fill="#fff" stroke="#000" stroke-width="1.35" stroke-linejoin="round"/>
<path d="M481.6 641.9L475.8 650.0" fill="none" stroke="#000" stroke-width="0.85" />
<path d="M468.9 668.0L464.9 667.7L462.1 676.9L466.0 677.1Z" fill="#fff" stroke="#000" stroke-width="1.35" stroke-linejoin="round"/>
<path d="M466.9 667.9L464.1 677.0" fill="none" stroke="#000" stroke-width="0.85" />
<path d="M464.1 693.5L460.1 695.6L461.1 703.4L465.0 701.2Z" fill="#fff" stroke="#000" stroke-width="1.35" stroke-linejoin="round"/>
<path d="M462.1 694.5L463.0 702.3" fill="none" stroke="#000" stroke-width="0.85" />
<path d="M470.1 712.8L467.1 716.6L471.6 721.0L474.4 717.0Z" fill="#fff" stroke="#000" stroke-width="1.35" stroke-linejoin="round"/>
<path d="M468.6 714.7L473.0 719.0" fill="none" stroke="#000" stroke-width="0.85" />
<path d="M485.2 720.7L484.0 725.3L490.8 725.0L491.8 720.3Z" fill="#fff" stroke="#000" stroke-width="1.35" stroke-linejoin="round"/>
<path d="M484.6 723.0L491.3 722.7" fill="none" stroke="#000" stroke-width="0.85" />
<path d="M505.3 715.2L506.3 719.3L513.6 714.4L512.5 710.3Z" fill="#fff" stroke="#000" stroke-width="1.35" stroke-linejoin="round"/>
<path d="M505.8 717.2L513.1 712.3" fill="none" stroke="#000" stroke-width="0.85" />
<path d="M525.1 697.6L528.0 700.2L533.8 692.0L530.9 689.5Z" fill="#fff" stroke="#000" stroke-width="1.35" stroke-linejoin="round"/>
<path d="M526.6 698.9L532.4 690.8" fill="none" stroke="#000" stroke-width="0.85" />
<path d="M532.36 687.25A32.90 55.30 30.80 0 0 532.42 622.90A32.90 55.30 30.80 0 0 475.84 653.55A32.90 55.30 30.80 0 0 475.78 717.90A32.90 55.30 30.80 0 0 532.36 687.25Z M526.95 684.02A26.60 46.20 30.80 0 0 527.76 630.72A26.60 46.20 30.80 0 0 481.25 656.78A26.60 46.20 30.80 0 0 480.44 710.08A26.60 46.20 30.80 0 0 526.95 684.02Z" fill="#fff" stroke="none" stroke-width="0" fill-rule="evenodd"/>
<path d="M529.0 682.3L533.6 684.6M531.7 676.8L536.8 678.3M534.1 671.2L539.5 671.7M535.9 665.6L541.6 665.2M537.1 660.0L543.0 658.7M537.8 654.7L543.7 652.5M537.9 649.6L543.8 646.5M537.5 644.8L543.2 640.9M536.4 640.5L541.9 635.9M534.9 636.7L540.0 631.5M532.8 633.5L537.5 627.7M530.1 630.9L534.4 624.6M527.1 629.0L530.8 622.3M523.7 627.8L526.7 620.9M519.9 627.3L522.2 620.3M515.8 627.6L517.4 620.6M511.6 628.6L512.4 621.7M507.2 630.3L507.3 623.6M502.8 632.7L502.1 626.3M498.4 635.7L496.9 629.8M494.1 639.4L491.9 634.0M489.9 643.5L487.0 638.8M486.0 648.2L482.5 644.2M482.5 653.2L478.3 650.0M479.2 658.5L474.6 656.2M476.5 664.0L471.4 662.5M474.1 669.6L468.7 669.1M472.3 675.2L466.6 675.6M471.1 680.8L465.2 682.1M470.4 686.1L464.5 688.3M470.3 691.2L464.4 694.3M470.7 696.0L465.0 699.9M471.8 700.3L466.3 704.9M473.3 704.1L468.2 709.3M475.4 707.3L470.7 713.1M478.1 709.9L473.8 716.2M481.1 711.8L477.4 718.5M484.5 713.0L481.5 719.9M488.3 713.5L486.0 720.5M492.4 713.2L490.8 720.2M496.6 712.2L495.8 719.1M501.0 710.5L500.9 717.2M505.4 708.1L506.1 714.5M509.8 705.1L511.3 711.0M514.1 701.4L516.3 706.8M518.3 697.3L521.2 702.0M522.2 692.6L525.7 696.6M525.7 687.6L529.9 690.8" fill="none" stroke="#000" stroke-width="1.7" />
<path d="M532.36 687.25A32.90 55.30 30.80 0 0 532.42 622.90A32.90 55.30 30.80 0 0 475.84 653.55A32.90 55.30 30.80 0 0 475.78 717.90A32.90 55.30 30.80 0 0 532.36 687.25Z" fill="none" stroke="#000" stroke-width="1.8" />
<line x1="481.01" y1="672.71" x2="484.59" y2="666.69" stroke="#000" stroke-width="2.3" />
<path d="M527.81 684.53A27.60 47.50 30.80 0 0 528.42 629.60A27.60 47.50 30.80 0 0 480.39 656.27A27.60 47.50 30.80 0 0 479.78 711.20A27.60 47.50 30.80 0 0 527.81 684.53Z" fill="none" stroke="#000" stroke-width="0.85" />
<path d="M526.69 683.87A26.30 45.90 30.80 0 0 527.60 630.97A26.30 45.90 30.80 0 0 481.51 656.93A26.30 45.90 30.80 0 0 480.60 709.83A26.30 45.90 30.80 0 0 526.69 683.87Z" fill="none" stroke="#000" stroke-width="0.75" />
<text transform="translate(152.60 596.56) scale(1.270 1)" font-size="14.40" text-anchor="middle">6</text>
<line x1="158.40" y1="583.60" x2="185.80" y2="558.70" stroke="#000" stroke-width="1.25" />
<text transform="translate(175.80 610.96) scale(1.270 1)" font-size="14.40" text-anchor="middle">5</text>
<line x1="181.60" y1="598.00" x2="212.02" y2="567.00" stroke="#000" stroke-width="1.25" />
<text transform="translate(201.80 626.86) scale(1.270 1)" font-size="14.40" text-anchor="middle">4</text>
<line x1="207.60" y1="613.90" x2="233.24" y2="585.30" stroke="#000" stroke-width="1.25" />
<text transform="translate(225.70 640.66) scale(1.270 1)" font-size="14.40" text-anchor="middle">5</text>
<line x1="231.50" y1="627.70" x2="259.46" y2="593.60" stroke="#000" stroke-width="1.25" />
<text transform="translate(250.90 653.26) scale(1.270 1)" font-size="14.40" text-anchor="middle">4</text>
<line x1="256.70" y1="640.30" x2="280.68" y2="611.90" stroke="#000" stroke-width="1.25" />
<text transform="translate(274.40 667.96) scale(1.270 1)" font-size="14.40" text-anchor="middle">5</text>
<line x1="280.20" y1="655.00" x2="306.88" y2="620.60" stroke="#000" stroke-width="1.25" />
<text transform="translate(298.80 681.96) scale(1.270 1)" font-size="14.40" text-anchor="middle">4</text>
<line x1="304.60" y1="669.00" x2="328.06" y2="639.30" stroke="#000" stroke-width="1.25" />
<text transform="translate(322.00 695.46) scale(1.270 1)" font-size="14.40" text-anchor="middle">5</text>
<line x1="327.80" y1="682.50" x2="354.24" y2="648.00" stroke="#000" stroke-width="1.25" />
<text transform="translate(343.40 708.86) scale(1.270 1)" font-size="14.40" text-anchor="middle">4</text>
<line x1="349.20" y1="695.90" x2="375.42" y2="666.70" stroke="#000" stroke-width="1.25" />
<text transform="translate(367.60 721.96) scale(1.270 1)" font-size="14.40" text-anchor="middle">5</text>
<line x1="373.40" y1="709.00" x2="401.60" y2="675.40" stroke="#000" stroke-width="1.25" />
<text transform="translate(392.60 737.06) scale(1.270 1)" font-size="14.40" text-anchor="middle">4</text>
<line x1="398.40" y1="724.10" x2="422.78" y2="694.10" stroke="#000" stroke-width="1.25" />
<text transform="translate(416.80 750.46) scale(1.270 1)" font-size="14.40" text-anchor="middle">5</text>
<line x1="422.60" y1="737.50" x2="448.96" y2="702.80" stroke="#000" stroke-width="1.25" />
<text transform="translate(444.50 766.06) scale(1.270 1)" font-size="14.40" text-anchor="middle">6</text>
<line x1="450.30" y1="753.10" x2="470.50" y2="724.10" stroke="#000" stroke-width="1.25" />
<line x1="514.80" y1="678.20" x2="571.60" y2="708.90" stroke="#000" stroke-width="1.15" />
<text transform="translate(75.50 409.80) scale(1.220 1)" font-size="14.80" text-anchor="middle">AP</text>
<text transform="translate(122.00 415.46) scale(1.270 1)" font-size="14.40" text-anchor="middle">22</text>
<line x1="133.00" y1="403.00" x2="165.00" y2="381.70" stroke="#000" stroke-width="1.25" />
<text transform="translate(305.30 151.66) scale(1.270 1)" font-size="14.40" text-anchor="middle">23</text>
<line x1="303.00" y1="154.30" x2="289.50" y2="179.30" stroke="#000" stroke-width="1.25" />
<text transform="translate(319.60 396.96) scale(1.270 1)" font-size="14.40" text-anchor="middle">10</text>
<line x1="330.90" y1="384.60" x2="354.50" y2="361.10" stroke="#000" stroke-width="1.25" />
<text transform="translate(370.40 422.56) scale(1.270 1)" font-size="14.40" text-anchor="middle">9</text>
<line x1="378.00" y1="410.60" x2="399.00" y2="389.60" stroke="#000" stroke-width="1.25" />
<text transform="translate(543.80 413.16) scale(1.270 1)" font-size="14.40" text-anchor="middle">7</text>
<line x1="540.00" y1="413.60" x2="536.60" y2="419.20" stroke="#000" stroke-width="1.25" />
<text transform="translate(538.90 445.16) scale(1.270 1)" font-size="14.40" text-anchor="middle">8</text>
<line x1="532.10" y1="447.20" x2="519.80" y2="461.80" stroke="#000" stroke-width="1.25" />
<text transform="translate(570.00 456.66) scale(1.270 1)" font-size="14.40" text-anchor="middle">17</text>
<line x1="561.30" y1="460.90" x2="545.60" y2="480.10" stroke="#000" stroke-width="1.25" />
<text transform="translate(673.00 398.36) scale(1.270 1)" font-size="14.40" text-anchor="middle">21</text>
<line x1="662.50" y1="393.40" x2="628.70" y2="393.00" stroke="#000" stroke-width="1.25" />
<text transform="translate(669.10 426.56) scale(1.270 1)" font-size="14.40" text-anchor="middle">20</text>
<line x1="657.10" y1="417.00" x2="626.50" y2="406.10" stroke="#000" stroke-width="1.25" />
<text transform="translate(661.50 449.46) scale(1.270 1)" font-size="14.40" text-anchor="middle">18</text>
<line x1="650.50" y1="439.90" x2="623.20" y2="423.50" stroke="#000" stroke-width="1.25" />
<text transform="translate(654.50 473.06) scale(1.270 1)" font-size="14.40" text-anchor="middle">19</text>
<line x1="644.00" y1="462.90" x2="615.60" y2="443.90" stroke="#000" stroke-width="1.25" />
<text transform="translate(109.10 799.86) scale(1.270 1)" font-size="14.40" text-anchor="middle">16</text>
<line x1="115.00" y1="783.80" x2="128.20" y2="747.10" stroke="#000" stroke-width="1.25" />
<text transform="translate(133.20 813.06) scale(1.270 1)" font-size="14.40" text-anchor="middle">15</text>
<line x1="138.50" y1="798.50" x2="150.30" y2="760.30" stroke="#000" stroke-width="1.25" />
<text transform="translate(159.70 829.26) scale(1.270 1)" font-size="14.40" text-anchor="middle">14</text>
<line x1="163.50" y1="813.20" x2="171.80" y2="775.00" stroke="#000" stroke-width="1.25" />
<text transform="translate(180.60 881.66) scale(1.270 1)" font-size="14.40" text-anchor="middle">3</text>
<line x1="185.60" y1="867.60" x2="206.20" y2="840.60" stroke="#000" stroke-width="1.25" />
<text transform="translate(226.50 908.46) scale(1.270 1)" font-size="14.40" text-anchor="middle">2</text>
<line x1="232.00" y1="894.00" x2="277.00" y2="832.00" stroke="#000" stroke-width="1.25" />
<text transform="translate(274.80 932.76) scale(1.270 1)" font-size="14.40" text-anchor="middle">1</text>
<line x1="281.40" y1="922.40" x2="301.70" y2="907.60" stroke="#000" stroke-width="1.25" />
<text transform="translate(441.50 847.86) scale(1.270 1)" font-size="14.40" text-anchor="middle">11</text>
<line x1="437.90" y1="852.60" x2="421.90" y2="883.00" stroke="#000" stroke-width="1.25" />
<text transform="translate(479.30 870.96) scale(1.270 1)" font-size="14.40" text-anchor="middle">12</text>
<line x1="475.70" y1="875.00" x2="457.20" y2="902.40" stroke="#000" stroke-width="1.25" />
<text transform="translate(513.90 890.66) scale(1.270 1)" font-size="14.40" text-anchor="middle">13</text>
<line x1="508.70" y1="893.90" x2="487.70" y2="917.10" stroke="#000" stroke-width="1.25" />
<text x="34" y="947.8" font-size="14" textLength="117.5" lengthAdjust="spacingAndGlyphs">B4CH300-V150</text>
<path d="M278.6 204.3L260.0 209.5L239.9 215.2L204.6 271.1L166.2 318.2L162.0 340.0L163.1 361.6L166.0 380.0L175.6 391.6L190.0 392.5L204.6 393.2L218.0 398.0L226.0 406.0L232.7 406.3L269.6 378.8L296.1 321.0L301.0 295.0L299.2 268.9L297.0 245.0L302.0 220.5L296.0 207.0L287.0 200.0Z" fill="none" stroke="#151515" stroke-width="4.6" stroke-linejoin="round"/>
<ellipse cx="285.8" cy="198.4" rx="4.3" ry="5.1" transform="rotate(25 285.8 198.4)" fill="#151515"/>
<ellipse cx="278.6" cy="204.3" rx="4.3" ry="5.1" transform="rotate(25 278.6 204.3)" fill="#151515"/>
<ellipse cx="239.9" cy="215.2" rx="4.3" ry="5.1" transform="rotate(25 239.9 215.2)" fill="#151515"/>
<ellipse cx="302.0" cy="220.5" rx="4.3" ry="5.1" transform="rotate(25 302.0 220.5)" fill="#151515"/>
<ellipse cx="204.6" cy="271.1" rx="4.3" ry="5.1" transform="rotate(25 204.6 271.1)" fill="#151515"/>
<ellipse cx="299.2" cy="268.9" rx="4.3" ry="5.1" transform="rotate(25 299.2 268.9)" fill="#151515"/>
<ellipse cx="166.2" cy="318.2" rx="4.3" ry="5.1" transform="rotate(25 166.2 318.2)" fill="#151515"/>
<ellipse cx="296.1" cy="321.0" rx="4.3" ry="5.1" transform="rotate(25 296.1 321.0)" fill="#151515"/>
<ellipse cx="163.1" cy="361.6" rx="4.3" ry="5.1" transform="rotate(25 163.1 361.6)" fill="#151515"/>
<ellipse cx="269.6" cy="378.8" rx="4.3" ry="5.1" transform="rotate(25 269.6 378.8)" fill="#151515"/>
<ellipse cx="175.6" cy="391.6" rx="4.3" ry="5.1" transform="rotate(25 175.6 391.6)" fill="#151515"/>
<ellipse cx="204.6" cy="393.2" rx="4.3" ry="5.1" transform="rotate(25 204.6 393.2)" fill="#151515"/>
<ellipse cx="232.7" cy="406.3" rx="4.3" ry="5.1" transform="rotate(25 232.7 406.3)" fill="#151515"/>
<ellipse cx="225.9" cy="409.4" rx="4.3" ry="5.1" transform="rotate(25 225.9 409.4)" fill="#151515"/>
<path d="M278.6 204.3L260.0 209.5L239.9 215.2L204.6 271.1L166.2 318.2L162.0 340.0L163.1 361.6L166.0 380.0L175.6 391.6L190.0 392.5L204.6 393.2L218.0 398.0L226.0 406.0L232.7 406.3L269.6 378.8L296.1 321.0L301.0 295.0L299.2 268.9L297.0 245.0L302.0 220.5L296.0 207.0L287.0 200.0Z" fill="none" stroke="#fff" stroke-width="2.7" stroke-linejoin="round"/>
<ellipse cx="285.8" cy="198.4" rx="3.35" ry="4.15" transform="rotate(25 285.8 198.4)" fill="#fff"/>
<ellipse cx="278.6" cy="204.3" rx="3.35" ry="4.15" transform="rotate(25 278.6 204.3)" fill="#fff"/>
<ellipse cx="239.9" cy="215.2" rx="3.35" ry="4.15" transform="rotate(25 239.9 215.2)" fill="#fff"/>
<ellipse cx="302.0" cy="220.5" rx="3.35" ry="4.15" transform="rotate(25 302.0 220.5)" fill="#fff"/>
<ellipse cx="204.6" cy="271.1" rx="3.35" ry="4.15" transform="rotate(25 204.6 271.1)" fill="#fff"/>
<ellipse cx="299.2" cy="268.9" rx="3.35" ry="4.15" transform="rotate(25 299.2 268.9)" fill="#fff"/>
<ellipse cx="166.2" cy="318.2" rx="3.35" ry="4.15" transform="rotate(25 166.2 318.2)" fill="#fff"/>
<ellipse cx="296.1" cy="321.0" rx="3.35" ry="4.15" transform="rotate(25 296.1 321.0)" fill="#fff"/>
<ellipse cx="163.1" cy="361.6" rx="3.35" ry="4.15" transform="rotate(25 163.1 361.6)" fill="#fff"/>
<ellipse cx="269.6" cy="378.8" rx="3.35" ry="4.15" transform="rotate(25 269.6 378.8)" fill="#fff"/>
<ellipse cx="175.6" cy="391.6" rx="3.35" ry="4.15" transform="rotate(25 175.6 391.6)" fill="#fff"/>
<ellipse cx="204.6" cy="393.2" rx="3.35" ry="4.15" transform="rotate(25 204.6 393.2)" fill="#fff"/>
<ellipse cx="232.7" cy="406.3" rx="3.35" ry="4.15" transform="rotate(25 232.7 406.3)" fill="#fff"/>
<ellipse cx="225.9" cy="409.4" rx="3.35" ry="4.15" transform="rotate(25 225.9 409.4)" fill="#fff"/>
<ellipse cx="285.8" cy="198.4" rx="1.9" ry="2.6" transform="rotate(25 285.8 198.4)" fill="none" stroke="#000" stroke-width="1.5"/>
<ellipse cx="278.6" cy="204.3" rx="1.9" ry="2.6" transform="rotate(25 278.6 204.3)" fill="none" stroke="#151515" stroke-width="0.9"/>
<ellipse cx="239.9" cy="215.2" rx="1.9" ry="2.6" transform="rotate(25 239.9 215.2)" fill="none" stroke="#151515" stroke-width="0.9"/>
<ellipse cx="302.0" cy="220.5" rx="1.9" ry="2.6" transform="rotate(25 302.0 220.5)" fill="none" stroke="#151515" stroke-width="0.9"/>
<ellipse cx="204.6" cy="271.1" rx="1.9" ry="2.6" transform="rotate(25 204.6 271.1)" fill="none" stroke="#151515" stroke-width="0.9"/>
<ellipse cx="299.2" cy="268.9" rx="1.9" ry="2.6" transform="rotate(25 299.2 268.9)" fill="none" stroke="#151515" stroke-width="0.9"/>
<ellipse cx="166.2" cy="318.2" rx="1.9" ry="2.6" transform="rotate(25 166.2 318.2)" fill="none" stroke="#151515" stroke-width="0.9"/>
<ellipse cx="296.1" cy="321.0" rx="1.9" ry="2.6" transform="rotate(25 296.1 321.0)" fill="none" stroke="#151515" stroke-width="0.9"/>
<ellipse cx="163.1" cy="361.6" rx="1.9" ry="2.6" transform="rotate(25 163.1 361.6)" fill="none" stroke="#151515" stroke-width="0.9"/>
<ellipse cx="269.6" cy="378.8" rx="1.9" ry="2.6" transform="rotate(25 269.6 378.8)" fill="none" stroke="#151515" stroke-width="0.9"/>
<ellipse cx="175.6" cy="391.6" rx="1.9" ry="2.6" transform="rotate(25 175.6 391.6)" fill="none" stroke="#151515" stroke-width="0.9"/>
<ellipse cx="204.6" cy="393.2" rx="1.9" ry="2.6" transform="rotate(25 204.6 393.2)" fill="none" stroke="#151515" stroke-width="0.9"/>
<ellipse cx="232.7" cy="406.3" rx="1.9" ry="2.6" transform="rotate(25 232.7 406.3)" fill="none" stroke="#151515" stroke-width="0.9"/>
<ellipse cx="225.9" cy="409.4" rx="1.9" ry="2.6" transform="rotate(25 225.9 409.4)" fill="none" stroke="#000" stroke-width="1.5"/>
<path d="M101.4 130.2L102.2 143.6L96.6 152.0L86.8 159.0L75.6 170.2L65.8 184.2L60.2 191.8L52.7 186.2L46.5 187.9L44.8 202.4L46.2 214.2L33.6 222.0L23.0 229.9L15.4 240.3L13.2 255.7L15.4 275.3L21.8 282.3L20.2 303.3L24.6 315.9L29.4 322.9L42.0 327.1L56.0 331.3L64.4 339.7L69.5 345.3L71.4 353.7L76.2 357.9L84.0 353.7L93.8 346.7L110.6 338.3L122.7 331.3L126.1 320.1L134.5 303.3L140.1 292.1L149.9 280.9L156.9 273.9L159.1 262.7L162.5 244.5L168.1 219.2L166.7 202.4L169.5 185.6L175.1 173.0L178.4 163.2L172.3 156.2L168.1 145.0L163.9 137.5L156.9 133.5L146.2 132.4L142.3 136.9L123.8 138.0L123.2 133.5L119.0 129.6L110.6 127.9Z" fill="#fff" stroke="#2b2b2b" stroke-width="0.7" stroke-linejoin="round" stroke-linecap="round" />
<path d="M102.6 134.0C104.0 134.8 107.5 138.3 111.0 138.9C114.5 139.5 121.5 137.7 123.6 137.5" fill="none" stroke="#2b2b2b" stroke-width="0.85" stroke-linecap="round" />
<path d="M101.9 132.6L101.9 141.0L98.4 145.9" fill="none" stroke="#2b2b2b" stroke-width="0.85" stroke-linejoin="round" stroke-linecap="round" />
<path d="M124.3 134.7L124.7 139.6L127.8 139.6L127.8 134.0L125.0 133.7" fill="none" stroke="#2b2b2b" stroke-width="0.85" stroke-linejoin="round" stroke-linecap="round" />
<path d="M127.8 138.9C130.1 138.6 138.9 137.9 141.8 136.8C144.7 135.8 143.5 133.1 145.3 132.6C147.2 132.1 151.0 134.0 153.0 134.0C155.0 134.0 155.4 132.5 157.2 132.6C159.1 132.7 162.7 133.8 164.2 134.7C165.7 135.6 166.0 137.6 166.3 138.2" fill="none" stroke="#2b2b2b" stroke-width="0.85" stroke-linecap="round" />
<path d="M166.3 138.2C166.0 139.6 163.5 143.8 164.2 146.6C164.9 149.4 168.4 152.6 170.5 155.0C172.6 157.5 175.7 159.7 176.8 161.3C178.0 163.0 178.0 163.5 177.5 164.8C177.1 166.1 175.1 168.6 174.0 169.0C173.0 169.5 171.7 167.9 171.2 167.6" fill="none" stroke="#2b2b2b" stroke-width="0.85" stroke-linecap="round" />
<path d="M174.0 169.0C173.1 170.7 169.8 175.3 168.4 178.8C167.0 182.3 166.1 185.8 165.6 190.0C165.2 194.2 165.4 200.3 165.6 204.0C165.9 207.8 166.9 209.8 167.0 212.4C167.1 215.1 166.4 218.7 166.3 220.0" fill="none" stroke="#2b2b2b" stroke-width="0.85" stroke-linecap="round" stroke-dasharray="14 2 2 2"/>
<path d="M171.9 170.4C171.0 172.1 167.7 176.5 166.3 180.2C164.9 184.0 163.9 187.9 163.5 192.8C163.1 197.7 163.9 206.8 163.9 209.6" fill="none" stroke="#2b2b2b" stroke-width="0.85" stroke-linecap="round" />
<path d="M118.0 143.1C120.1 143.5 125.5 145.3 130.6 145.2C135.8 145.1 145.1 142.6 148.8 142.4C152.6 142.2 152.3 143.6 153.0 143.8" fill="none" stroke="#2b2b2b" stroke-width="0.85" stroke-linecap="round" />
<path d="M122.2 144.5C123.8 144.9 129.0 146.6 132.0 146.6C135.1 146.6 137.4 144.7 140.4 144.5C143.5 144.3 148.6 145.1 150.2 145.2" fill="none" stroke="#2b2b2b" stroke-width="0.85" stroke-linecap="round" />
<path d="M157.2 147.3C157.5 149.1 157.5 155.6 158.6 157.8C159.8 160.0 162.2 159.4 164.2 160.6C166.2 161.8 169.5 164.1 170.5 164.8" fill="none" stroke="#2b2b2b" stroke-width="0.85" stroke-linecap="round" />
<path d="M162.8 160.6L162.8 166.2L168.4 170.4" fill="none" stroke="#2b2b2b" stroke-width="0.85" stroke-linejoin="round" stroke-linecap="round" />
<path d="M120.1 154.3C121.2 154.5 123.7 156.4 126.4 155.7C129.1 155.0 133.4 151.5 136.2 150.1C139.0 148.7 140.7 148.0 143.2 147.3C145.8 146.6 149.3 145.9 151.6 145.9C154.0 145.9 156.3 147.1 157.2 147.3" fill="none" stroke="#2b2b2b" stroke-width="0.85" stroke-linecap="round" />
<path d="M118.0 158.5C119.2 158.3 122.7 157.1 125.0 157.1C127.3 157.1 129.9 159.1 132.0 158.5C134.1 157.9 135.5 155.0 137.6 153.6C139.7 152.2 142.3 151.0 144.6 150.1C147.0 149.2 150.5 148.4 151.6 148.0" fill="none" stroke="#2b2b2b" stroke-width="0.85" stroke-linecap="round" />
<path d="M108.2 166.2C109.8 165.5 115.0 163.0 118.0 162.0C121.0 161.1 123.8 160.6 126.4 160.6C129.0 160.6 132.3 161.8 133.4 162.0" fill="none" stroke="#2b2b2b" stroke-width="0.85" stroke-linecap="round" />
<path d="M105.4 168.3C106.8 168.4 111.0 169.4 113.8 169.0C116.6 168.7 119.4 166.5 122.2 166.2C125.0 166.0 128.3 167.9 130.6 167.6C133.0 167.4 133.7 165.5 136.2 164.8C138.8 164.1 143.2 163.4 146.0 163.4C148.8 163.4 151.2 165.3 153.0 164.8C154.9 164.4 156.5 161.3 157.2 160.6" fill="none" stroke="#2b2b2b" stroke-width="0.85" stroke-linecap="round" />
<path d="M106.8 172.5C108.2 172.8 112.4 174.3 115.2 173.9C118.0 173.6 120.8 170.9 123.6 170.4C126.4 170.0 129.7 171.4 132.0 171.1C134.4 170.9 135.3 169.6 137.6 169.0C140.0 168.4 143.2 168.1 146.0 167.6C148.8 167.2 153.0 166.5 154.4 166.2" fill="none" stroke="#2b2b2b" stroke-width="0.85" stroke-linecap="round" />
<path d="M120.1 175.3C121.2 175.0 124.0 173.7 126.4 173.2C128.9 172.8 133.4 172.6 134.8 172.5" fill="none" stroke="#2b2b2b" stroke-width="0.85" stroke-linecap="round" />
<path d="M134.8 157.8L138.3 163.4L136.2 164.8" fill="none" stroke="#2b2b2b" stroke-width="0.85" stroke-linejoin="round" stroke-linecap="round" />
<path d="M111.0 173.9L121.5 178.8" fill="none" stroke="#2b2b2b" stroke-width="0.85" stroke-linejoin="round" stroke-linecap="round" />
<path d="M106.8 176.0L120.1 183.7" fill="none" stroke="#2b2b2b" stroke-width="0.85" stroke-linejoin="round" stroke-linecap="round" />
<path d="M101.9 141.0C103.9 142.2 112.3 145.4 113.8 148.0C115.3 150.6 112.4 153.4 111.0 156.4C109.6 159.4 106.3 164.6 105.4 166.2" fill="none" stroke="#2b2b2b" stroke-width="0.85" stroke-linecap="round" />
<path d="M109.6 148.0C107.7 151.0 101.4 161.1 98.4 166.2C95.4 171.4 92.6 176.7 91.4 178.8" fill="none" stroke="#2b2b2b" stroke-width="0.85" stroke-linecap="round" />
<path d="M114.5 150.1C113.0 152.8 107.6 161.2 105.4 166.2C103.2 171.2 102.0 176.3 101.2 180.2C100.4 184.2 100.6 188.4 100.5 190.0" fill="none" stroke="#2b2b2b" stroke-width="0.85" stroke-linecap="round" />
<path d="M90.0 181.6C91.2 182.3 94.7 184.2 97.0 185.8C99.3 187.5 102.6 189.8 104.0 191.4C105.4 193.1 105.2 194.9 105.4 195.6" fill="none" stroke="#2b2b2b" stroke-width="0.85" stroke-linecap="round" />
<path d="M90.0 151.5C91.6 150.7 97.2 148.1 99.8 146.6C102.4 145.1 104.5 143.1 105.4 142.4" fill="none" stroke="#2b2b2b" stroke-width="0.85" stroke-linecap="round" />
<path d="M90.0 160.6C91.4 159.4 95.4 156.4 98.4 153.6C101.4 150.8 105.9 145.9 108.2 143.8C110.5 141.7 111.7 141.5 112.4 141.0" fill="none" stroke="#2b2b2b" stroke-width="0.85" stroke-linecap="round" />
<path d="M132.0 178.1L129.2 198.4" fill="none" stroke="#2b2b2b" stroke-width="0.85" stroke-linecap="round" />
<path d="M136.2 176.0L133.4 198.4" fill="none" stroke="#2b2b2b" stroke-width="0.85" stroke-linecap="round" stroke-dasharray="6 3"/>
<path d="M143.9 175.3L141.8 204.0" fill="none" stroke="#2b2b2b" stroke-width="0.85" stroke-linecap="round" />
<path d="M151.6 171.8L147.4 204.0" fill="none" stroke="#2b2b2b" stroke-width="0.85" stroke-linecap="round" />
<path d="M157.2 166.2C156.5 169.7 154.0 180.9 153.0 187.2C152.1 193.5 151.9 201.2 151.6 204.0" fill="none" stroke="#2b2b2b" stroke-width="0.85" stroke-linecap="round" />
<path d="M119.4 185.8C119.2 187.9 118.7 195.4 118.0 198.4C117.3 201.5 115.7 203.1 115.2 204.0" fill="none" stroke="#2b2b2b" stroke-width="0.85" stroke-linecap="round" />
<path d="M115.9 183.7L113.8 198.4" fill="none" stroke="#2b2b2b" stroke-width="0.85" stroke-linecap="round" />
<path d="M113.8 199.8C115.7 200.3 121.3 201.9 125.0 202.6C128.7 203.3 132.7 202.9 136.2 204.0C139.7 205.2 143.7 208.2 146.0 209.6C148.4 211.0 149.5 212.0 150.2 212.4" fill="none" stroke="#2b2b2b" stroke-width="0.85" stroke-linecap="round" />
<path d="M108.2 204.0C109.8 204.3 114.0 204.7 118.0 205.4C122.0 206.1 127.8 206.8 132.0 208.2C136.2 209.6 141.4 212.9 143.2 213.8" fill="none" stroke="#2b2b2b" stroke-width="0.85" stroke-linecap="round" />
<path d="M146.0 205.4C147.0 205.0 150.0 202.4 151.6 202.6C153.3 202.9 155.2 204.7 155.8 206.8C156.4 208.9 155.8 213.4 155.1 215.2C154.4 217.1 152.2 217.6 151.6 218.0" fill="none" stroke="#2b2b2b" stroke-width="0.85" stroke-linecap="round" />
<path d="M92.8 199.8C93.7 199.6 96.5 198.3 98.4 198.4C100.3 198.5 102.8 199.6 104.0 200.5C105.2 201.5 105.2 203.5 105.4 204.0" fill="none" stroke="#2b2b2b" stroke-width="0.85" stroke-linecap="round" />
<path d="M122.2 206.8L119.4 220.0" fill="none" stroke="#2b2b2b" stroke-width="0.85" stroke-linecap="round" />
<path d="M127.8 209.6L125.0 220.0" fill="none" stroke="#2b2b2b" stroke-width="0.85" stroke-linecap="round" stroke-dasharray="6 3"/>
<path d="M139.0 212.4L137.6 220.0" fill="none" stroke="#2b2b2b" stroke-width="0.85" stroke-linecap="round" />
<path d="M106.8 204.0L104.7 220.0" fill="none" stroke="#2b2b2b" stroke-width="0.85" stroke-linecap="round" />
<path d="M166.3 211.0C166.0 211.7 165.0 214.3 164.2 215.2C163.4 216.2 161.7 215.8 161.4 216.6C161.2 217.4 162.6 219.4 162.8 220.0" fill="none" stroke="#2b2b2b" stroke-width="0.85" stroke-linecap="round" />
<ellipse cx="117.0" cy="145.9" rx="1.7" ry="2.1" transform="rotate(20 117.0 145.9)" fill="#fff" stroke="#2b2b2b" stroke-width="0.85"/>
<ellipse cx="155.8" cy="143.1" rx="1.8" ry="2.2" transform="rotate(20 155.8 143.1)" fill="#fff" stroke="#2b2b2b" stroke-width="0.85"/>
<ellipse cx="162.1" cy="140.7" rx="1.9" ry="2.4" transform="rotate(20 162.1 140.7)" fill="#fff" stroke="#111" stroke-width="1.3"/>
<ellipse cx="173.6" cy="165.5" rx="1.7" ry="2.1" transform="rotate(20 173.6 165.5)" fill="#fff" stroke="#2b2b2b" stroke-width="0.85"/>
<ellipse cx="122.5" cy="181.2" rx="1.9" ry="2.4" transform="rotate(20 122.5 181.2)" fill="#fff" stroke="#2b2b2b" stroke-width="0.85"/>
<ellipse cx="122.5" cy="181.2" rx="1.1" ry="1.3" transform="rotate(20 122.5 181.2)" fill="#fff" stroke="#111" stroke-width="1.3"/>
<ellipse cx="165.6" cy="216.6" rx="1.4" ry="1.8" transform="rotate(20 165.6 216.6)" fill="#fff" stroke="#2b2b2b" stroke-width="0.85"/>
<ellipse cx="98.4" cy="206.1" rx="4.3" ry="5.4" transform="rotate(25 98.4 206.1)" fill="#fff" stroke="#2b2b2b" stroke-width="0.9"/>
<ellipse cx="98.4" cy="206.1" rx="2.3" ry="3.1" transform="rotate(25 98.4 206.1)" fill="#fff" stroke="#111" stroke-width="1.5"/>
<ellipse cx="113.1" cy="133.3" rx="11.2" ry="3.9" transform="rotate(10 113.1 133.3)" fill="#fff" stroke="#111" stroke-width="1.4"/>
<path d="M98.0 141.4C95.2 143.8 86.6 150.0 81.2 156.2C75.9 162.4 70.3 170.9 65.8 178.6C61.4 186.3 57.7 195.9 54.6 202.4C51.6 209.0 48.8 215.3 47.6 217.8" fill="none" stroke="#2b2b2b" stroke-width="0.85" stroke-linecap="round" />
<path d="M100.8 145.0L84.0 167.4" fill="none" stroke="#2b2b2b" stroke-width="0.85" stroke-linejoin="round" stroke-linecap="round" />
<path d="M93.8 150.6L78.4 170.2" fill="none" stroke="#2b2b2b" stroke-width="0.85" stroke-linejoin="round" stroke-linecap="round" />
<path d="M96.6 152.0L81.2 172.2" fill="none" stroke="#2b2b2b" stroke-width="0.7" stroke-linejoin="round" stroke-linecap="round" />
<path d="M85.4 157.6C82.4 160.9 72.6 170.2 67.2 177.2C61.9 184.2 55.6 195.9 53.2 199.6" fill="none" stroke="#2b2b2b" stroke-width="0.7" stroke-linecap="round" stroke-dasharray="8 2 2 2"/>
<path d="M51.1 186.8L46.2 204.3L49.0 207.8L53.2 202.9L57.4 187.5Z" fill="none" stroke="#2b2b2b" stroke-width="0.85" stroke-linejoin="round" stroke-linecap="round" />
<path d="M52.5 188.9L48.3 203.6" fill="none" stroke="#2b2b2b" stroke-width="0.85" stroke-linejoin="round" stroke-linecap="round" />
<path d="M72.8 170.0C71.0 172.1 64.4 177.9 61.6 182.6C58.8 187.3 58.1 193.7 56.0 198.0C53.9 202.3 51.4 205.7 49.0 208.5C46.7 211.3 43.2 213.8 42.0 214.8" fill="none" stroke="#2b2b2b" stroke-width="0.85" stroke-linecap="round" stroke-dasharray="12 2 2 2"/>
<path d="M89.6 170.0C86.8 172.3 77.3 179.6 72.8 184.0C68.4 188.4 64.7 194.5 63.0 196.6" fill="none" stroke="#2b2b2b" stroke-width="0.85" stroke-linecap="round" />
<path d="M82.6 188.2C81.6 189.4 79.1 192.4 76.3 195.2C73.5 198.0 69.6 201.2 65.8 205.0C62.1 208.9 57.9 213.9 53.9 218.3C50.0 222.8 44.0 229.4 42.0 231.6" fill="none" stroke="#2b2b2b" stroke-width="0.85" stroke-linecap="round" />
<path d="M84.0 192.4C81.7 194.7 74.2 202.0 70.0 206.4C65.8 210.8 62.8 214.4 58.8 219.0C54.9 223.7 48.3 231.9 46.2 234.4" fill="none" stroke="#2b2b2b" stroke-width="0.85" stroke-linecap="round" />
<path d="M86.8 198.0C85.4 199.4 81.7 202.2 78.4 206.4C75.2 210.6 69.1 220.4 67.2 223.2" fill="none" stroke="#2b2b2b" stroke-width="0.85" stroke-linecap="round" />
<path d="M71.4 183.3L76.3 184.0L74.2 187.5" fill="none" stroke="#2b2b2b" stroke-width="0.85" stroke-linejoin="round" stroke-linecap="round" />
<ellipse cx="77.0" cy="195.9" rx="1.4" ry="1.8" transform="rotate(20 77.0 195.9)" fill="#fff" stroke="#2b2b2b" stroke-width="0.85"/>
<path d="M60.2 195.2L63.7 195.9" fill="none" stroke="#2b2b2b" stroke-width="1.2" stroke-linejoin="round" stroke-linecap="round" />
<path d="M22.4 230.2L27.3 226.0L39.2 219.0L47.6 217.6L53.2 220.4" fill="none" stroke="#2b2b2b" stroke-width="0.85" stroke-linejoin="round" stroke-linecap="round" />
<path d="M34.3 231.6L50.4 219.0" fill="none" stroke="#2b2b2b" stroke-width="0.85" stroke-linejoin="round" stroke-linecap="round" />
<path d="M32.9 228.1L43.4 221.8" fill="none" stroke="#2b2b2b" stroke-width="0.85" stroke-linejoin="round" stroke-linecap="round" />
<path d="M33.6 231.6L37.8 233.7L53.2 221.8L57.4 223.2L46.2 235.8L37.8 233.7" fill="none" stroke="#2b2b2b" stroke-width="0.85" stroke-linejoin="round" stroke-linecap="round" />
<path d="M22.4 228.8C21.2 230.2 17.0 234.0 15.4 237.2C13.8 240.5 12.8 244.7 12.6 248.4C12.4 252.2 12.8 256.6 14.0 259.6C15.2 262.7 18.1 266.2 19.6 266.6C21.1 267.1 22.5 263.1 23.1 262.4" fill="none" stroke="#2b2b2b" stroke-width="0.85" stroke-linecap="round" />
<path d="M27.3 226.0C27.0 227.0 24.7 230.0 25.2 231.6C25.7 233.3 28.5 234.9 30.1 235.8C31.7 236.8 34.2 237.0 35.0 237.2" fill="none" stroke="#2b2b2b" stroke-width="0.85" stroke-linecap="round" />
<path d="M30.1 235.8C30.5 237.9 32.2 244.5 32.2 248.4C32.2 252.4 30.6 256.0 30.1 259.6C29.6 263.2 29.5 268.3 29.4 270.0" fill="none" stroke="#2b2b2b" stroke-width="0.85" stroke-linecap="round" />
<path d="M35.0 240.0C34.7 242.4 33.1 249.0 32.9 254.0C32.7 259.0 33.5 267.3 33.6 270.0" fill="none" stroke="#2b2b2b" stroke-width="0.85" stroke-linecap="round" />
<path d="M42.0 235.8C41.5 237.9 39.6 244.2 39.2 248.4C38.9 252.6 39.8 258.9 39.9 261.0" fill="none" stroke="#2b2b2b" stroke-width="0.85" stroke-linecap="round" />
<ellipse cx="36.1" cy="236.9" rx="1.4" ry="1.8" transform="rotate(20 36.1 236.9)" fill="#fff" stroke="#2b2b2b" stroke-width="0.85"/>
<ellipse cx="67.9" cy="226.7" rx="1.8" ry="2.2" transform="rotate(20 67.9 226.7)" fill="#fff" stroke="#2b2b2b" stroke-width="0.85"/>
<ellipse cx="67.9" cy="226.7" rx="1.0" ry="1.2" transform="rotate(20 67.9 226.7)" fill="#fff" stroke="#111" stroke-width="1.3"/>
<path d="M70.0 225.3L73.5 227.4L72.8 230.9" fill="none" stroke="#2b2b2b" stroke-width="0.85" stroke-linejoin="round" stroke-linecap="round" />
<path d="M49.7 239.3L65.1 248.4" fill="none" stroke="#2b2b2b" stroke-width="0.85" stroke-linejoin="round" stroke-linecap="round" />
<path d="M48.3 242.8L63.7 252.6" fill="none" stroke="#2b2b2b" stroke-width="0.85" stroke-linejoin="round" stroke-linecap="round" />
<ellipse cx="67.2" cy="250.1" rx="2.0" ry="2.5" transform="rotate(20 67.2 250.1)" fill="#fff" stroke="#2b2b2b" stroke-width="0.85"/>
<path d="M49.7 239.3C49.4 239.6 48.1 240.1 47.9 240.7C47.7 241.3 48.2 242.5 48.3 242.8" fill="none" stroke="#2b2b2b" stroke-width="0.85" stroke-linecap="round" />
<path d="M61.6 207.8C61.4 210.4 60.1 218.3 60.2 223.2C60.3 228.1 61.4 233.5 62.3 237.2C63.3 241.0 65.2 244.2 65.8 245.6" fill="none" stroke="#2b2b2b" stroke-width="0.85" stroke-linecap="round" />
<path d="M64.4 212.0L63.7 226.0" fill="none" stroke="#2b2b2b" stroke-width="0.85" stroke-linecap="round" />
<path d="M71.4 206.4C71.0 208.0 69.6 213.4 68.6 216.2C67.7 219.0 66.3 222.1 65.8 223.2" fill="none" stroke="#2b2b2b" stroke-width="0.85" stroke-linecap="round" />
<path d="M79.8 205.0C78.7 207.3 74.5 215.5 72.8 219.0C71.2 222.5 70.5 224.9 70.0 226.0" fill="none" stroke="#2b2b2b" stroke-width="0.85" stroke-linecap="round" />
<path d="M84.0 210.6C83.1 212.3 79.1 217.4 78.4 220.4C77.7 223.5 80.3 227.0 79.8 228.8C79.4 230.7 77.3 231.4 75.6 231.6C74.0 231.9 71.0 230.5 70.0 230.2" fill="none" stroke="#2b2b2b" stroke-width="0.85" stroke-linecap="round" />
<path d="M78.4 223.2C79.4 222.5 81.9 219.0 84.0 219.0C86.1 219.0 88.4 222.1 91.0 223.2C93.7 224.4 98.5 225.6 100.0 226.0" fill="none" stroke="#2b2b2b" stroke-width="0.85" stroke-linecap="round" />
<path d="M82.6 235.8C83.8 235.1 86.7 232.6 89.6 231.6C92.5 230.7 98.3 230.5 100.0 230.2" fill="none" stroke="#2b2b2b" stroke-width="0.85" stroke-linecap="round" />
<path d="M72.8 240.0L81.2 235.8" fill="none" stroke="#2b2b2b" stroke-width="0.85" stroke-linecap="round" />
<path d="M84.0 242.8C85.9 242.4 92.6 240.0 95.2 240.0C97.9 240.0 99.2 242.4 100.0 242.8" fill="none" stroke="#2b2b2b" stroke-width="0.85" stroke-linecap="round" />
<path d="M92.4 233.0C92.9 235.6 94.5 244.0 95.2 248.4C95.9 252.9 96.4 257.8 96.6 259.6" fill="none" stroke="#2b2b2b" stroke-width="0.85" stroke-linecap="round" />
<path d="M85.4 235.8C85.8 237.9 86.4 245.4 87.5 248.4C88.7 251.5 90.9 251.9 92.4 254.0C94.0 256.1 95.9 259.9 96.6 261.0" fill="none" stroke="#2b2b2b" stroke-width="0.85" stroke-linecap="round" />
<path d="M42.0 248.4L50.4 242.8" fill="none" stroke="#2b2b2b" stroke-width="0.85" stroke-linejoin="round" stroke-linecap="round" />
<path d="M43.4 252.6L56.0 245.6" fill="none" stroke="#2b2b2b" stroke-width="0.85" stroke-linejoin="round" stroke-linecap="round" />
<path d="M46.2 259.6C48.6 258.0 57.0 250.8 60.2 249.8C63.5 248.9 65.4 250.7 65.8 254.0C66.3 257.4 63.5 267.3 63.0 270.0" fill="none" stroke="#2b2b2b" stroke-width="0.85" stroke-linecap="round" />
<path d="M35.0 270.0L46.2 259.6" fill="none" stroke="#2b2b2b" stroke-width="0.85" stroke-linejoin="round" stroke-linecap="round" />
<path d="M42.0 270.0C44.1 268.5 51.6 261.0 54.6 261.0C57.7 261.0 59.3 268.5 60.2 270.0" fill="none" stroke="#2b2b2b" stroke-width="0.85" stroke-linecap="round" />
<path d="M72.8 242.8C73.1 244.7 73.3 250.8 74.2 254.0C75.2 257.3 76.8 259.8 78.4 262.4C80.1 265.1 83.1 268.7 84.0 270.0" fill="none" stroke="#2b2b2b" stroke-width="0.85" stroke-linecap="round" />
<path d="M67.2 254.0C67.7 255.9 68.6 262.6 70.0 265.2C71.4 267.9 74.7 269.2 75.6 270.0" fill="none" stroke="#2b2b2b" stroke-width="0.85" stroke-linecap="round" />
<path d="M111.0 228.2C112.9 230.3 118.0 236.1 122.2 240.8C126.4 245.5 132.7 252.3 136.2 256.2C139.7 260.2 142.1 263.2 143.2 264.6" fill="none" stroke="#2b2b2b" stroke-width="0.85" stroke-linecap="round" />
<path d="M112.4 226.8C114.7 229.3 123.1 238.0 126.4 241.5C129.7 245.0 131.1 246.8 132.0 247.8" fill="none" stroke="#2b2b2b" stroke-width="0.85" stroke-linecap="round" />
<path d="M136.2 210.0C134.6 212.8 129.4 222.1 126.4 226.8C123.4 231.5 119.4 236.1 118.0 238.0" fill="none" stroke="#2b2b2b" stroke-width="0.85" stroke-linecap="round" />
<path d="M148.8 210.0C147.0 213.5 141.6 224.9 137.6 231.0C133.7 237.1 128.7 242.7 125.0 246.4C121.3 250.1 116.8 252.3 115.2 253.4" fill="none" stroke="#2b2b2b" stroke-width="0.85" stroke-linecap="round" />
<path d="M155.8 221.2C154.2 224.0 149.3 233.1 146.0 238.0C142.8 242.9 137.9 248.5 136.2 250.6" fill="none" stroke="#2b2b2b" stroke-width="0.85" stroke-linecap="round" />
<path d="M162.8 228.2C161.9 231.2 158.6 240.8 157.2 246.4C155.8 252.0 154.9 259.3 154.4 261.8" fill="none" stroke="#2b2b2b" stroke-width="0.85" stroke-linecap="round" />
<path d="M166.3 215.6C165.7 219.3 164.3 231.0 162.8 238.0C161.3 245.0 158.2 254.4 157.2 257.6" fill="none" stroke="#2b2b2b" stroke-width="0.85" stroke-linecap="round" />
<path d="M130.6 212.8L123.6 221.2" fill="none" stroke="#2b2b2b" stroke-width="0.85" stroke-linecap="round" stroke-dasharray="6 3"/>
<path d="M141.8 215.6L132.0 232.4" fill="none" stroke="#2b2b2b" stroke-width="0.85" stroke-linecap="round" stroke-dasharray="6 3"/>
<path d="M168.4 214.2C168.1 217.0 167.7 224.7 166.3 231.0C164.9 237.3 161.8 246.9 160.0 252.0C158.3 257.2 156.5 260.2 155.8 261.8" fill="none" stroke="#2b2b2b" stroke-width="0.85" stroke-linecap="round" stroke-dasharray="14 2 2 2"/>
<path d="M162.8 222.6C162.4 225.2 161.2 233.1 160.0 238.0C158.9 242.9 156.5 249.7 155.8 252.0" fill="none" stroke="#2b2b2b" stroke-width="0.85" stroke-linecap="round" />
<path d="M155.8 261.8C156.1 263.2 157.5 267.7 157.2 270.2C157.0 272.8 155.6 275.6 154.4 277.2C153.3 278.9 151.9 278.2 150.2 280.0C148.6 281.9 146.7 285.2 144.6 288.4C142.5 291.7 138.8 297.8 137.6 299.6" fill="none" stroke="#2b2b2b" stroke-width="0.85" stroke-linecap="round" />
<path d="M151.6 266.0C150.7 267.9 147.7 274.0 146.0 277.2C144.4 280.5 143.5 282.4 141.8 285.6C140.2 288.9 137.2 295.0 136.2 296.8" fill="none" stroke="#2b2b2b" stroke-width="0.85" stroke-linecap="round" />
<path d="M143.2 266.7L151.6 268.8" fill="none" stroke="#2b2b2b" stroke-width="0.85" stroke-linejoin="round" stroke-linecap="round" />
<path d="M143.9 267.4L141.8 275.8L148.8 277.2" fill="none" stroke="#2b2b2b" stroke-width="0.85" stroke-linejoin="round" stroke-linecap="round" />
<path d="M104.0 259.0C106.3 258.6 114.5 255.8 118.0 256.2C121.5 256.7 122.9 261.6 125.0 261.8C127.1 262.1 129.2 258.8 130.6 257.6C132.0 256.5 133.0 255.3 133.4 254.8" fill="none" stroke="#2b2b2b" stroke-width="0.85" stroke-linecap="round" />
<path d="M104.0 259.0C105.4 257.9 110.1 253.9 112.4 252.0C114.7 250.1 117.1 248.5 118.0 247.8" fill="none" stroke="#2b2b2b" stroke-width="0.85" stroke-linecap="round" />
<path d="M90.0 273.0C92.3 271.9 99.3 267.7 104.0 266.0C108.7 264.4 114.3 263.0 118.0 263.2C121.7 263.5 124.3 266.0 126.4 267.4C128.5 268.8 129.9 270.9 130.6 271.6" fill="none" stroke="#2b2b2b" stroke-width="0.85" stroke-linecap="round" />
<path d="M90.0 280.0C92.1 278.9 98.4 274.7 102.6 273.0C106.8 271.4 111.7 270.5 115.2 270.2C118.7 270.0 122.2 271.4 123.6 271.6" fill="none" stroke="#2b2b2b" stroke-width="0.85" stroke-linecap="round" />
<path d="M130.6 257.6C131.3 259.0 134.6 263.0 134.8 266.0C135.1 269.1 133.4 273.0 132.0 275.8C130.6 278.6 128.7 280.7 126.4 282.8C124.1 284.9 119.4 287.5 118.0 288.4" fill="none" stroke="#2b2b2b" stroke-width="0.85" stroke-linecap="round" />
<path d="M137.6 263.2C137.9 264.4 139.3 267.7 139.0 270.2C138.8 272.8 136.7 277.2 136.2 278.6" fill="none" stroke="#2b2b2b" stroke-width="0.85" stroke-linecap="round" />
<ellipse cx="162.8" cy="217.7" rx="1.8" ry="2.2" transform="rotate(20 162.8 217.7)" fill="#fff" stroke="#2b2b2b" stroke-width="0.85"/>
<ellipse cx="153.7" cy="273.7" rx="1.8" ry="2.2" transform="rotate(20 153.7 273.7)" fill="#fff" stroke="#2b2b2b" stroke-width="0.85"/>
<ellipse cx="137.6" cy="284.2" rx="2.6" ry="3.2" transform="rotate(20 137.6 284.2)" fill="#fff" stroke="#2b2b2b" stroke-width="0.85"/>
<ellipse cx="108.9" cy="225.7" rx="2.1" ry="2.6" transform="rotate(20 108.9 225.7)" fill="#fff" stroke="#2b2b2b" stroke-width="0.85"/>
<ellipse cx="108.9" cy="225.7" rx="1.2" ry="1.5" transform="rotate(20 108.9 225.7)" fill="#fff" stroke="#111" stroke-width="1.3"/>
<path d="M132.0 294.0L136.2 305.2" fill="none" stroke="#111" stroke-width="1.3" stroke-linejoin="round" stroke-linecap="round" stroke-dasharray="1.5 1.5"/>
<path d="M21.0 260.0C21.2 261.4 23.3 265.8 22.4 268.4C21.5 271.0 16.3 273.1 15.4 275.4C14.5 277.7 15.6 280.5 16.8 282.4C18.0 284.3 21.6 283.3 22.4 286.6C23.2 289.9 21.1 298.5 21.7 302.0C22.3 305.5 25.6 305.5 25.9 307.6C26.3 309.7 23.9 312.8 23.8 314.6C23.7 316.5 24.2 317.9 25.2 318.8C26.3 319.8 29.3 320.0 30.1 320.2" fill="none" stroke="#2b2b2b" stroke-width="0.85" stroke-linecap="round" />
<path d="M30.1 320.2C30.7 320.6 31.6 321.4 33.6 322.3C35.6 323.3 40.4 324.5 42.0 325.8C43.7 327.1 41.8 329.3 43.4 330.0C45.1 330.7 49.7 330.3 51.8 330.0C53.9 329.8 54.6 328.4 56.0 328.6C57.4 328.9 58.4 330.3 60.2 331.4C62.1 332.6 65.4 334.0 67.2 335.6C69.1 337.3 71.1 339.6 71.4 341.2C71.8 342.9 69.8 343.6 69.3 345.4C68.9 347.3 67.8 350.6 68.6 352.4C69.4 354.3 72.1 356.4 74.2 356.6C76.3 356.9 78.7 355.2 81.2 353.8C83.8 352.4 86.5 349.9 89.6 348.2C92.8 346.6 98.3 344.7 100.0 344.0" fill="none" stroke="#2b2b2b" stroke-width="0.85" stroke-linecap="round" />
<path d="M30.1 260.0C30.1 262.3 30.1 269.3 30.1 274.0C30.1 278.7 30.2 283.3 30.1 288.0C30.0 292.7 29.1 297.8 29.4 302.0C29.8 306.2 30.3 310.2 32.2 313.2C34.1 316.3 37.3 318.4 40.6 320.2C43.9 322.1 48.8 323.5 51.8 324.4C54.9 325.4 56.5 324.7 58.8 325.8C61.2 327.0 63.3 329.1 65.8 331.4C68.4 333.8 72.1 337.7 74.2 339.8C76.3 341.9 75.9 343.3 78.4 344.0C81.0 344.7 86.0 344.7 89.6 344.0C93.2 343.3 98.3 340.5 100.0 339.8" fill="none" stroke="#2b2b2b" stroke-width="0.85" stroke-linecap="round" />
<path d="M32.9 271.2C32.8 276.3 31.7 295.2 32.2 302.0C32.7 308.8 35.1 310.2 35.7 311.8" fill="none" stroke="#2b2b2b" stroke-width="0.85" stroke-linecap="round" />
<ellipse cx="28.4" cy="282.4" rx="1.8" ry="2.2" transform="rotate(20 28.4 282.4)" fill="#fff" stroke="#2b2b2b" stroke-width="0.85"/>
<ellipse cx="34.3" cy="317.4" rx="1.8" ry="2.2" transform="rotate(20 34.3 317.4)" fill="#fff" stroke="#2b2b2b" stroke-width="0.85"/>
<ellipse cx="59.5" cy="328.2" rx="1.8" ry="2.2" transform="rotate(20 59.5 328.2)" fill="#fff" stroke="#2b2b2b" stroke-width="0.85"/>
<ellipse cx="84.0" cy="349.6" rx="1.4" ry="1.8" transform="rotate(20 84.0 349.6)" fill="#fff" stroke="#2b2b2b" stroke-width="0.85"/>
<ellipse cx="74.2" cy="349.6" rx="1.3" ry="1.6" transform="rotate(20 74.2 349.6)" fill="#fff" stroke="#111" stroke-width="1.3"/>
<path d="M36.4 283.1L42.0 285.9" fill="none" stroke="#2b2b2b" stroke-width="0.85" stroke-linejoin="round" stroke-linecap="round" />
<ellipse cx="39.9" cy="286.6" rx="1.8" ry="2.2" transform="rotate(20 39.9 286.6)" fill="#fff" stroke="#2b2b2b" stroke-width="0.85"/>
<path d="M47.6 318.8C47.9 318.0 47.9 315.0 49.0 313.9C50.2 312.9 53.1 312.2 54.6 312.5C56.1 312.9 57.7 314.5 58.1 316.0C58.6 317.5 57.5 320.7 57.4 321.6" fill="none" stroke="#2b2b2b" stroke-width="0.85" stroke-linecap="round" />
<path d="M49.0 320.2C49.3 319.5 49.7 316.9 50.7 316.0C51.7 315.1 54.2 315.1 54.9 314.9" fill="none" stroke="#2b2b2b" stroke-width="0.85" stroke-linecap="round" />
<path d="M35.0 272.6C37.1 271.7 44.1 268.6 47.6 267.0C51.1 265.4 54.6 263.5 56.0 262.8" fill="none" stroke="#2b2b2b" stroke-width="0.85" stroke-linecap="round" />
<path d="M33.6 300.6C36.6 298.5 47.4 288.7 51.8 288.0C56.3 287.3 57.2 294.5 60.2 296.4C63.3 298.3 68.4 298.7 70.0 299.2" fill="none" stroke="#2b2b2b" stroke-width="0.85" stroke-linecap="round" />
<path d="M35.0 309.0L53.2 296.4" fill="none" stroke="#2b2b2b" stroke-width="0.85" stroke-linejoin="round" stroke-linecap="round" />
<path d="M53.2 288.0C52.5 286.4 50.9 281.0 49.0 278.2C47.2 275.4 43.2 272.4 42.0 271.2" fill="none" stroke="#2b2b2b" stroke-width="0.85" stroke-linecap="round" />
<path d="M56.0 313.2L61.6 300.6" fill="none" stroke="#2b2b2b" stroke-width="0.85" stroke-linejoin="round" stroke-linecap="round" />
<path d="M61.6 317.4L70.0 300.6" fill="none" stroke="#2b2b2b" stroke-width="0.85" stroke-linejoin="round" stroke-linecap="round" />
<path d="M58.8 260.0C57.9 262.3 53.7 269.8 53.2 274.0C52.8 278.2 53.9 282.2 56.0 285.2C58.1 288.2 62.1 290.3 65.8 292.2C69.6 294.1 72.7 295.9 78.4 296.4C84.1 296.9 96.4 295.2 100.0 295.0" fill="none" stroke="#2b2b2b" stroke-width="0.85" stroke-linecap="round" />
<path d="M65.8 260.0C65.1 262.1 61.9 268.6 61.6 272.6C61.4 276.6 62.6 281.0 64.4 283.8C66.3 286.6 69.6 288.0 72.8 289.4C76.1 290.8 79.5 292.1 84.0 292.2C88.6 292.3 97.3 290.5 100.0 290.1" fill="none" stroke="#2b2b2b" stroke-width="0.85" stroke-linecap="round" />
<path d="M72.8 264.2C72.8 266.3 72.4 272.8 72.8 276.8C73.3 280.8 75.2 286.1 75.6 288.0" fill="none" stroke="#2b2b2b" stroke-width="0.85" stroke-linecap="round" />
<path d="M78.4 265.6L77.0 278.2" fill="none" stroke="#2b2b2b" stroke-width="0.85" stroke-linecap="round" />
<path d="M75.6 274.0C77.5 273.8 82.8 273.8 86.8 272.6C90.9 271.4 97.8 267.9 100.0 267.0" fill="none" stroke="#2b2b2b" stroke-width="0.85" stroke-linecap="round" />
<path d="M65.8 318.8C67.0 317.9 69.8 314.6 72.8 313.2C75.9 311.8 79.8 311.9 84.0 310.4C88.2 308.9 95.7 305.2 98.0 304.1" fill="none" stroke="#2b2b2b" stroke-width="0.85" stroke-linecap="round" />
<path d="M67.2 321.6C69.1 323.0 75.6 327.2 78.4 330.0C81.2 332.8 83.1 337.0 84.0 338.4" fill="none" stroke="#2b2b2b" stroke-width="0.85" stroke-linecap="round" />
<path d="M72.8 313.2C74.2 315.3 78.4 322.1 81.2 325.8C84.0 329.6 88.2 334.0 89.6 335.6" fill="none" stroke="#2b2b2b" stroke-width="0.85" stroke-linecap="round" />
<path d="M84.0 310.4L78.4 318.8" fill="none" stroke="#2b2b2b" stroke-width="0.85" stroke-linejoin="round" stroke-linecap="round" />
<path d="M86.8 325.8L100.0 313.2" fill="none" stroke="#2b2b2b" stroke-width="0.85" stroke-linejoin="round" stroke-linecap="round" />
<path d="M89.6 335.6L100.0 320.2" fill="none" stroke="#2b2b2b" stroke-width="0.85" stroke-linejoin="round" stroke-linecap="round" />
<path d="M78.4 330.0L86.8 325.8" fill="none" stroke="#2b2b2b" stroke-width="0.85" stroke-linejoin="round" stroke-linecap="round" />
<ellipse cx="84.0" cy="341.2" rx="2.1" ry="2.6" transform="rotate(20 84.0 341.2)" fill="#fff" stroke="#2b2b2b" stroke-width="0.85"/>
<ellipse cx="93.1" cy="343.3" rx="2.4" ry="2.9" transform="rotate(20 93.1 343.3)" fill="#fff" stroke="#2b2b2b" stroke-width="0.85"/>
<path d="M105.0 313.4C104.9 311.5 103.6 305.7 104.3 302.2C105.0 298.7 107.2 294.7 109.2 292.4C111.2 290.1 115.1 288.9 116.2 288.2" fill="none" stroke="#2b2b2b" stroke-width="0.85" stroke-linecap="round" />
<path d="M116.2 288.2L128.8 296.6" fill="none" stroke="#2b2b2b" stroke-width="0.85" stroke-linejoin="round" stroke-linecap="round" />
<path d="M105.0 313.4L117.6 319.0" fill="none" stroke="#2b2b2b" stroke-width="0.85" stroke-linejoin="round" stroke-linecap="round" />
<path d="M107.1 312.0C107.0 310.5 106.0 305.9 106.7 302.9C107.4 299.9 109.5 296.0 111.3 293.8C113.1 291.6 116.6 290.3 117.6 289.6" fill="none" stroke="#2b2b2b" stroke-width="0.85" stroke-linecap="round" />
<path d="M102.2 286.8C103.1 285.9 105.7 282.4 107.8 281.2C109.9 280.0 113.0 279.5 114.8 279.8C116.7 280.2 118.3 282.7 119.0 283.3" fill="none" stroke="#2b2b2b" stroke-width="0.85" stroke-linecap="round" />
<path d="M100.1 291.0L103.6 284.0" fill="none" stroke="#2b2b2b" stroke-width="0.85" stroke-linecap="round" />
<path d="M91.0 282.6L95.2 280.5L102.2 291.0L98.0 288.2L92.4 286.8Z" fill="#fff" stroke="#2b2b2b" stroke-width="0.85" stroke-linejoin="round" stroke-linecap="round" />
<path d="M93.1 281.9L94.9 286.1" fill="none" stroke="#2b2b2b" stroke-width="0.85" stroke-linejoin="round" stroke-linecap="round" />
<path d="M94.5 281.2L96.6 285.7" fill="none" stroke="#2b2b2b" stroke-width="0.85" stroke-linejoin="round" stroke-linecap="round" />
<ellipse cx="152.6" cy="273.5" rx="1.8" ry="2.2" transform="rotate(20 152.6 273.5)" fill="#fff" stroke="#2b2b2b" stroke-width="0.85"/>
<path d="M148.4 278.4C147.5 280.5 144.5 287.3 142.8 291.0C141.2 294.7 140.5 296.6 138.6 300.8C136.8 305.0 133.7 312.5 131.6 316.2C129.5 320.0 127.0 322.1 126.0 323.2" fill="none" stroke="#2b2b2b" stroke-width="0.85" stroke-linecap="round" />
<path d="M117.6 335.8L100.8 342.8" fill="none" stroke="#2b2b2b" stroke-width="0.85" stroke-linecap="round" />
<path d="M86.8 354.0C85.4 354.3 80.7 355.7 78.4 355.4C76.1 355.2 73.7 353.1 72.8 352.6" fill="none" stroke="#2b2b2b" stroke-width="0.85" stroke-linecap="round" />
<path d="M155.4 277.0C154.3 279.6 150.8 287.7 148.4 292.4C146.1 297.1 143.8 300.6 141.4 305.0C139.1 309.4 136.8 315.1 134.4 319.0C132.1 323.0 129.1 326.3 127.4 328.8C125.8 331.4 128.4 332.1 124.6 334.4C120.9 336.8 108.3 341.4 105.0 342.8" fill="none" stroke="#2b2b2b" stroke-width="0.85" stroke-linecap="round" />
<path d="M144.2 275.6C143.1 278.2 139.1 286.8 137.2 291.0C135.4 295.2 133.7 299.2 133.0 300.8" fill="none" stroke="#2b2b2b" stroke-width="0.85" stroke-linecap="round" />
<ellipse cx="137.9" cy="284.0" rx="2.4" ry="2.9" transform="rotate(20 137.9 284.0)" fill="#fff" stroke="#2b2b2b" stroke-width="0.85"/>
<ellipse cx="121.8" cy="329.5" rx="2.1" ry="2.6" transform="rotate(20 121.8 329.5)" fill="#fff" stroke="#2b2b2b" stroke-width="0.85"/>
<ellipse cx="93.1" cy="343.1" rx="3.0" ry="3.7" transform="rotate(20 93.1 343.1)" fill="#fff" stroke="#2b2b2b" stroke-width="0.85"/>
<ellipse cx="84.0" cy="349.8" rx="1.7" ry="2.1" transform="rotate(20 84.0 349.8)" fill="#fff" stroke="#2b2b2b" stroke-width="0.85"/>
<ellipse cx="84.0" cy="340.7" rx="2.1" ry="2.6" transform="rotate(20 84.0 340.7)" fill="#fff" stroke="#2b2b2b" stroke-width="0.85"/>
<path d="M131.6 278.4L136.5 280.5" fill="none" stroke="#111" stroke-width="1.3" stroke-linejoin="round" stroke-linecap="round" stroke-dasharray="1.5 1.5"/>
<path d="M133.0 302.2L135.1 306.4" fill="none" stroke="#111" stroke-width="1.3" stroke-linejoin="round" stroke-linecap="round" stroke-dasharray="1.5 1.5"/>
<path d="M132.3 309.9C132.0 310.7 131.3 313.3 130.2 314.8C129.2 316.3 126.7 318.3 126.0 319.0" fill="none" stroke="#111" stroke-width="1.8" stroke-linecap="round" stroke-dasharray="1 1.2"/>
<path d="M103.6 316.2C103.4 319.5 101.7 331.9 102.2 335.8C102.7 339.8 105.7 339.3 106.4 340.0" fill="none" stroke="#2b2b2b" stroke-width="0.85" stroke-linecap="round" />
<path d="M105.7 316.2L106.4 335.8" fill="none" stroke="#2b2b2b" stroke-width="0.85" stroke-linejoin="round" stroke-linecap="round" />
<path d="M103.6 316.2L89.6 340.0" fill="none" stroke="#2b2b2b" stroke-width="0.85" stroke-linejoin="round" stroke-linecap="round" />
<path d="M99.4 314.8L86.8 337.2" fill="none" stroke="#2b2b2b" stroke-width="0.85" stroke-linejoin="round" stroke-linecap="round" />
<path d="M117.6 319.0C116.5 320.7 112.5 326.0 110.6 328.8C108.7 331.6 107.1 334.7 106.4 335.8" fill="none" stroke="#2b2b2b" stroke-width="0.85" stroke-linecap="round" />
<path d="M120.4 320.4L113.4 331.6" fill="none" stroke="#2b2b2b" stroke-width="0.85" stroke-linejoin="round" stroke-linecap="round" />
<path d="M84.0 306.4C86.3 306.2 94.7 304.1 98.0 305.0C101.3 305.9 102.7 310.8 103.6 312.0" fill="none" stroke="#2b2b2b" stroke-width="0.85" stroke-linecap="round" />
<path d="M81.2 312.0L95.2 310.6" fill="none" stroke="#2b2b2b" stroke-width="0.85" stroke-linecap="round" />
<path d="M70.0 295.2C72.3 295.4 79.3 296.1 84.0 296.6C88.7 297.1 94.5 298.5 98.0 298.0C101.5 297.5 103.8 294.5 105.0 293.8" fill="none" stroke="#2b2b2b" stroke-width="0.85" stroke-linecap="round" />
<path d="M70.0 299.4C72.8 299.6 81.9 300.3 86.8 300.8C91.7 301.3 97.3 302.0 99.4 302.2" fill="none" stroke="#2b2b2b" stroke-width="0.85" stroke-linecap="round" />
<path d="M117.6 279.8C119.5 278.9 125.8 275.8 128.8 274.2C131.9 272.6 134.7 270.7 135.8 270.0" fill="none" stroke="#2b2b2b" stroke-width="0.85" stroke-linecap="round" />
<path d="M119.0 285.4L131.6 278.4" fill="none" stroke="#2b2b2b" stroke-width="0.85" stroke-linejoin="round" stroke-linecap="round" />
<path d="M126.0 295.2L135.8 285.4" fill="none" stroke="#2b2b2b" stroke-width="0.85" stroke-linejoin="round" stroke-linecap="round" />
<ellipse cx="125.3" cy="307.8" rx="7.7" ry="11.9" transform="rotate(25 125.3 307.8)" fill="#fff" stroke="#2b2b2b" stroke-width="0.95"/>
<ellipse cx="124.8" cy="308.1" rx="5.6" ry="9.1" transform="rotate(25 125.3 307.8)" fill="none" stroke="#2b2b2b" stroke-width="0.85"/>
<ellipse cx="124.4" cy="308.4" rx="3.9" ry="6.7" transform="rotate(25 125.3 307.8)" fill="none" stroke="#2b2b2b" stroke-width="0.8"/>
<ellipse cx="124.1" cy="308.6" rx="2.8" ry="5.2" transform="rotate(25 125.3 307.8)" fill="none" stroke="#2b2b2b" stroke-width="0.7"/>
<line x1="110.00" y1="226.50" x2="155.50" y2="263.70" stroke="#000" stroke-width="1.25" />
<line x1="158.50" y1="266.00" x2="186.60" y2="282.10" stroke="#000" stroke-width="1.25" stroke-dasharray="1.5 2 40"/>
<path d="M350.9 355.2L372.4 367.7L374.6 364.1L353.1 351.6Z" fill="#fff" stroke="#000" stroke-width="0.9" stroke-linejoin="round"/>
<path d="M354.1 357.0L357.6 354.2M355.8 358.0L359.3 355.2M357.5 359.0L361.0 356.1M359.1 359.9L362.6 357.1M360.8 360.9L364.3 358.1M362.5 361.9L366.0 359.1M364.2 362.9L367.7 360.1M365.9 363.9L369.4 361.1M367.5 364.9L371.0 362.0M369.2 365.8L372.7 363.0M370.9 366.8L374.4 364.0" fill="none" stroke="#000" stroke-width="0.9" />
<path d="M374.53 366.51A1.20 2.10 30.80 0 0 374.58 364.10A1.20 2.10 30.80 0 0 372.47 365.29A1.20 2.10 30.80 0 0 372.42 367.70A1.20 2.10 30.80 0 0 374.53 366.51Z" fill="#fff" stroke="#000" stroke-width="0.8" />
<path d="M355.28 355.85A4.40 7.60 30.80 0 0 355.39 347.07A4.40 7.60 30.80 0 0 347.72 351.35A4.40 7.60 30.80 0 0 347.61 360.13A4.40 7.60 30.80 0 0 355.28 355.85Z" fill="#fff" stroke="#000" stroke-width="1.3" />
<path d="M353.98 355.15A4.40 7.60 30.80 0 0 354.09 346.37A4.40 7.60 30.80 0 0 346.42 350.65A4.40 7.60 30.80 0 0 346.31 359.43A4.40 7.60 30.80 0 0 353.98 355.15Z" fill="#fff" stroke="#000" stroke-width="1.2" />
<path d="M351.52 353.74A3.40 5.80 30.80 0 0 351.57 347.02A3.40 5.80 30.80 0 0 345.68 350.26A3.40 5.80 30.80 0 0 345.63 356.98A3.40 5.80 30.80 0 0 351.52 353.74Z" fill="#fff" stroke="#000" stroke-width="1.2" />
<path d="M348.92 352.24A3.40 5.80 30.80 0 0 348.97 345.52A3.40 5.80 30.80 0 0 343.08 348.76A3.40 5.80 30.80 0 0 343.03 355.48A3.40 5.80 30.80 0 0 348.92 352.24Z" fill="#fff" stroke="#000" stroke-width="1.3" />
<path d="M347.72 351.52A2.00 3.40 30.80 0 0 347.74 347.58A2.00 3.40 30.80 0 0 344.28 349.48A2.00 3.40 30.80 0 0 344.26 353.42A2.00 3.40 30.80 0 0 347.72 351.52Z" fill="#fff" stroke="#000" stroke-width="1.0" />
<path d="M388.89 378.24A3.60 7.60 30.80 0 0 389.69 369.87A3.60 7.60 30.80 0 0 382.71 374.56A3.60 7.60 30.80 0 0 381.91 382.93A3.60 7.60 30.80 0 0 388.89 378.24Z" fill="#fff" stroke="#000" stroke-width="2.0" />
<path d="M388.89 378.24A3.60 7.60 30.80 0 0 389.69 369.87A3.60 7.60 30.80 0 0 382.71 374.56A3.60 7.60 30.80 0 0 381.91 382.93A3.60 7.60 30.80 0 0 388.89 378.24Z" fill="none" stroke="#bbb" stroke-width="0.5" />
<path d="M392.34 379.73A3.60 7.60 30.80 0 0 393.14 371.36A3.60 7.60 30.80 0 0 386.15 376.05A3.60 7.60 30.80 0 0 385.35 384.42A3.60 7.60 30.80 0 0 392.34 379.73Z" fill="#fff" stroke="#000" stroke-width="2.0" />
<path d="M392.34 379.73A3.60 7.60 30.80 0 0 393.14 371.36A3.60 7.60 30.80 0 0 386.15 376.05A3.60 7.60 30.80 0 0 385.35 384.42A3.60 7.60 30.80 0 0 392.34 379.73Z" fill="none" stroke="#bbb" stroke-width="0.5" />
<path d="M395.78 381.22A3.60 7.60 30.80 0 0 396.58 372.85A3.60 7.60 30.80 0 0 389.60 377.53A3.60 7.60 30.80 0 0 388.80 385.91A3.60 7.60 30.80 0 0 395.78 381.22Z" fill="#fff" stroke="#000" stroke-width="2.0" />
<path d="M395.78 381.22A3.60 7.60 30.80 0 0 396.58 372.85A3.60 7.60 30.80 0 0 389.60 377.53A3.60 7.60 30.80 0 0 388.80 385.91A3.60 7.60 30.80 0 0 395.78 381.22Z" fill="none" stroke="#bbb" stroke-width="0.5" />
<path d="M399.23 382.71A3.60 7.60 30.80 0 0 400.02 374.34A3.60 7.60 30.80 0 0 393.04 379.02A3.60 7.60 30.80 0 0 392.24 387.39A3.60 7.60 30.80 0 0 399.23 382.71Z" fill="#fff" stroke="#000" stroke-width="2.0" />
<path d="M399.23 382.71A3.60 7.60 30.80 0 0 400.02 374.34A3.60 7.60 30.80 0 0 393.04 379.02A3.60 7.60 30.80 0 0 392.24 387.39A3.60 7.60 30.80 0 0 399.23 382.71Z" fill="none" stroke="#bbb" stroke-width="0.5" />
<path d="M402.67 384.20A3.60 7.60 30.80 0 0 403.47 375.83A3.60 7.60 30.80 0 0 396.49 380.51A3.60 7.60 30.80 0 0 395.69 388.88A3.60 7.60 30.80 0 0 402.67 384.20Z" fill="#fff" stroke="#000" stroke-width="2.0" />
<path d="M402.67 384.20A3.60 7.60 30.80 0 0 403.47 375.83A3.60 7.60 30.80 0 0 396.49 380.51A3.60 7.60 30.80 0 0 395.69 388.88A3.60 7.60 30.80 0 0 402.67 384.20Z" fill="none" stroke="#bbb" stroke-width="0.5" />
<path d="M406.11 385.69A3.60 7.60 30.80 0 0 406.91 377.32A3.60 7.60 30.80 0 0 399.93 382.00A3.60 7.60 30.80 0 0 399.13 390.37A3.60 7.60 30.80 0 0 406.11 385.69Z" fill="#fff" stroke="#000" stroke-width="2.0" />
<path d="M406.11 385.69A3.60 7.60 30.80 0 0 406.91 377.32A3.60 7.60 30.80 0 0 399.93 382.00A3.60 7.60 30.80 0 0 399.13 390.37A3.60 7.60 30.80 0 0 406.11 385.69Z" fill="none" stroke="#bbb" stroke-width="0.5" />
<path d="M409.56 387.18A3.60 7.60 30.80 0 0 410.36 378.81A3.60 7.60 30.80 0 0 403.37 383.49A3.60 7.60 30.80 0 0 402.58 391.86A3.60 7.60 30.80 0 0 409.56 387.18Z" fill="#fff" stroke="#000" stroke-width="2.0" />
<path d="M409.56 387.18A3.60 7.60 30.80 0 0 410.36 378.81A3.60 7.60 30.80 0 0 403.37 383.49A3.60 7.60 30.80 0 0 402.58 391.86A3.60 7.60 30.80 0 0 409.56 387.18Z" fill="none" stroke="#bbb" stroke-width="0.5" />
<path d="M413.00 388.67A3.60 7.60 30.80 0 0 413.80 380.29A3.60 7.60 30.80 0 0 406.82 384.98A3.60 7.60 30.80 0 0 406.02 393.35A3.60 7.60 30.80 0 0 413.00 388.67Z" fill="#fff" stroke="#000" stroke-width="2.0" />
<path d="M413.00 388.67A3.60 7.60 30.80 0 0 413.80 380.29A3.60 7.60 30.80 0 0 406.82 384.98A3.60 7.60 30.80 0 0 406.02 393.35A3.60 7.60 30.80 0 0 413.00 388.67Z" fill="none" stroke="#bbb" stroke-width="0.5" />
<path d="M416.45 390.15A3.60 7.60 30.80 0 0 417.25 381.78A3.60 7.60 30.80 0 0 410.26 386.47A3.60 7.60 30.80 0 0 409.46 394.84A3.60 7.60 30.80 0 0 416.45 390.15Z" fill="#fff" stroke="#000" stroke-width="2.0" />
<path d="M416.45 390.15A3.60 7.60 30.80 0 0 417.25 381.78A3.60 7.60 30.80 0 0 410.26 386.47A3.60 7.60 30.80 0 0 409.46 394.84A3.60 7.60 30.80 0 0 416.45 390.15Z" fill="none" stroke="#bbb" stroke-width="0.5" />
<path d="M419.89 391.64A3.60 7.60 30.80 0 0 420.69 383.27A3.60 7.60 30.80 0 0 413.71 387.96A3.60 7.60 30.80 0 0 412.91 396.33A3.60 7.60 30.80 0 0 419.89 391.64Z" fill="#fff" stroke="#000" stroke-width="2.0" />
<path d="M419.89 391.64A3.60 7.60 30.80 0 0 420.69 383.27A3.60 7.60 30.80 0 0 413.71 387.96A3.60 7.60 30.80 0 0 412.91 396.33A3.60 7.60 30.80 0 0 419.89 391.64Z" fill="none" stroke="#bbb" stroke-width="0.5" />
<path d="M419.66 391.43A2.40 4.40 30.80 0 0 419.85 386.42A2.40 4.40 30.80 0 0 415.54 388.97A2.40 4.40 30.80 0 0 415.35 393.98A2.40 4.40 30.80 0 0 419.66 391.43Z" fill="#fff" stroke="#000" stroke-width="1.4" />
<line x1="419.50" y1="391.20" x2="445.00" y2="406.50" stroke="#000" stroke-width="1.2" />
<path d="M493.20 457.01A34.00 56.00 30.80 0 0 492.67 391.50A34.00 56.00 30.80 0 0 434.80 422.19A34.00 56.00 30.80 0 0 435.33 487.70A34.00 56.00 30.80 0 0 493.20 457.01Z" fill="#fff" stroke="#000" stroke-width="1.1" />
<path d="M493.42 457.14A32.50 54.50 30.80 0 0 493.41 393.69A32.50 54.50 30.80 0 0 437.58 423.86A32.50 54.50 30.80 0 0 437.59 487.31A32.50 54.50 30.80 0 0 493.42 457.14Z" fill="#fff" stroke="#000" stroke-width="1.0" />
<path d="M492.34 456.51A29.50 50.00 30.80 0 0 492.60 398.45A29.50 50.00 30.80 0 0 441.66 426.29A29.50 50.00 30.80 0 0 441.40 484.35A29.50 50.00 30.80 0 0 492.34 456.51Z" fill="#fff" stroke="#000" stroke-width="0.9" />
<path d="M489.4 454.8L490.0 453.8L490.6 452.8L491.1 451.9L491.6 450.9L490.3 449.3L490.7 448.4L491.1 447.4L491.5 446.5L491.9 445.6L494.4 444.9L494.8 443.9L495.1 442.8L495.5 441.8L495.8 440.8L494.0 440.0L494.3 439.0L494.5 438.1L494.8 437.2L495.0 436.2L497.5 434.8L497.7 433.8L497.9 432.8L498.0 431.8L498.2 430.8L496.0 430.8L496.1 429.9L496.1 429.0L496.2 428.1L496.2 427.3L498.6 425.1L498.6 424.2L498.6 423.3L498.5 422.4L498.5 421.6L496.0 422.4L495.9 421.6L495.8 420.8L495.7 420.1L495.5 419.3L497.6 416.7L497.4 415.9L497.2 415.2L496.9 414.4L496.7 413.7L494.2 415.3L493.9 414.7L493.6 414.1L493.3 413.5L492.9 412.9L494.6 409.9L494.2 409.4L493.8 408.8L493.4 408.3L492.9 407.8L490.6 410.0L490.1 409.6L489.6 409.2L489.2 408.9L488.7 408.5L489.8 405.4L489.3 405.1L488.7 404.8L488.1 404.5L487.5 404.2L485.4 406.9L484.8 406.8L484.2 406.6L483.6 406.5L483.0 406.4L483.5 403.3L482.8 403.3L482.1 403.2L481.4 403.2L480.7 403.2L479.0 406.3L478.4 406.3L477.7 406.4L477.0 406.5L476.3 406.7L476.2 403.9L475.4 404.1L474.6 404.3L473.9 404.6L473.1 404.9L471.9 408.0L471.2 408.3L470.5 408.6L469.7 409.0L469.0 409.4L468.3 407.1L467.5 407.5L466.7 408.0L465.9 408.5L465.1 409.0L464.6 412.1L463.8 412.6L463.1 413.1L462.4 413.7L461.7 414.3L460.3 412.6L459.6 413.3L458.8 414.0L458.0 414.7L457.3 415.4L457.4 418.2L456.7 418.9L456.1 419.6L455.4 420.3L454.7 421.1L452.9 420.2L452.2 421.0L451.6 421.9L450.9 422.8L450.2 423.6L451.0 425.9L450.4 426.7L449.9 427.6L449.3 428.4L448.7 429.3L446.6 429.2L446.0 430.2L445.4 431.2L444.9 432.1L444.4 433.1L445.7 434.7L445.3 435.6L444.9 436.6L444.5 437.5L444.1 438.4L441.6 439.1L441.2 440.1L440.9 441.2L440.5 442.2L440.2 443.2L442.0 444.0L441.7 445.0L441.5 445.9L441.2 446.8L441.0 447.8L438.5 449.2L438.3 450.2L438.1 451.2L438.0 452.2L437.8 453.2L440.0 453.2L439.9 454.1L439.9 455.0L439.8 455.9L439.8 456.7L437.4 458.9L437.4 459.8L437.4 460.7L437.5 461.6L437.5 462.4L440.0 461.6L440.1 462.4L440.2 463.2L440.3 463.9L440.5 464.7L438.4 467.3L438.6 468.1L438.8 468.8L439.1 469.6L439.3 470.3L441.8 468.7L442.1 469.3L442.4 469.9L442.7 470.5L443.1 471.1L441.4 474.1L441.8 474.6L442.2 475.2L442.6 475.7L443.1 476.2L445.4 474.0L445.9 474.4L446.4 474.8L446.8 475.1L447.3 475.5L446.2 478.6L446.7 478.9L447.3 479.2L447.9 479.5L448.5 479.8L450.6 477.1L451.2 477.2L451.8 477.4L452.4 477.5L453.0 477.6L452.5 480.7L453.2 480.7L453.9 480.8L454.6 480.8L455.3 480.8L457.0 477.7L457.6 477.7L458.3 477.6L459.0 477.5L459.7 477.3L459.8 480.1L460.6 479.9L461.4 479.7L462.1 479.4L462.9 479.1L464.1 476.0L464.8 475.7L465.5 475.4L466.3 475.0L467.0 474.6L467.7 476.9L468.5 476.5L469.3 476.0L470.1 475.5L470.9 475.0L471.4 471.9L472.2 471.4L472.9 470.9L473.6 470.3L474.3 469.7L475.7 471.4L476.4 470.7L477.2 470.0L478.0 469.3L478.7 468.6L478.6 465.8L479.3 465.1L479.9 464.4L480.6 463.7L481.3 462.9L483.1 463.8L483.8 463.0L484.4 462.1L485.1 461.2L485.8 460.4L485.0 458.1L485.6 457.3L486.1 456.4L486.7 455.6L487.3 454.7L489.4 454.8Z" fill="none" stroke="#000" stroke-width="0.9" />
<path d="M490.26 455.27A26.50 45.50 30.80 0 0 490.80 402.62A26.50 45.50 30.80 0 0 444.74 428.13A26.50 45.50 30.80 0 0 444.20 480.78A26.50 45.50 30.80 0 0 490.26 455.27Z" fill="none" stroke="#000" stroke-width="0.8" />
<path d="M470.0 436.0L489.0 447.0" fill="none" stroke="#000" stroke-width="1.0" />
<path d="M468.0 441.0L486.0 451.5" fill="none" stroke="#000" stroke-width="1.0" />
<path d="M489.69 423.16A6.30 8.40 30.80 0 0 488.58 412.72A6.30 8.40 30.80 0 0 478.86 416.71A6.30 8.40 30.80 0 0 479.97 427.15A6.30 8.40 30.80 0 0 489.69 423.16Z" fill="#fff" stroke="#000" stroke-width="1.0" />
<path d="M488.6 412.7L500.6 419.9L492.0 434.3L480.0 427.1Z" fill="#fff" stroke="none" stroke-width="0" />
<path d="M488.6 412.7L500.6 419.9" fill="none" stroke="#000" stroke-width="1.0" />
<path d="M480.0 427.1L492.0 434.3" fill="none" stroke="#000" stroke-width="1.0" />
<path d="M501.71 430.33A6.30 8.40 30.80 0 0 500.60 419.88A6.30 8.40 30.80 0 0 490.89 423.87A6.30 8.40 30.80 0 0 492.00 434.32A6.30 8.40 30.80 0 0 501.71 430.33Z" fill="#fff" stroke="#000" stroke-width="1.1" />
<path d="M499.35 428.94A3.20 4.60 30.80 0 0 498.96 423.35A3.20 4.60 30.80 0 0 493.85 425.66A3.20 4.60 30.80 0 0 494.24 431.25A3.20 4.60 30.80 0 0 499.35 428.94Z" fill="#fff" stroke="#000" stroke-width="1.0" />
<path d="M472.19 423.56A6.30 8.40 30.80 0 0 471.08 413.12A6.30 8.40 30.80 0 0 461.36 417.11A6.30 8.40 30.80 0 0 462.47 427.55A6.30 8.40 30.80 0 0 472.19 423.56Z" fill="#fff" stroke="#000" stroke-width="1.0" />
<path d="M471.1 413.1L483.1 420.3L474.5 434.7L462.5 427.5Z" fill="#fff" stroke="none" stroke-width="0" />
<path d="M471.1 413.1L483.1 420.3" fill="none" stroke="#000" stroke-width="1.0" />
<path d="M462.5 427.5L474.5 434.7" fill="none" stroke="#000" stroke-width="1.0" />
<path d="M484.21 430.73A6.30 8.40 30.80 0 0 483.10 420.28A6.30 8.40 30.80 0 0 473.39 424.27A6.30 8.40 30.80 0 0 474.50 434.72A6.30 8.40 30.80 0 0 484.21 430.73Z" fill="#fff" stroke="#000" stroke-width="1.1" />
<path d="M481.85 429.34A3.20 4.60 30.80 0 0 481.46 423.75A3.20 4.60 30.80 0 0 476.35 426.06A3.20 4.60 30.80 0 0 476.74 431.65A3.20 4.60 30.80 0 0 481.85 429.34Z" fill="#fff" stroke="#000" stroke-width="1.0" />
<path d="M491.19 444.36A6.30 8.40 30.80 0 0 490.08 433.92A6.30 8.40 30.80 0 0 480.36 437.91A6.30 8.40 30.80 0 0 481.47 448.35A6.30 8.40 30.80 0 0 491.19 444.36Z" fill="#fff" stroke="#000" stroke-width="1.0" />
<path d="M490.1 433.9L502.1 441.1L493.5 455.5L481.5 448.3Z" fill="#fff" stroke="none" stroke-width="0" />
<path d="M490.1 433.9L502.1 441.1" fill="none" stroke="#000" stroke-width="1.0" />
<path d="M481.5 448.3L493.5 455.5" fill="none" stroke="#000" stroke-width="1.0" />
<path d="M503.21 451.53A6.30 8.40 30.80 0 0 502.10 441.08A6.30 8.40 30.80 0 0 492.39 445.07A6.30 8.40 30.80 0 0 493.50 455.52A6.30 8.40 30.80 0 0 503.21 451.53Z" fill="#fff" stroke="#000" stroke-width="1.1" />
<path d="M500.85 450.14A3.20 4.60 30.80 0 0 500.46 444.55A3.20 4.60 30.80 0 0 495.35 446.86A3.20 4.60 30.80 0 0 495.74 452.45A3.20 4.60 30.80 0 0 500.85 450.14Z" fill="#fff" stroke="#000" stroke-width="1.0" />
<path d="M456.49 445.06A6.30 8.40 30.80 0 0 455.38 434.62A6.30 8.40 30.80 0 0 445.66 438.61A6.30 8.40 30.80 0 0 446.77 449.05A6.30 8.40 30.80 0 0 456.49 445.06Z" fill="#fff" stroke="#000" stroke-width="1.0" />
<path d="M455.4 434.6L467.4 441.8L458.8 456.2L446.8 449.0Z" fill="#fff" stroke="none" stroke-width="0" />
<path d="M455.4 434.6L467.4 441.8" fill="none" stroke="#000" stroke-width="1.0" />
<path d="M446.8 449.0L458.8 456.2" fill="none" stroke="#000" stroke-width="1.0" />
<path d="M468.51 452.23A6.30 8.40 30.80 0 0 467.40 441.78A6.30 8.40 30.80 0 0 457.69 445.77A6.30 8.40 30.80 0 0 458.80 456.22A6.30 8.40 30.80 0 0 468.51 452.23Z" fill="#fff" stroke="#000" stroke-width="1.1" />
<path d="M466.15 450.84A3.20 4.60 30.80 0 0 465.76 445.25A3.20 4.60 30.80 0 0 460.65 447.56A3.20 4.60 30.80 0 0 461.04 453.15A3.20 4.60 30.80 0 0 466.15 450.84Z" fill="#fff" stroke="#000" stroke-width="1.0" />
<path d="M473.99 467.46A6.30 8.40 30.80 0 0 472.88 457.02A6.30 8.40 30.80 0 0 463.16 461.01A6.30 8.40 30.80 0 0 464.27 471.45A6.30 8.40 30.80 0 0 473.99 467.46Z" fill="#fff" stroke="#000" stroke-width="1.0" />
<path d="M472.9 457.0L484.9 464.2L476.3 478.6L464.3 471.4Z" fill="#fff" stroke="none" stroke-width="0" />
<path d="M472.9 457.0L484.9 464.2" fill="none" stroke="#000" stroke-width="1.0" />
<path d="M464.3 471.4L476.3 478.6" fill="none" stroke="#000" stroke-width="1.0" />
<path d="M486.01 474.63A6.30 8.40 30.80 0 0 484.90 464.18A6.30 8.40 30.80 0 0 475.19 468.17A6.30 8.40 30.80 0 0 476.30 478.62A6.30 8.40 30.80 0 0 486.01 474.63Z" fill="#fff" stroke="#000" stroke-width="1.1" />
<path d="M483.65 473.24A3.20 4.60 30.80 0 0 483.26 467.65A3.20 4.60 30.80 0 0 478.15 469.96A3.20 4.60 30.80 0 0 478.54 475.55A3.20 4.60 30.80 0 0 483.65 473.24Z" fill="#fff" stroke="#000" stroke-width="1.0" />
<path d="M456.49 466.86A6.30 8.40 30.80 0 0 455.38 456.42A6.30 8.40 30.80 0 0 445.66 460.41A6.30 8.40 30.80 0 0 446.77 470.85A6.30 8.40 30.80 0 0 456.49 466.86Z" fill="#fff" stroke="#000" stroke-width="1.0" />
<path d="M455.4 456.4L467.4 463.6L458.8 478.0L446.8 470.8Z" fill="#fff" stroke="none" stroke-width="0" />
<path d="M455.4 456.4L467.4 463.6" fill="none" stroke="#000" stroke-width="1.0" />
<path d="M446.8 470.8L458.8 478.0" fill="none" stroke="#000" stroke-width="1.0" />
<path d="M468.51 474.03A6.30 8.40 30.80 0 0 467.40 463.58A6.30 8.40 30.80 0 0 457.69 467.57A6.30 8.40 30.80 0 0 458.80 478.02A6.30 8.40 30.80 0 0 468.51 474.03Z" fill="#fff" stroke="#000" stroke-width="1.1" />
<path d="M466.15 472.64A3.20 4.60 30.80 0 0 465.76 467.05A3.20 4.60 30.80 0 0 460.65 469.36A3.20 4.60 30.80 0 0 461.04 474.95A3.20 4.60 30.80 0 0 466.15 472.64Z" fill="#fff" stroke="#000" stroke-width="1.0" />
<line x1="470.50" y1="443.90" x2="500.50" y2="461.20" stroke="#000" stroke-width="1.2" />
<path d="M481.0 455.0L485.0 459.0L481.0 461.0L485.0 455.0" fill="none" stroke="#000" stroke-width="0.9" />
<path d="M514.83 469.47A6.20 9.60 30.80 0 0 514.42 458.05A6.20 9.60 30.80 0 0 504.17 463.13A6.20 9.60 30.80 0 0 504.58 474.55A6.20 9.60 30.80 0 0 514.83 469.47Z" fill="#fff" stroke="#000" stroke-width="1.1" />
<path d="M514.4 458.1L517.4 459.9L507.6 476.3L504.6 474.5Z" fill="#fff" stroke="#000" stroke-width="1.0" />
<path d="M517.83 471.27A6.20 9.60 30.80 0 0 517.42 459.85A6.20 9.60 30.80 0 0 507.17 464.93A6.20 9.60 30.80 0 0 507.58 476.35A6.20 9.60 30.80 0 0 517.83 471.27Z" fill="#fff" stroke="#000" stroke-width="1.2" />
<path d="M515.99 470.14A3.60 6.00 30.80 0 0 515.97 463.15A3.60 6.00 30.80 0 0 509.81 466.46A3.60 6.00 30.80 0 0 509.83 473.45A3.60 6.00 30.80 0 0 515.99 470.14Z" fill="#fff" stroke="#000" stroke-width="2.7" />
<path d="M519.6 476.1L535.6 484.8L538.4 479.8L522.4 471.1Z" fill="#fff" stroke="#000" stroke-width="1.0" stroke-linejoin="round"/>
<path d="M519.8 476.2L523.9 471.9M521.4 477.1L525.6 472.8M523.1 478.0L527.2 473.7M524.8 478.9L528.9 474.6M526.4 479.8L530.6 475.5M528.1 480.7L532.2 476.4" fill="none" stroke="#000" stroke-width="1.0" />
<path d="M522.29 474.37A1.50 2.90 30.80 0 0 522.48 471.11A1.50 2.90 30.80 0 0 519.71 472.83A1.50 2.90 30.80 0 0 519.52 476.09A1.50 2.90 30.80 0 0 522.29 474.37Z" fill="#fff" stroke="#000" stroke-width="0.9" />
<path d="M542.12 484.86A4.80 8.00 30.80 0 0 542.10 475.53A4.80 8.00 30.80 0 0 533.88 479.94A4.80 8.00 30.80 0 0 533.90 489.27A4.80 8.00 30.80 0 0 542.12 484.86Z" fill="#fff" stroke="#000" stroke-width="1.0" />
<path d="M542.1 475.5L545.6 477.5L537.4 491.3L533.9 489.3Z" fill="#fff" stroke="#000" stroke-width="0.9" />
<path d="M545.62 486.86A4.80 8.00 30.80 0 0 545.60 477.53A4.80 8.00 30.80 0 0 537.38 481.94A4.80 8.00 30.80 0 0 537.40 491.27A4.80 8.00 30.80 0 0 545.62 486.86Z" fill="#fff" stroke="#000" stroke-width="1.1" />
<ellipse cx="622.8" cy="392.6" rx="6.2" ry="3.6" transform="rotate(8 622.8 392.6)" fill="#fff" stroke="#000" stroke-width="1.1"/>
<ellipse cx="622.8" cy="391.4" rx="6.2" ry="3.6" transform="rotate(8 622.8 391.4)" fill="#fff" stroke="#000" stroke-width="1.1"/>
<ellipse cx="623.5" cy="391.6" rx="3.4" ry="1.7" transform="rotate(8 623.5 391.6)" fill="#fff" stroke="#000" stroke-width="1.6"/>
<path d="M616.8 389.5L618.0 386.2L621.0 385.6" fill="none" stroke="#000" stroke-width="1.1" />
<ellipse cx="619.9" cy="405.3" rx="7.2" ry="4.0" transform="rotate(10 619.9 405.3)" fill="#fff" stroke="#000" stroke-width="1.1"/>
<ellipse cx="619.9" cy="404.3" rx="7.2" ry="4.0" transform="rotate(10 619.9 404.3)" fill="#fff" stroke="#000" stroke-width="1.1"/>
<ellipse cx="620.2" cy="404.4" rx="3.9" ry="2.0" transform="rotate(10 620.2 404.4)" fill="#fff" stroke="#000" stroke-width="1.8"/>
<path d="M565.6 397.5L567.9 393.6L574.0 393.6L580.8 396.4L588.6 397.5L591.4 400.9L590.9 404.8L598.1 407.9L610.5 417.1L608.2 424.4L593.1 413.8L589.7 412.7L588.6 409.5L584.1 408.7L577.4 405.9L569.6 402.0Z" fill="#fff" stroke="#000" stroke-width="1.0" stroke-linejoin="round" stroke-linecap="round"/>
<path d="M565.6 395.7L567.9 391.8L574.0 391.8L580.8 394.6L588.6 395.7L591.4 399.1L590.9 403.0L598.1 406.1L610.5 415.3L608.2 422.6L593.1 412.0L589.7 410.9L588.6 407.7L584.1 406.9L577.4 404.1L569.6 400.2Z" fill="#fff" stroke="#000" stroke-width="1.0" stroke-linejoin="round" stroke-linecap="round"/>
<path d="M568.4 395.7L574.0 394.6L580.2 398.0L579.1 400.2L572.9 399.1Z" fill="none" stroke="#000" stroke-width="0.9" stroke-linejoin="round" stroke-linecap="round"/>
<path d="M590.9 403.0L588.6 407.7" fill="none" stroke="#000" stroke-width="0.9" stroke-linejoin="round" stroke-linecap="round"/>
<path d="M598.1 406.1L593.1 412.0" fill="none" stroke="#000" stroke-width="0.9" stroke-linejoin="round" stroke-linecap="round"/>
<path d="M567.3 392.4L572.9 389.0L579.6 390.7L580.5 393.5" fill="none" stroke="#000" stroke-width="1.0" stroke-linejoin="round" stroke-linecap="round"/>
<ellipse cx="586.1" cy="398.0" rx="3.4" ry="1.4" transform="rotate(15 586.1 398.0)" fill="#fff" stroke="#000" stroke-width="0.9"/>
<path d="M581.9 396.3L583.0 395.2L589.7 396.8L591.1 399.1" fill="none" stroke="#000" stroke-width="0.9" stroke-linejoin="round" stroke-linecap="round"/>
<path d="M562.8 386.8L569.3 387.3" fill="none" stroke="#000" stroke-width="2.4" stroke-linejoin="round" stroke-linecap="round"/>
<path d="M569.3 387.3L575.2 389.3L581.0 392.0" fill="none" stroke="#000" stroke-width="1.5" stroke-linejoin="round" stroke-linecap="round"/>
<ellipse cx="616.1" cy="422.0" rx="7.4" ry="4.8" transform="rotate(12 616.1 422.0)" fill="#fff" stroke="#000" stroke-width="1.1"/>
<ellipse cx="616.1" cy="419.6" rx="7.4" ry="4.8" transform="rotate(12 616.1 419.6)" fill="#fff" stroke="#000" stroke-width="1.1"/>
<ellipse cx="616.3" cy="419.3" rx="4.2" ry="2.4" transform="rotate(12 616.3 419.3)" fill="#fff" stroke="#000" stroke-width="1.9"/>
<ellipse cx="616.3" cy="419.3" rx="2.2" ry="1.1" transform="rotate(12 616.3 419.3)" fill="#fff" stroke="#000" stroke-width="0.8"/>
<path d="M594.8 423.5L598.5 424.0L600.2 428.5L603.5 433.5" fill="none" stroke="#000" stroke-width="0.9" />
<path d="M604.0 441.5L598.0 442.8L595.2 441.6L596.0 439.8" fill="none" stroke="#000" stroke-width="0.9" />
<ellipse cx="610.2" cy="443.2" rx="6.0" ry="3.3" transform="rotate(10 610.2 443.2)" fill="#fff" stroke="#111" stroke-width="1.15"/>
<ellipse cx="610.2" cy="441.4" rx="6.0" ry="3.3" transform="rotate(10 610.2 441.4)" fill="#fff" stroke="#111" stroke-width="1.15"/>
<ellipse cx="610.2" cy="439.6" rx="6.0" ry="3.3" transform="rotate(10 610.2 439.6)" fill="#fff" stroke="#111" stroke-width="1.15"/>
<ellipse cx="610.2" cy="437.8" rx="6.0" ry="3.3" transform="rotate(10 610.2 437.8)" fill="#fff" stroke="#111" stroke-width="1.15"/>
<ellipse cx="610.6" cy="437.6" rx="3.4" ry="1.7" transform="rotate(10 610.6 437.6)" fill="#ddd" stroke="#111" stroke-width="0.8"/>
<path d="M593.5 485.8L580.8 537.5L589.2 539.5L601.9 487.8Z" fill="#fff" stroke="#000" stroke-width="0.0" stroke-linejoin="round"/>
<line x1="593.51" y1="485.77" x2="580.82" y2="537.47" stroke="#000" stroke-width="1.0" stroke-dasharray="17 2 1.5 2 11 2 1.5 2 20"/>
<line x1="601.87" y1="487.83" x2="589.18" y2="539.53" stroke="#000" stroke-width="1.0" stroke-dasharray="17 2 1.5 2 11 2 1.5 2 20"/>
<path d="M578.0 536.8L575.2 548.3L589.2 551.8L592.0 540.2Z" fill="#fff" stroke="#000" stroke-width="1.0" stroke-linejoin="round"/>
<ellipse cx="582.2" cy="550.0" rx="7.2" ry="2.6" transform="rotate(14 582.2 550.0)" fill="#fff" stroke="#000" stroke-width="1.0"/>
<path d="M576.9 542.1L590.1 547.0" fill="none" stroke="#000" stroke-width="0.1" />
<path d="M590.7 541.7L588.4 551.0M588.7 541.2L586.4 550.5M586.6 540.7L584.3 550.0M584.6 540.1L582.3 549.5M582.6 539.6L580.3 549.0M580.5 539.1L578.2 548.5M578.5 538.6L576.2 548.0" fill="none" stroke="#000" stroke-width="0.9" />
<ellipse cx="585.0" cy="538.5" rx="7.4" ry="2.8" transform="rotate(14 585.0 538.5)" fill="#fff" stroke="#000" stroke-width="1.0"/>
<path d="M577.0 550.0L576.0 554.4L585.7 556.7L586.8 552.3Z" fill="#fff" stroke="#000" stroke-width="1.0" stroke-linejoin="round"/>
<path d="M577.7 554.8L576.6 559.2L582.8 560.7L583.9 556.3Z" fill="#fff" stroke="#000" stroke-width="0.9" stroke-linejoin="round"/>
<path d="M577.7 554.7L583.6 557.8M577.4 556.2L583.2 559.3M577.0 557.7L582.8 560.8" fill="none" stroke="#000" stroke-width="0.9" />
<ellipse cx="579.7" cy="560.0" rx="3.2" ry="1.3" transform="rotate(14 579.7 560.0)" fill="#fff" stroke="#000" stroke-width="0.9"/>
<path d="M591.2 470.6L587.8 484.4L607.6 489.2L611.0 475.5Z" fill="#fff" stroke="#000" stroke-width="1.0" stroke-linejoin="round"/>
<ellipse cx="597.7" cy="486.8" rx="10.2" ry="3.6" transform="rotate(14 597.7 486.8)" fill="#fff" stroke="#000" stroke-width="1.0"/>
<ellipse cx="599.3" cy="480.2" rx="10.2" ry="3.6" transform="rotate(14 599.3 480.2)" fill="none" stroke="#000" stroke-width="0.8"/>
<ellipse cx="601.1" cy="473.1" rx="10.2" ry="3.6" transform="rotate(14 601.1 473.1)" fill="#fff" stroke="#000" stroke-width="1.0"/>
<path d="M595.9 466.5L594.4 472.6L607.2 475.7L608.7 469.7Z" fill="#fff" stroke="#000" stroke-width="1.0" stroke-linejoin="round"/>
<ellipse cx="602.3" cy="468.1" rx="6.6" ry="2.4" transform="rotate(14 602.3 468.1)" fill="#fff" stroke="#000" stroke-width="1.0"/>
<path d="M602.5 449.5L597.9 468.2L606.1 470.2L610.7 451.5Z" fill="#fff" stroke="#000" stroke-width="1.1" stroke-linejoin="round"/>
<path d="M609.0 453.4L605.3 468.3M607.5 453.1L603.9 467.9M606.1 452.7L602.4 467.6M604.6 452.3L601.0 467.2M603.1 452.0L599.5 466.8" fill="none" stroke="#000" stroke-width="1.0" />
<ellipse cx="606.6" cy="450.5" rx="4.2" ry="1.6" transform="rotate(14 606.6 450.5)" fill="#fff" stroke="#000" stroke-width="1.1"/>
<path d="M602.7 449.5L610.1 453.0M602.4 451.0L609.8 454.4M602.0 452.4L609.4 455.9" fill="none" stroke="#000" stroke-width="0.9" />
<path d="M140.7 728.3L137.3 717.4L126.2 719.6L118.4 732.6L121.8 743.5L133.0 741.3Z" fill="#fff" stroke="#000" stroke-width="1.0" stroke-linejoin="round"/>
<path d="M140.7 728.3L147.2 732.1" fill="none" stroke="#000" stroke-width="1.0" />
<path d="M137.3 717.4L143.8 721.2" fill="none" stroke="#000" stroke-width="1.0" />
<path d="M126.2 719.6L132.6 723.4" fill="none" stroke="#000" stroke-width="1.0" />
<path d="M118.4 732.6L124.8 736.5" fill="none" stroke="#000" stroke-width="1.0" />
<path d="M121.8 743.5L128.2 747.4" fill="none" stroke="#000" stroke-width="1.0" />
<path d="M133.0 741.3L139.4 745.2" fill="none" stroke="#000" stroke-width="1.0" />
<path d="M147.2 732.1L143.8 721.2L132.6 723.4L124.8 736.5L128.2 747.4L139.4 745.2Z" fill="#fff" stroke="#000" stroke-width="1.1" stroke-linejoin="round"/>
<path d="M142.27 738.04A7.30 11.60 30.80 0 0 141.94 724.34A7.30 11.60 30.80 0 0 129.73 730.56A7.30 11.60 30.80 0 0 130.06 744.26A7.30 11.60 30.80 0 0 142.27 738.04Z" fill="#fff" stroke="#000" stroke-width="1.0" />
<path d="M140.59 737.06A5.00 8.20 30.80 0 0 140.50 727.46A5.00 8.20 30.80 0 0 132.01 731.94A5.00 8.20 30.80 0 0 132.10 741.54A5.00 8.20 30.80 0 0 140.59 737.06Z" fill="#fff" stroke="#000" stroke-width="1.3" />
<path d="M138.75 736.00A3.90 6.80 30.80 0 0 138.88 728.16A3.90 6.80 30.80 0 0 132.05 732.00A3.90 6.80 30.80 0 0 131.92 739.84A3.90 6.80 30.80 0 0 138.75 736.00Z" fill="none" stroke="#333" stroke-width="0.7" />
<path d="M137.18 735.04A3.00 5.60 30.80 0 0 137.47 728.69A3.00 5.60 30.80 0 0 132.02 731.96A3.00 5.60 30.80 0 0 131.73 738.31A3.00 5.60 30.80 0 0 137.18 735.04Z" fill="none" stroke="#333" stroke-width="0.7" />
<path d="M160.79 748.90A8.60 13.30 30.80 0 0 160.21 733.08A8.60 13.30 30.80 0 0 146.01 740.10A8.60 13.30 30.80 0 0 146.59 755.92A8.60 13.30 30.80 0 0 160.79 748.90Z" fill="#fff" stroke="#000" stroke-width="1.0" />
<path d="M160.2 733.1L163.4 734.9L149.8 757.7L146.6 755.9Z" fill="#fff" stroke="#000" stroke-width="0.9" />
<path d="M163.99 750.70A8.60 13.30 30.80 0 0 163.41 734.88A8.60 13.30 30.80 0 0 149.21 741.90A8.60 13.30 30.80 0 0 149.79 757.72A8.60 13.30 30.80 0 0 163.99 750.70Z" fill="#fff" stroke="#000" stroke-width="1.0" />
<path d="M160.59 748.70A4.30 7.00 30.80 0 0 160.48 740.49A4.30 7.00 30.80 0 0 153.21 744.30A4.30 7.00 30.80 0 0 153.32 752.51A4.30 7.00 30.80 0 0 160.59 748.70Z" fill="#fff" stroke="#000" stroke-width="1.0" />
<path d="M151.51 751.40A4.30 7.00 30.80 0 0 158.66 746.22A4.30 7.00 30.80 0 0 157.29 738.80" fill="none" stroke="#000" stroke-width="0.8" />
<path d="M185.75 764.02A9.60 14.60 30.80 0 0 184.98 746.56A9.60 14.60 30.80 0 0 169.25 754.18A9.60 14.60 30.80 0 0 170.02 771.64A9.60 14.60 30.80 0 0 185.75 764.02Z" fill="#fff" stroke="#000" stroke-width="1.0" />
<path d="M186.65 764.52A9.60 14.60 30.80 0 0 185.88 747.06A9.60 14.60 30.80 0 0 170.15 754.68A9.60 14.60 30.80 0 0 170.92 772.14A9.60 14.60 30.80 0 0 186.65 764.52Z" fill="#fff" stroke="#000" stroke-width="1.0" />
<path d="M183.41 762.57A5.60 9.20 30.80 0 0 183.31 751.80A5.60 9.20 30.80 0 0 173.79 756.83A5.60 9.20 30.80 0 0 173.89 767.60A5.60 9.20 30.80 0 0 183.41 762.57Z" fill="#fff" stroke="#000" stroke-width="1.0" />
<path d="M288.90 822.13A10.60 16.60 30.80 0 0 288.30 802.44A10.60 16.60 30.80 0 0 270.70 811.27A10.60 16.60 30.80 0 0 271.30 830.96A10.60 16.60 30.80 0 0 288.90 822.13Z" fill="#fff" stroke="#000" stroke-width="1.0" />
<path d="M290.10 822.83A10.60 16.60 30.80 0 0 289.50 803.14A10.60 16.60 30.80 0 0 271.90 811.97A10.60 16.60 30.80 0 0 272.50 831.66A10.60 16.60 30.80 0 0 290.10 822.83Z" fill="#fff" stroke="#000" stroke-width="1.0" />
<path d="M286.35 820.57A6.00 10.20 30.80 0 0 286.42 808.74A6.00 10.20 30.80 0 0 276.05 814.43A6.00 10.20 30.80 0 0 275.98 826.26A6.00 10.20 30.80 0 0 286.35 820.57Z" fill="#fff" stroke="#000" stroke-width="1.0" />
<path d="M486.28 935.83A10.80 17.20 30.80 0 0 485.81 915.53A10.80 17.20 30.80 0 0 467.72 924.77A10.80 17.20 30.80 0 0 468.19 945.07A10.80 17.20 30.80 0 0 486.28 935.83Z" fill="#fff" stroke="#000" stroke-width="1.0" />
<path d="M487.88 936.73A10.80 17.20 30.80 0 0 487.41 916.43A10.80 17.20 30.80 0 0 469.32 925.67A10.80 17.20 30.80 0 0 469.79 945.97A10.80 17.20 30.80 0 0 487.88 936.73Z" fill="#fff" stroke="#000" stroke-width="1.0" />
<path d="M483.88 934.37A5.80 10.60 30.80 0 0 484.33 922.30A5.80 10.60 30.80 0 0 473.92 928.43A5.80 10.60 30.80 0 0 473.47 940.50A5.80 10.60 30.80 0 0 483.88 934.37Z" fill="#fff" stroke="#000" stroke-width="1.0" />
<path d="M412.73 893.29A7.60 12.20 30.80 0 0 412.45 878.92A7.60 12.20 30.80 0 0 399.67 885.51A7.60 12.20 30.80 0 0 399.95 899.88A7.60 12.20 30.80 0 0 412.73 893.29Z" fill="#fff" stroke="#000" stroke-width="1.0" />
<path d="M412.4 878.9L429.0 888.3L416.6 909.3L400.0 899.9Z" fill="#fff" stroke="none" stroke-width="0" />
<path d="M412.4 878.9L429.0 888.3" fill="none" stroke="#000" stroke-width="1.0" />
<path d="M400.0 899.9L416.6 909.3" fill="none" stroke="#000" stroke-width="1.0" />
<path d="M429.33 902.69A7.60 12.20 30.80 0 0 429.05 888.32A7.60 12.20 30.80 0 0 416.27 894.91A7.60 12.20 30.80 0 0 416.55 909.28A7.60 12.20 30.80 0 0 429.33 902.69Z" fill="#fff" stroke="#000" stroke-width="1.0" />
<path d="M428.07 901.92A5.90 10.00 30.80 0 0 428.12 890.31A5.90 10.00 30.80 0 0 417.93 895.88A5.90 10.00 30.80 0 0 417.88 907.49A5.90 10.00 30.80 0 0 428.07 901.92Z" fill="#fff" stroke="#000" stroke-width="0.9" />
<ellipse cx="405.8" cy="898.6" rx="1.1" ry="1.4" transform="rotate(0 405.8 898.6)" fill="#fff" stroke="#000" stroke-width="0.9"/>
<path d="M449.53 914.61A9.00 13.90 30.80 0 0 448.92 898.06A9.00 13.90 30.80 0 0 434.07 905.39A9.00 13.90 30.80 0 0 434.68 921.94A9.00 13.90 30.80 0 0 449.53 914.61Z" fill="#fff" stroke="#000" stroke-width="1.1" />
<path d="M448.9 898.1L464.1 906.7L449.9 930.5L434.7 921.9Z" fill="#fff" stroke="none" stroke-width="0" />
<path d="M448.9 898.1L464.1 906.7" fill="none" stroke="#000" stroke-width="1.1" />
<path d="M434.7 921.9L449.9 930.5" fill="none" stroke="#000" stroke-width="1.1" />
<path d="M449.4 898.6L460.8 904.9M447.0 898.3L458.5 904.7M444.5 898.9L456.0 905.2M442.0 900.1L453.4 906.5M439.5 902.1L450.9 908.4M437.3 904.5L448.7 910.9M435.5 907.4L446.9 913.7M434.1 910.4L445.6 916.8M433.4 913.5L444.8 919.9M433.2 916.5L444.6 922.9M433.7 919.2L445.1 925.5M434.7 921.3L446.1 927.7" fill="none" stroke="#000" stroke-width="1.5" />
<path d="M449.93 898.73A9.00 13.90 30.80 0 0 435.79 906.42A9.00 13.90 30.80 0 0 435.75 922.52" fill="none" stroke="#000" stroke-width="0.8" />
<path d="M461.70 905.28A9.00 13.90 30.80 0 0 447.55 912.97A9.00 13.90 30.80 0 0 447.52 929.07" fill="none" stroke="#000" stroke-width="0.8" />
<path d="M464.73 923.21A9.00 13.90 30.80 0 0 464.12 906.66A9.00 13.90 30.80 0 0 449.27 913.99A9.00 13.90 30.80 0 0 449.88 930.54A9.00 13.90 30.80 0 0 464.73 923.21Z" fill="#fff" stroke="#000" stroke-width="1.2" />
<path d="M463.18 922.29A7.20 11.60 30.80 0 0 462.94 908.64A7.20 11.60 30.80 0 0 450.82 914.91A7.20 11.60 30.80 0 0 451.06 928.56A7.20 11.60 30.80 0 0 463.18 922.29Z" fill="#fff" stroke="#000" stroke-width="0.9" />
<clipPath id="nb"><path d="M463.18 922.29A7.20 11.60 30.80 0 0 462.94 908.64A7.20 11.60 30.80 0 0 450.82 914.91A7.20 11.60 30.80 0 0 451.06 928.56A7.20 11.60 30.80 0 0 463.18 922.29Z"/></clipPath>
<g clip-path="url(#nb)">
<path d="M445.9 924.3L453.7 928.9M448.2 923.9L455.9 928.5M450.5 922.7L458.2 927.3M452.7 920.9L460.4 925.5M454.6 918.6L462.4 923.2M456.2 915.9L463.9 920.5M457.2 913.0L464.9 917.6M457.6 910.2L465.3 914.8M457.3 907.7L465.0 912.3M456.4 905.7L464.2 910.3" fill="none" stroke="#000" stroke-width="1.3" />
</g>
<path d="M238.80 793.22A26.40 43.30 30.80 0 0 238.30 742.51A26.40 43.30 30.80 0 0 193.45 766.18A26.40 43.30 30.80 0 0 193.95 816.89A26.40 43.30 30.80 0 0 238.80 793.22Z" fill="#fff" stroke="#000" stroke-width="1.0" />
<path d="M238.3 742.5L256.3 753.3L212.0 827.6L194.0 816.9Z" fill="#fff" stroke="none" stroke-width="0" />
<path d="M243.2 743.7L241.0 741.6L259.0 752.4L261.3 754.4Z" fill="#fff" stroke="#000" stroke-width="1.0" stroke-linejoin="round"/>
<path d="M239.4 740.6L236.7 739.3L254.7 750.1L257.5 751.4Z" fill="#fff" stroke="#000" stroke-width="1.0" stroke-linejoin="round"/>
<path d="M234.9 738.7L231.8 738.2L249.9 748.9L253.0 749.5Z" fill="#fff" stroke="#000" stroke-width="1.0" stroke-linejoin="round"/>
<path d="M229.9 738.1L226.5 738.3L244.5 749.1L247.9 748.9Z" fill="#fff" stroke="#000" stroke-width="1.0" stroke-linejoin="round"/>
<path d="M224.4 738.7L220.8 739.8L238.9 750.5L242.4 749.5Z" fill="#fff" stroke="#000" stroke-width="1.0" stroke-linejoin="round"/>
<path d="M218.6 740.6L215.0 742.4L233.1 753.1L236.7 751.4Z" fill="#fff" stroke="#000" stroke-width="1.0" stroke-linejoin="round"/>
<path d="M212.8 743.7L209.2 746.1L227.3 756.9L230.8 754.4Z" fill="#fff" stroke="#000" stroke-width="1.0" stroke-linejoin="round"/>
<path d="M207.1 747.8L203.7 750.9L221.7 761.7L225.1 758.6Z" fill="#fff" stroke="#000" stroke-width="1.0" stroke-linejoin="round"/>
<path d="M201.7 753.0L198.5 756.6L216.5 767.3L219.7 763.7Z" fill="#fff" stroke="#000" stroke-width="1.0" stroke-linejoin="round"/>
<path d="M196.7 758.9L193.8 762.9L211.9 773.7L214.7 769.6Z" fill="#fff" stroke="#000" stroke-width="1.0" stroke-linejoin="round"/>
<path d="M192.2 765.5L189.9 769.8L207.9 780.5L210.3 776.2Z" fill="#fff" stroke="#000" stroke-width="1.0" stroke-linejoin="round"/>
<path d="M188.6 772.5L186.7 776.9L204.7 787.7L206.6 783.2Z" fill="#fff" stroke="#000" stroke-width="1.0" stroke-linejoin="round"/>
<path d="M185.7 779.7L184.4 784.2L202.5 794.9L203.8 790.4Z" fill="#fff" stroke="#000" stroke-width="1.0" stroke-linejoin="round"/>
<path d="M183.8 786.9L183.1 791.3L201.1 802.0L201.8 797.7Z" fill="#fff" stroke="#000" stroke-width="1.0" stroke-linejoin="round"/>
<path d="M182.9 793.9L182.8 798.1L200.8 808.8L200.9 804.7Z" fill="#fff" stroke="#000" stroke-width="1.0" stroke-linejoin="round"/>
<path d="M182.9 800.5L183.5 804.3L201.5 815.0L201.0 811.2Z" fill="#fff" stroke="#000" stroke-width="1.0" stroke-linejoin="round"/>
<path d="M184.0 806.4L185.2 809.7L203.2 820.5L202.0 817.2Z" fill="#fff" stroke="#000" stroke-width="1.0" stroke-linejoin="round"/>
<path d="M186.1 811.6L187.8 814.3L205.8 825.0L204.1 822.3Z" fill="#fff" stroke="#000" stroke-width="1.0" stroke-linejoin="round"/>
<path d="M189.0 815.7L191.3 817.8L209.3 828.5L207.1 826.5Z" fill="#fff" stroke="#000" stroke-width="1.0" stroke-linejoin="round"/>
<path d="M192.8 818.8L195.5 820.1L213.6 830.8L210.9 829.5Z" fill="#fff" stroke="#000" stroke-width="1.0" stroke-linejoin="round"/>
<path d="M264.49 808.53A34.30 56.30 30.80 0 0 263.85 742.60A34.30 56.30 30.80 0 0 205.56 773.40A34.30 56.30 30.80 0 0 206.20 839.32A34.30 56.30 30.80 0 0 264.49 808.53Z" fill="#fff" stroke="#000" stroke-width="1.1" />
<path d="M266.80 809.91A34.00 56.00 30.80 0 0 266.27 744.40A34.00 56.00 30.80 0 0 208.40 775.09A34.00 56.00 30.80 0 0 208.93 840.60A34.00 56.00 30.80 0 0 266.80 809.91Z" fill="#fff" stroke="#000" stroke-width="1.2" />
<path d="M265.00 808.78A31.20 52.00 30.80 0 0 264.83 748.13A31.20 52.00 30.80 0 0 211.40 776.82A31.20 52.00 30.80 0 0 211.57 837.47A31.20 52.00 30.80 0 0 265.00 808.78Z" fill="#fff" stroke="#000" stroke-width="0.9" />
<path d="M260.43 806.18A23.20 38.50 30.80 0 0 260.21 761.23A23.20 38.50 30.80 0 0 220.57 782.42A23.20 38.50 30.80 0 0 220.79 827.37A23.20 38.50 30.80 0 0 260.43 806.18Z" fill="#fff" stroke="#000" stroke-width="1.0" />
<path d="M260.14 805.95A21.00 35.50 30.80 0 0 260.28 764.71A21.00 35.50 30.80 0 0 224.06 784.45A21.00 35.50 30.80 0 0 223.92 825.69A21.00 35.50 30.80 0 0 260.14 805.95Z" fill="#fff" stroke="#000" stroke-width="0.9" />
<ellipse cx="233.8" cy="770.1" rx="1.7" ry="2.6" transform="rotate(22 233.8 770.1)" fill="#fff" stroke="#000" stroke-width="0.9"/>
<ellipse cx="252.5" cy="770.6" rx="1.7" ry="2.6" transform="rotate(22 252.5 770.6)" fill="#fff" stroke="#000" stroke-width="0.9"/>
<ellipse cx="219.5" cy="792.0" rx="1.7" ry="2.6" transform="rotate(22 219.5 792.0)" fill="#fff" stroke="#000" stroke-width="0.9"/>
<ellipse cx="219.2" cy="811.4" rx="1.7" ry="2.6" transform="rotate(22 219.2 811.4)" fill="#fff" stroke="#000" stroke-width="0.9"/>
<ellipse cx="234.1" cy="814.7" rx="1.7" ry="2.6" transform="rotate(22 234.1 814.7)" fill="#fff" stroke="#000" stroke-width="0.9"/>
<path d="M245.69 797.64A9.60 15.60 30.80 0 0 245.43 779.33A9.60 15.60 30.80 0 0 229.20 787.81A9.60 15.60 30.80 0 0 229.46 806.13A9.60 15.60 30.80 0 0 245.69 797.64Z" fill="#fff" stroke="#000" stroke-width="0.9" />
<path d="M245.4 779.3L250.6 782.4L234.6 809.2L229.5 806.1Z" fill="#fff" stroke="none" stroke-width="0" />
<path d="M245.4 779.3L250.6 782.4" fill="none" stroke="#000" stroke-width="0.9" />
<path d="M229.5 806.1L234.6 809.2" fill="none" stroke="#000" stroke-width="0.9" />
<path d="M250.85 800.72A9.60 15.60 30.80 0 0 250.59 782.40A9.60 15.60 30.80 0 0 234.35 790.88A9.60 15.60 30.80 0 0 234.61 809.20A9.60 15.60 30.80 0 0 250.85 800.72Z" fill="#fff" stroke="#000" stroke-width="1.1" />
<path d="M248.40 799.28A6.40 10.60 30.80 0 0 248.33 786.90A6.40 10.60 30.80 0 0 237.40 792.72A6.40 10.60 30.80 0 0 237.47 805.10A6.40 10.60 30.80 0 0 248.40 799.28Z" fill="#fff" stroke="#000" stroke-width="1.2" />
<clipPath id="hc"><path d="M248.40 799.28A6.40 10.60 30.80 0 0 248.33 786.90A6.40 10.60 30.80 0 0 237.40 792.72A6.40 10.60 30.80 0 0 237.47 805.10A6.40 10.60 30.80 0 0 248.40 799.28Z"/></clipPath>
<g clip-path="url(#hc)">
<path d="M244.9 786.5L249.6 789.0M242.2 787.6L247.0 790.2M239.6 789.8L244.4 792.4M237.4 792.7L242.2 795.3M235.9 796.0L240.7 798.6M235.2 799.3L240.0 801.9M235.5 802.2L240.2 804.8" fill="none" stroke="#000" stroke-width="1.1" />
</g>
<path d="M242.5 773.5L244.5 779.0" fill="none" stroke="#000" stroke-width="0.9" />
<path d="M225.0 806.5L230.5 805.0" fill="none" stroke="#000" stroke-width="0.9" />
<path d="M252.5 792.0L255.0 796.5L253.5 799.0" fill="none" stroke="#000" stroke-width="0.9" />
<path d="M58.6 914.1L74.5 888.1L78.9 890.6L78.9 893.8L103.4 879.8L107.4 882.3L107.4 902.4L78.9 918.0L79.4 925.9Z" fill="#fff" stroke="#000" stroke-width="1.5" stroke-linejoin="miter"/>
<path d="M63.2 915.3L78.4 891.2" fill="none" stroke="#000" stroke-width="0.9" />
<path d="M78.6 890.8L78.7 918.2" fill="none" stroke="#000" stroke-width="1.4" />
<path d="M79.0 897.2L104.5 883.3L107.4 882.3" fill="none" stroke="#000" stroke-width="0.9" />
<path d="M104.5 883.3L103.5 879.9" fill="none" stroke="#000" stroke-width="0.0" />
<text transform="matrix(0.87 -0.485 -0.08 1 78.3 915.6)" font-size="17.3" font-weight="bold" font-style="italic" stroke="#000" stroke-width="0.5" textLength="30.5" lengthAdjust="spacingAndGlyphs">FWD</text>
<path d="M364.1 792.1L354.2 786.2L348.4 785.4L358.3 791.3Z" fill="#fff" stroke="#000" stroke-width="1.1" stroke-linejoin="round"/>
<path d="M348.4 785.4L346.9 789.5L356.8 795.4" fill="none" stroke="#000" stroke-width="0.9" />
<path d="M342.3 794.5L332.4 788.6L325.6 792.0L335.5 797.8Z" fill="#fff" stroke="#000" stroke-width="1.1" stroke-linejoin="round"/>
<path d="M325.6 792.0L325.8 795.6L335.6 801.5" fill="none" stroke="#000" stroke-width="0.9" />
<path d="M319.2 810.6L309.3 804.8L303.3 811.5L313.2 817.4Z" fill="#fff" stroke="#000" stroke-width="1.1" stroke-linejoin="round"/>
<path d="M303.3 811.5L305.1 813.8L314.9 819.7" fill="none" stroke="#000" stroke-width="0.9" />
<path d="M299.3 839.6L289.4 833.7L285.9 842.2L295.8 848.1Z" fill="#fff" stroke="#000" stroke-width="1.1" stroke-linejoin="round"/>
<path d="M285.9 842.2L288.9 842.4L298.8 848.3" fill="none" stroke="#000" stroke-width="0.9" />
<path d="M291.1 868.7L281.3 862.9L281.1 870.7L290.9 876.6Z" fill="#fff" stroke="#000" stroke-width="1.1" stroke-linejoin="round"/>
<path d="M281.1 870.7L284.4 868.9L294.3 874.7" fill="none" stroke="#000" stroke-width="0.9" />
<path d="M294.0 891.7L284.1 885.8L287.0 891.3L296.9 897.2Z" fill="#fff" stroke="#000" stroke-width="1.1" stroke-linejoin="round"/>
<path d="M287.0 891.3L289.9 888.0L299.8 893.9" fill="none" stroke="#000" stroke-width="0.9" />
<path d="M368.80 868.35A38.50 64.00 30.80 0 0 368.50 793.67A38.50 64.00 30.80 0 0 302.66 828.93A38.50 64.00 30.80 0 0 302.96 903.61A38.50 64.00 30.80 0 0 368.80 868.35Z" fill="#fff" stroke="#000" stroke-width="1.1" />
<path d="M368.5 793.7L395.3 807.3L327.7 920.7L303.0 903.6Z" fill="#fff" stroke="none" stroke-width="0" />
<path d="M368.5 793.7L395.3 807.3" fill="none" stroke="#000" stroke-width="1.0" />
<path d="M303.0 903.6L327.7 920.7" fill="none" stroke="#000" stroke-width="1.0" />
<path d="M375.55 797.56A38.68 64.30 30.80 0 0 308.26 832.26A38.68 64.30 30.80 0 0 309.74 907.96" fill="none" stroke="#000" stroke-width="1.0" />
<path d="M383.39 801.42A39.10 65.00 30.80 0 0 315.37 836.50A39.10 65.00 30.80 0 0 316.87 913.02" fill="none" stroke="#000" stroke-width="1.0" />
<path d="M384.83 801.94A39.40 65.50 30.80 0 0 319.66 841.06A39.40 65.50 30.80 0 0 319.67 915.27" fill="none" stroke="#000" stroke-width="0.8" stroke-dasharray="8 2 2 2"/>
<path d="M358.9 794.7L355.0 795.4L358.5 797.2L362.4 796.5Z" fill="none" stroke="#000" stroke-width="0.8" />
<path d="M335.5 804.9L331.5 808.0L334.9 809.8L338.9 806.7Z" fill="none" stroke="#000" stroke-width="0.8" />
<path d="M312.8 829.1L309.8 833.9L313.1 835.8L316.1 831.0Z" fill="none" stroke="#000" stroke-width="0.8" />
<path d="M299.2 859.2L298.0 864.2L301.2 866.3L302.4 861.2Z" fill="none" stroke="#000" stroke-width="0.8" />
<path d="M297.1 886.0L297.9 890.1L301.1 892.3L300.3 888.2Z" fill="none" stroke="#000" stroke-width="0.8" />
<path d="M392.85 882.69A40.00 66.50 30.80 0 0 392.54 805.09A40.00 66.50 30.80 0 0 324.14 841.73A40.00 66.50 30.80 0 0 324.44 919.33A40.00 66.50 30.80 0 0 392.85 882.69Z" fill="#fff" stroke="#000" stroke-width="1.1" />
<path d="M395.60 884.33A39.70 66.00 30.80 0 0 395.29 807.31A39.70 66.00 30.80 0 0 327.40 843.67A39.70 66.00 30.80 0 0 327.71 920.69A39.70 66.00 30.80 0 0 395.60 884.33Z" fill="#fff" stroke="#000" stroke-width="0.9" stroke-dasharray="9 2 2 2"/>
<path d="M394.27 883.54A36.40 61.00 30.80 0 0 394.23 812.50A36.40 61.00 30.80 0 0 331.73 846.26A36.40 61.00 30.80 0 0 331.77 917.30A36.40 61.00 30.80 0 0 394.27 883.54Z" fill="#fff" stroke="#000" stroke-width="0.9" />
<path d="M370.1 819.6L371.3 809.9L368.9 810.7L368.0 820.3ZM366.4 821.0L366.9 811.5L364.4 812.6L364.4 821.9ZM362.7 822.8L362.4 813.7L359.9 815.1L360.7 823.9ZM359.1 825.0L357.9 816.3L355.4 818.0L357.0 826.4ZM355.4 827.6L353.5 819.5L351.0 821.5L353.4 829.2ZM351.9 830.6L349.1 823.1L346.7 825.3L349.9 832.4ZM348.4 833.9L344.9 827.1L342.6 829.6L346.5 835.9ZM345.1 837.6L340.8 831.6L338.7 834.2L343.3 839.7ZM341.9 841.5L337.0 836.3L335.0 839.1L340.3 843.8Z" fill="#fff" stroke="#000" stroke-width="1.3" stroke-linejoin="round"/>
<path d="M393.85 882.30A33.00 54.80 30.80 0 0 393.56 818.33A33.00 54.80 30.80 0 0 337.15 848.50A33.00 54.80 30.80 0 0 337.44 912.47A33.00 54.80 30.80 0 0 393.85 882.30Z" fill="none" stroke="#000" stroke-width="0.8" stroke-dasharray="7 2 1.5 2"/>
<path d="M393.79 882.29A32.00 53.30 30.80 0 0 393.59 820.12A32.00 53.30 30.80 0 0 338.81 849.51A32.00 53.30 30.80 0 0 339.01 911.68A32.00 53.30 30.80 0 0 393.79 882.29Z" fill="#fff" stroke="#000" stroke-width="1.3" />
<path d="M344.7 849.3L357.8 834.7L363.9 844.7L350.1 860.9Z" fill="#fff" stroke="#000" stroke-width="1.2" stroke-linejoin="round"/>
<path d="M346.5 847.3Q352.2 849.6 352.0 858.6M348.9 844.6Q354.7 846.8 354.5 855.7M351.2 842.0Q357.1 844.0 357.0 852.8M353.6 839.4Q359.5 841.2 359.5 849.9M356.0 836.7Q361.9 838.5 362.0 847.0" fill="none" stroke="#000" stroke-width="1.5" />
<path d="M345.3 850.7L358.5 835.9" fill="none" stroke="#000" stroke-width="0.7" />
<path d="M367.0 825.4L384.0 824.7L384.7 840.1L366.2 841.6Z" fill="#fff" stroke="#000" stroke-width="1.2" stroke-linejoin="round"/>
<path d="M369.4 825.3Q373.0 833.1 368.8 841.4M372.4 825.2Q376.2 832.9 372.1 841.1M375.5 825.0Q379.4 832.7 375.4 840.9M378.6 824.9Q382.6 832.5 378.8 840.6M381.6 824.8Q385.8 832.3 382.1 840.3" fill="none" stroke="#000" stroke-width="1.5" />
<path d="M366.9 827.3L384.1 826.5" fill="none" stroke="#000" stroke-width="0.7" />
<path d="M390.1 865.5L387.8 846.2L399.4 840.8L400.1 861.6Z" fill="#fff" stroke="#000" stroke-width="1.2" stroke-linejoin="round"/>
<path d="M389.8 862.8Q394.6 856.3 400.0 858.7M389.4 859.3Q394.3 852.7 399.9 854.9M389.0 855.9Q394.0 849.1 399.8 851.2M388.5 852.4Q393.8 845.5 399.6 847.5M388.1 848.9Q393.5 841.9 399.5 843.7" fill="none" stroke="#000" stroke-width="1.5" />
<path d="M391.3 865.0L389.2 845.6" fill="none" stroke="#000" stroke-width="0.7" />
<path d="M371.6 890.9L384.0 875.5L390.1 883.2L376.3 898.6Z" fill="#fff" stroke="#000" stroke-width="1.2" stroke-linejoin="round"/>
<path d="M373.3 888.7Q378.7 889.2 378.2 896.4M375.6 886.0Q381.0 886.4 380.7 893.7M377.8 883.2Q383.4 883.7 383.2 890.9M380.0 880.4Q385.7 880.9 385.7 888.1M382.3 877.7Q388.1 878.1 388.2 885.4" fill="none" stroke="#000" stroke-width="1.5" />
<path d="M372.2 891.8L384.7 876.4" fill="none" stroke="#000" stroke-width="0.7" />
<path d="M348.5 890.9L360.1 896.3L354.7 907.9L337.7 902.5Z" fill="#fff" stroke="#000" stroke-width="1.2" stroke-linejoin="round"/>
<path d="M350.1 891.7Q348.2 898.6 340.1 903.3M352.2 892.6Q350.8 899.6 343.1 904.2M354.3 893.6Q353.4 900.6 346.2 905.2M356.4 894.6Q356.0 901.6 349.3 906.2M358.5 895.5Q358.5 902.5 352.3 907.1" fill="none" stroke="#000" stroke-width="1.5" />
<path d="M347.2 892.3L359.5 897.7" fill="none" stroke="#000" stroke-width="0.7" />
<path d="M334.7 893.2L332.3 876.3L346.2 873.2L347.8 889.4Z" fill="#fff" stroke="#000" stroke-width="1.2" stroke-linejoin="round"/>
<path d="M334.4 890.8Q340.5 885.3 347.6 887.1M333.9 887.8Q340.2 882.4 347.3 884.2M333.5 884.8Q339.8 879.4 347.0 881.3M333.1 881.7Q339.5 876.4 346.7 878.4M332.6 878.7Q339.1 873.4 346.4 875.5" fill="none" stroke="#000" stroke-width="1.5" />
<path d="M336.3 892.7L334.0 875.9" fill="none" stroke="#000" stroke-width="0.7" />
<ellipse cx="391.7" cy="834.2" rx="3.1" ry="4.2" transform="rotate(25 391.7 834.2)" fill="#fff" stroke="#000" stroke-width="1.0"/>
<ellipse cx="340.0" cy="863.2" rx="3.1" ry="4.2" transform="rotate(25 340.0 863.2)" fill="#fff" stroke="#000" stroke-width="1.0"/>
<ellipse cx="366.2" cy="900.9" rx="3.1" ry="4.2" transform="rotate(25 366.2 900.9)" fill="#fff" stroke="#000" stroke-width="1.0"/>
<path d="M379.5 849.4L379.3 849.3L379.1 849.3L378.8 849.3L378.6 849.3L378.4 849.3L378.2 849.3L378.0 849.3L378.9 845.7L378.6 845.7L378.3 845.7L378.1 845.8L377.8 845.8L377.5 845.8L377.3 845.9L377.0 845.9L376.7 846.0L375.7 849.6L375.5 849.7L375.2 849.8L375.0 849.8L374.7 849.9L374.5 850.0L374.3 850.1L374.0 850.1L373.8 850.2L373.9 846.9L373.6 847.0L373.3 847.1L373.0 847.3L372.7 847.4L372.5 847.5L372.2 847.7L371.9 847.8L371.6 848.0L371.4 851.4L371.1 851.5L370.9 851.7L370.6 851.8L370.4 852.0L370.2 852.1L369.9 852.3L369.7 852.5L369.4 852.6L368.7 849.8L368.4 850.0L368.2 850.2L367.9 850.4L367.6 850.7L367.3 850.9L367.0 851.1L366.8 851.4L366.5 851.6L367.1 854.5L366.8 854.7L366.6 854.9L366.4 855.1L366.2 855.4L365.9 855.6L365.7 855.8L365.5 856.0L365.3 856.3L363.8 854.2L363.5 854.5L363.3 854.8L363.0 855.1L362.8 855.4L362.5 855.7L362.3 856.0L362.0 856.3L361.8 856.6L363.1 858.8L362.9 859.0L362.7 859.3L362.5 859.6L362.3 859.8L362.2 860.1L362.0 860.4L361.8 860.6L361.6 860.9L359.5 859.8L359.3 860.1L359.1 860.4L358.9 860.8L358.7 861.1L358.5 861.5L358.3 861.8L358.1 862.2L357.9 862.5L359.9 863.8L359.7 864.1L359.6 864.4L359.4 864.7L359.3 865.0L359.1 865.3L359.0 865.6L358.8 865.9L358.7 866.2L356.1 866.0L356.0 866.4L355.8 866.8L355.7 867.1L355.5 867.5L355.4 867.9L355.3 868.2L355.1 868.6L355.0 868.9L357.5 869.2L357.4 869.5L357.3 869.8L357.2 870.2L357.2 870.5L357.1 870.8L357.0 871.1L356.9 871.4L356.8 871.7L354.0 872.5L353.9 872.9L353.8 873.3L353.8 873.6L353.7 874.0L353.6 874.3L353.6 874.7L353.5 875.0L353.5 875.4L356.3 874.6L356.3 874.9L356.2 875.2L356.2 875.5L356.2 875.8L356.2 876.1L356.2 876.4L356.1 876.7L356.1 876.9L353.2 878.8L353.2 879.1L353.2 879.4L353.3 879.7L353.3 880.0L353.3 880.4L353.3 880.7" fill="none" stroke="#000" stroke-width="1.1" stroke-linejoin="round"/>
<path d="M358.49 858.26A16.50 27.00 30.80 0 0 352.12 883.72A16.50 27.00 30.80 0 0 366.51 893.01" fill="none" stroke="#000" stroke-width="0.9" />
<path d="M391.14 860.26A16.50 27.00 30.80 0 0 382.55 844.39" fill="none" stroke="#000" stroke-width="0.9" />
<path d="M384.04 876.14A11.80 19.60 30.80 0 0 383.94 853.26A11.80 19.60 30.80 0 0 363.76 864.06A11.80 19.60 30.80 0 0 363.86 886.94A11.80 19.60 30.80 0 0 384.04 876.14Z" fill="#fff" stroke="#000" stroke-width="1.1" />
<path d="M383.50 875.83A10.60 17.80 30.80 0 0 383.51 855.11A10.60 17.80 30.80 0 0 365.30 864.97A10.60 17.80 30.80 0 0 365.29 885.69A10.60 17.80 30.80 0 0 383.50 875.83Z" fill="#fff" stroke="#000" stroke-width="0.8" />
<path d="M382.80 875.41A9.20 15.60 30.80 0 0 382.89 857.30A9.20 15.60 30.80 0 0 367.00 865.99A9.20 15.60 30.80 0 0 366.91 884.10A9.20 15.60 30.80 0 0 382.80 875.41Z" fill="#fff" stroke="#000" stroke-width="1.0" />
</svg></body></html>
